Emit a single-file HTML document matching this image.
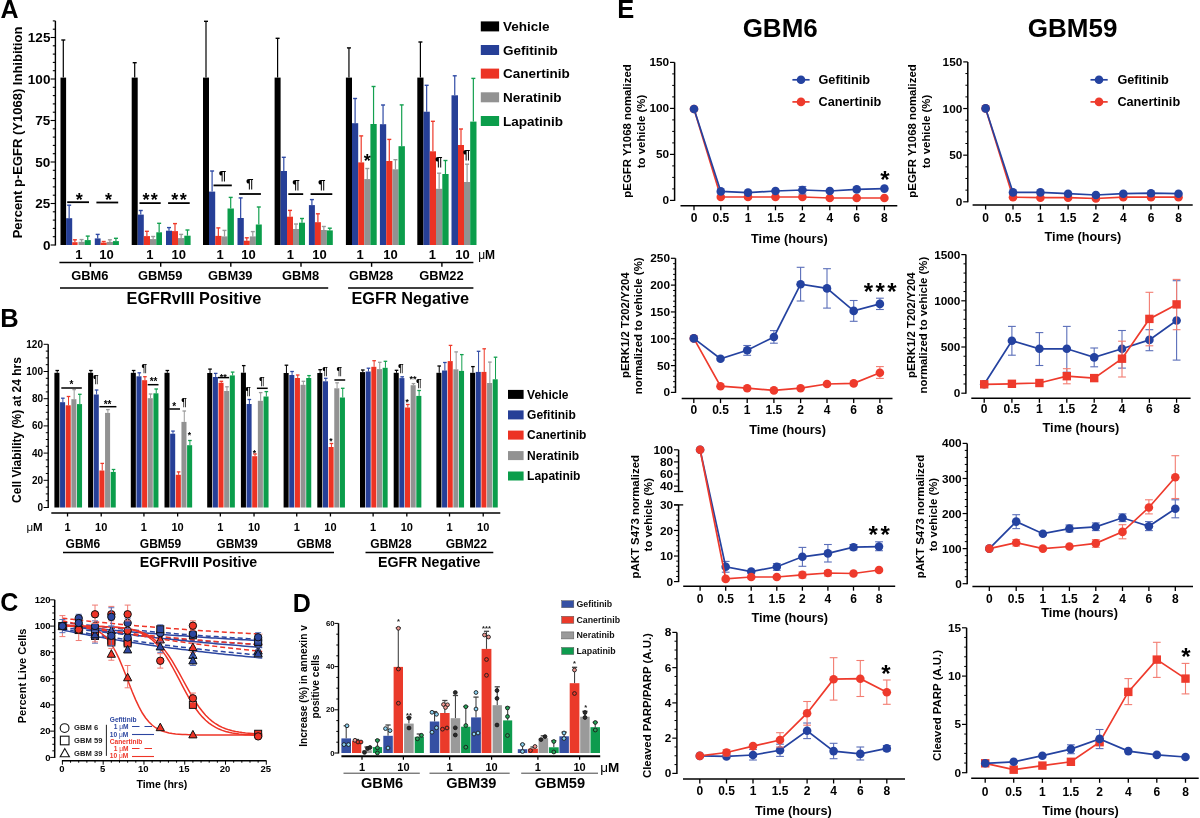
<!DOCTYPE html>
<html><head><meta charset="utf-8"><style>
html,body{margin:0;padding:0;background:#fff;width:1200px;height:818px;overflow:hidden}
svg{display:block;font-family:"Liberation Sans",sans-serif;will-change:transform}
</style></head><body>
<svg width="1200" height="818" viewBox="0 0 1200 818">
<rect width="1200" height="818" fill="#fff"/>
<text x="0.5" y="17.6" font-size="25" text-anchor="start" fill="#000" font-weight="bold">A</text>
<line x1="55.4" y1="20.9" x2="55.4" y2="245.5" stroke="#000" stroke-width="1.4"/>
<line x1="50.6" y1="245" x2="55.4" y2="245" stroke="#000" stroke-width="1.1"/>
<text x="50.4" y="249.64" font-size="13.5" text-anchor="end" fill="#000" font-weight="bold">0</text>
<line x1="52.8" y1="236.7" x2="55.4" y2="236.7" stroke="#000" stroke-width="1.1"/>
<line x1="52.8" y1="228.4" x2="55.4" y2="228.4" stroke="#000" stroke-width="1.1"/>
<line x1="52.8" y1="220.1" x2="55.4" y2="220.1" stroke="#000" stroke-width="1.1"/>
<line x1="52.8" y1="211.8" x2="55.4" y2="211.8" stroke="#000" stroke-width="1.1"/>
<line x1="50.6" y1="203.5" x2="55.4" y2="203.5" stroke="#000" stroke-width="1.1"/>
<text x="50.4" y="208.14" font-size="13.5" text-anchor="end" fill="#000" font-weight="bold">25</text>
<line x1="52.8" y1="195.2" x2="55.4" y2="195.2" stroke="#000" stroke-width="1.1"/>
<line x1="52.8" y1="186.9" x2="55.4" y2="186.9" stroke="#000" stroke-width="1.1"/>
<line x1="52.8" y1="178.6" x2="55.4" y2="178.6" stroke="#000" stroke-width="1.1"/>
<line x1="52.8" y1="170.3" x2="55.4" y2="170.3" stroke="#000" stroke-width="1.1"/>
<line x1="50.6" y1="162" x2="55.4" y2="162" stroke="#000" stroke-width="1.1"/>
<text x="50.4" y="166.64" font-size="13.5" text-anchor="end" fill="#000" font-weight="bold">50</text>
<line x1="52.8" y1="153.7" x2="55.4" y2="153.7" stroke="#000" stroke-width="1.1"/>
<line x1="52.8" y1="145.4" x2="55.4" y2="145.4" stroke="#000" stroke-width="1.1"/>
<line x1="52.8" y1="137.1" x2="55.4" y2="137.1" stroke="#000" stroke-width="1.1"/>
<line x1="52.8" y1="128.8" x2="55.4" y2="128.8" stroke="#000" stroke-width="1.1"/>
<line x1="50.6" y1="120.5" x2="55.4" y2="120.5" stroke="#000" stroke-width="1.1"/>
<text x="50.4" y="125.14" font-size="13.5" text-anchor="end" fill="#000" font-weight="bold">75</text>
<line x1="52.8" y1="112.2" x2="55.4" y2="112.2" stroke="#000" stroke-width="1.1"/>
<line x1="52.8" y1="103.9" x2="55.4" y2="103.9" stroke="#000" stroke-width="1.1"/>
<line x1="52.8" y1="95.6" x2="55.4" y2="95.6" stroke="#000" stroke-width="1.1"/>
<line x1="52.8" y1="87.3" x2="55.4" y2="87.3" stroke="#000" stroke-width="1.1"/>
<line x1="50.6" y1="79" x2="55.4" y2="79" stroke="#000" stroke-width="1.1"/>
<text x="50.4" y="83.64" font-size="13.5" text-anchor="end" fill="#000" font-weight="bold">100</text>
<line x1="52.8" y1="70.7" x2="55.4" y2="70.7" stroke="#000" stroke-width="1.1"/>
<line x1="52.8" y1="62.4" x2="55.4" y2="62.4" stroke="#000" stroke-width="1.1"/>
<line x1="52.8" y1="54.1" x2="55.4" y2="54.1" stroke="#000" stroke-width="1.1"/>
<line x1="52.8" y1="45.8" x2="55.4" y2="45.8" stroke="#000" stroke-width="1.1"/>
<line x1="50.6" y1="37.5" x2="55.4" y2="37.5" stroke="#000" stroke-width="1.1"/>
<text x="50.4" y="42.14" font-size="13.5" text-anchor="end" fill="#000" font-weight="bold">125</text>
<line x1="52.8" y1="29.2" x2="55.4" y2="29.2" stroke="#000" stroke-width="1.1"/>
<line x1="52.8" y1="20.9" x2="55.4" y2="20.9" stroke="#000" stroke-width="1.1"/>
<text x="0" y="0" transform="translate(21.97,132.5) rotate(-90)" font-size="13" text-anchor="middle" fill="#000" font-weight="bold">Percent p-EGFR (Y1068) Inhibition</text>
<line x1="63.3" y1="77.6" x2="63.3" y2="40" stroke="#000" stroke-width="1.2"/>
<line x1="61.3" y1="40" x2="65.3" y2="40" stroke="#000" stroke-width="1.4"/>
<line x1="69.15" y1="218.2" x2="69.15" y2="205.2" stroke="#2f4aa5" stroke-width="1.2"/>
<line x1="67.15" y1="205.2" x2="71.15" y2="205.2" stroke="#2f4aa5" stroke-width="1.4"/>
<line x1="74.9" y1="242.2" x2="74.9" y2="239.8" stroke="#ee3a2a" stroke-width="1.2"/>
<line x1="72.9" y1="239.8" x2="76.9" y2="239.8" stroke="#ee3a2a" stroke-width="1.4"/>
<line x1="81.6" y1="241.8" x2="81.6" y2="239.6" stroke="#9a9a9a" stroke-width="1.2"/>
<line x1="79.6" y1="239.6" x2="83.6" y2="239.6" stroke="#9a9a9a" stroke-width="1.4"/>
<line x1="87.75" y1="240.1" x2="87.75" y2="236.1" stroke="#13a04f" stroke-width="1.2"/>
<line x1="85.75" y1="236.1" x2="89.75" y2="236.1" stroke="#13a04f" stroke-width="1.4"/>
<line x1="97.7" y1="238.4" x2="97.7" y2="234.4" stroke="#2f4aa5" stroke-width="1.2"/>
<line x1="95.7" y1="234.4" x2="99.7" y2="234.4" stroke="#2f4aa5" stroke-width="1.4"/>
<line x1="103.7" y1="242.6" x2="103.7" y2="241.5" stroke="#ee3a2a" stroke-width="1.2"/>
<line x1="101.7" y1="241.5" x2="105.7" y2="241.5" stroke="#ee3a2a" stroke-width="1.4"/>
<line x1="109.9" y1="241.9" x2="109.9" y2="239.8" stroke="#9a9a9a" stroke-width="1.2"/>
<line x1="107.9" y1="239.8" x2="111.9" y2="239.8" stroke="#9a9a9a" stroke-width="1.4"/>
<line x1="115.95" y1="241.1" x2="115.95" y2="238.3" stroke="#13a04f" stroke-width="1.2"/>
<line x1="113.95" y1="238.3" x2="117.95" y2="238.3" stroke="#13a04f" stroke-width="1.4"/>
<rect x="60.5" y="77.6" width="5.6" height="167.4" fill="#000"/>
<rect x="66.1" y="218.2" width="6.1" height="26.8" fill="#263f97"/>
<rect x="72.2" y="242.2" width="5.4" height="2.8" fill="#ec3324"/>
<rect x="78.5" y="241.8" width="6.2" height="3.2" fill="#929292"/>
<rect x="84.7" y="240.1" width="6.1" height="4.9" fill="#0b9d4b"/>
<rect x="94.8" y="238.4" width="5.8" height="6.6" fill="#263f97"/>
<rect x="100.6" y="242.6" width="6.2" height="2.4" fill="#ec3324"/>
<rect x="106.8" y="241.9" width="6.2" height="3.1" fill="#929292"/>
<rect x="113" y="241.1" width="5.9" height="3.9" fill="#0b9d4b"/>
<line x1="134.7" y1="77.6" x2="134.7" y2="62.7" stroke="#000" stroke-width="1.2"/>
<line x1="132.7" y1="62.7" x2="136.7" y2="62.7" stroke="#000" stroke-width="1.4"/>
<line x1="140.75" y1="214.6" x2="140.75" y2="210.5" stroke="#2f4aa5" stroke-width="1.2"/>
<line x1="138.75" y1="210.5" x2="142.75" y2="210.5" stroke="#2f4aa5" stroke-width="1.4"/>
<line x1="146.9" y1="236.1" x2="146.9" y2="231.3" stroke="#ee3a2a" stroke-width="1.2"/>
<line x1="144.9" y1="231.3" x2="148.9" y2="231.3" stroke="#ee3a2a" stroke-width="1.4"/>
<line x1="153.15" y1="239.1" x2="153.15" y2="236.5" stroke="#9a9a9a" stroke-width="1.2"/>
<line x1="151.15" y1="236.5" x2="155.15" y2="236.5" stroke="#9a9a9a" stroke-width="1.4"/>
<line x1="159.15" y1="232.3" x2="159.15" y2="223.3" stroke="#13a04f" stroke-width="1.2"/>
<line x1="157.15" y1="223.3" x2="161.15" y2="223.3" stroke="#13a04f" stroke-width="1.4"/>
<line x1="169" y1="230.7" x2="169" y2="227.6" stroke="#2f4aa5" stroke-width="1.2"/>
<line x1="167" y1="227.6" x2="171" y2="227.6" stroke="#2f4aa5" stroke-width="1.4"/>
<line x1="175" y1="231.1" x2="175" y2="223.6" stroke="#ee3a2a" stroke-width="1.2"/>
<line x1="173" y1="223.6" x2="177" y2="223.6" stroke="#ee3a2a" stroke-width="1.4"/>
<line x1="181.15" y1="238.1" x2="181.15" y2="234.4" stroke="#9a9a9a" stroke-width="1.2"/>
<line x1="179.15" y1="234.4" x2="183.15" y2="234.4" stroke="#9a9a9a" stroke-width="1.4"/>
<line x1="187.45" y1="235.7" x2="187.45" y2="230" stroke="#13a04f" stroke-width="1.2"/>
<line x1="185.45" y1="230" x2="189.45" y2="230" stroke="#13a04f" stroke-width="1.4"/>
<rect x="131.7" y="77.6" width="6" height="167.4" fill="#000"/>
<rect x="137.7" y="214.6" width="6.1" height="30.4" fill="#263f97"/>
<rect x="143.8" y="236.1" width="6.2" height="8.9" fill="#ec3324"/>
<rect x="150" y="239.1" width="6.3" height="5.9" fill="#929292"/>
<rect x="156.3" y="232.3" width="5.7" height="12.7" fill="#0b9d4b"/>
<rect x="166" y="230.7" width="6" height="14.3" fill="#263f97"/>
<rect x="172" y="231.1" width="6" height="13.9" fill="#ec3324"/>
<rect x="178" y="238.1" width="6.3" height="6.9" fill="#929292"/>
<rect x="184.3" y="235.7" width="6.3" height="9.3" fill="#0b9d4b"/>
<line x1="206" y1="77.6" x2="206" y2="21.3" stroke="#000" stroke-width="1.2"/>
<line x1="204" y1="21.3" x2="208" y2="21.3" stroke="#000" stroke-width="1.4"/>
<line x1="212.1" y1="191.6" x2="212.1" y2="171" stroke="#2f4aa5" stroke-width="1.2"/>
<line x1="210.1" y1="171" x2="214.1" y2="171" stroke="#2f4aa5" stroke-width="1.4"/>
<line x1="218.35" y1="235.9" x2="218.35" y2="227.9" stroke="#ee3a2a" stroke-width="1.2"/>
<line x1="216.35" y1="227.9" x2="220.35" y2="227.9" stroke="#ee3a2a" stroke-width="1.4"/>
<line x1="224.5" y1="236.4" x2="224.5" y2="230.4" stroke="#9a9a9a" stroke-width="1.2"/>
<line x1="222.5" y1="230.4" x2="226.5" y2="230.4" stroke="#9a9a9a" stroke-width="1.4"/>
<line x1="230.7" y1="208.5" x2="230.7" y2="197.4" stroke="#13a04f" stroke-width="1.2"/>
<line x1="228.7" y1="197.4" x2="232.7" y2="197.4" stroke="#13a04f" stroke-width="1.4"/>
<line x1="240.65" y1="218" x2="240.65" y2="197.9" stroke="#2f4aa5" stroke-width="1.2"/>
<line x1="238.65" y1="197.9" x2="242.65" y2="197.9" stroke="#2f4aa5" stroke-width="1.4"/>
<line x1="246.8" y1="240.7" x2="246.8" y2="237.8" stroke="#ee3a2a" stroke-width="1.2"/>
<line x1="244.8" y1="237.8" x2="248.8" y2="237.8" stroke="#ee3a2a" stroke-width="1.4"/>
<line x1="252.8" y1="236.4" x2="252.8" y2="231.6" stroke="#9a9a9a" stroke-width="1.2"/>
<line x1="250.8" y1="231.6" x2="254.8" y2="231.6" stroke="#9a9a9a" stroke-width="1.4"/>
<line x1="258.8" y1="224.5" x2="258.8" y2="207" stroke="#13a04f" stroke-width="1.2"/>
<line x1="256.8" y1="207" x2="260.8" y2="207" stroke="#13a04f" stroke-width="1.4"/>
<rect x="203" y="77.6" width="6" height="167.4" fill="#000"/>
<rect x="209" y="191.6" width="6.2" height="53.4" fill="#263f97"/>
<rect x="215.2" y="235.9" width="6.3" height="9.1" fill="#ec3324"/>
<rect x="221.5" y="236.4" width="6" height="8.6" fill="#929292"/>
<rect x="227.5" y="208.5" width="6.4" height="36.5" fill="#0b9d4b"/>
<rect x="237.5" y="218" width="6.3" height="27" fill="#263f97"/>
<rect x="243.8" y="240.7" width="6" height="4.3" fill="#ec3324"/>
<rect x="249.8" y="236.4" width="6" height="8.6" fill="#929292"/>
<rect x="255.8" y="224.5" width="6" height="20.5" fill="#0b9d4b"/>
<line x1="277.6" y1="77.6" x2="277.6" y2="38.3" stroke="#000" stroke-width="1.2"/>
<line x1="275.6" y1="38.3" x2="279.6" y2="38.3" stroke="#000" stroke-width="1.4"/>
<line x1="283.8" y1="171" x2="283.8" y2="157.3" stroke="#2f4aa5" stroke-width="1.2"/>
<line x1="281.8" y1="157.3" x2="285.8" y2="157.3" stroke="#2f4aa5" stroke-width="1.4"/>
<line x1="290" y1="216.7" x2="290" y2="210.4" stroke="#ee3a2a" stroke-width="1.2"/>
<line x1="288" y1="210.4" x2="292" y2="210.4" stroke="#ee3a2a" stroke-width="1.4"/>
<line x1="296" y1="229" x2="296" y2="224" stroke="#9a9a9a" stroke-width="1.2"/>
<line x1="294" y1="224" x2="298" y2="224" stroke="#9a9a9a" stroke-width="1.4"/>
<line x1="302" y1="222.7" x2="302" y2="218.5" stroke="#13a04f" stroke-width="1.2"/>
<line x1="300" y1="218.5" x2="304" y2="218.5" stroke="#13a04f" stroke-width="1.4"/>
<line x1="311.9" y1="205.1" x2="311.9" y2="199.6" stroke="#2f4aa5" stroke-width="1.2"/>
<line x1="309.9" y1="199.6" x2="313.9" y2="199.6" stroke="#2f4aa5" stroke-width="1.4"/>
<line x1="317.9" y1="222.2" x2="317.9" y2="213.8" stroke="#ee3a2a" stroke-width="1.2"/>
<line x1="315.9" y1="213.8" x2="319.9" y2="213.8" stroke="#ee3a2a" stroke-width="1.4"/>
<line x1="323.85" y1="230" x2="323.85" y2="226.5" stroke="#9a9a9a" stroke-width="1.2"/>
<line x1="321.85" y1="226.5" x2="325.85" y2="226.5" stroke="#9a9a9a" stroke-width="1.4"/>
<line x1="329.8" y1="230.4" x2="329.8" y2="228.2" stroke="#13a04f" stroke-width="1.2"/>
<line x1="327.8" y1="228.2" x2="331.8" y2="228.2" stroke="#13a04f" stroke-width="1.4"/>
<rect x="274.6" y="77.6" width="6" height="167.4" fill="#000"/>
<rect x="280.6" y="171" width="6.4" height="74" fill="#263f97"/>
<rect x="287" y="216.7" width="6" height="28.3" fill="#ec3324"/>
<rect x="293" y="229" width="6" height="16" fill="#929292"/>
<rect x="299" y="222.7" width="6" height="22.3" fill="#0b9d4b"/>
<rect x="308.9" y="205.1" width="6" height="39.9" fill="#263f97"/>
<rect x="314.9" y="222.2" width="6" height="22.8" fill="#ec3324"/>
<rect x="320.9" y="230" width="5.9" height="15" fill="#929292"/>
<rect x="326.8" y="230.4" width="6" height="14.6" fill="#0b9d4b"/>
<line x1="348.95" y1="77.6" x2="348.95" y2="47.9" stroke="#000" stroke-width="1.2"/>
<line x1="346.95" y1="47.9" x2="350.95" y2="47.9" stroke="#000" stroke-width="1.4"/>
<line x1="355.1" y1="123.2" x2="355.1" y2="98.5" stroke="#2f4aa5" stroke-width="1.2"/>
<line x1="353.1" y1="98.5" x2="357.1" y2="98.5" stroke="#2f4aa5" stroke-width="1.4"/>
<line x1="361.2" y1="162.4" x2="361.2" y2="135.9" stroke="#ee3a2a" stroke-width="1.2"/>
<line x1="359.2" y1="135.9" x2="363.2" y2="135.9" stroke="#ee3a2a" stroke-width="1.4"/>
<line x1="367.3" y1="179.1" x2="367.3" y2="168.5" stroke="#9a9a9a" stroke-width="1.2"/>
<line x1="365.3" y1="168.5" x2="369.3" y2="168.5" stroke="#9a9a9a" stroke-width="1.4"/>
<line x1="373.55" y1="124" x2="373.55" y2="86.5" stroke="#13a04f" stroke-width="1.2"/>
<line x1="371.55" y1="86.5" x2="375.55" y2="86.5" stroke="#13a04f" stroke-width="1.4"/>
<line x1="383.05" y1="124.2" x2="383.05" y2="105" stroke="#2f4aa5" stroke-width="1.2"/>
<line x1="381.05" y1="105" x2="385.05" y2="105" stroke="#2f4aa5" stroke-width="1.4"/>
<line x1="389.3" y1="161" x2="389.3" y2="139.4" stroke="#ee3a2a" stroke-width="1.2"/>
<line x1="387.3" y1="139.4" x2="391.3" y2="139.4" stroke="#ee3a2a" stroke-width="1.4"/>
<line x1="395.45" y1="169.3" x2="395.45" y2="159.7" stroke="#9a9a9a" stroke-width="1.2"/>
<line x1="393.45" y1="159.7" x2="397.45" y2="159.7" stroke="#9a9a9a" stroke-width="1.4"/>
<line x1="401.7" y1="146.2" x2="401.7" y2="104.9" stroke="#13a04f" stroke-width="1.2"/>
<line x1="399.7" y1="104.9" x2="403.7" y2="104.9" stroke="#13a04f" stroke-width="1.4"/>
<rect x="345.9" y="77.6" width="6.1" height="167.4" fill="#000"/>
<rect x="352" y="123.2" width="6.2" height="121.8" fill="#263f97"/>
<rect x="358.2" y="162.4" width="6" height="82.6" fill="#ec3324"/>
<rect x="364.2" y="179.1" width="6.2" height="65.9" fill="#929292"/>
<rect x="370.4" y="124" width="6.3" height="121" fill="#0b9d4b"/>
<rect x="379.9" y="124.2" width="6.3" height="120.8" fill="#263f97"/>
<rect x="386.2" y="161" width="6.2" height="84" fill="#ec3324"/>
<rect x="392.4" y="169.3" width="6.1" height="75.7" fill="#929292"/>
<rect x="398.5" y="146.2" width="6.4" height="98.8" fill="#0b9d4b"/>
<line x1="420.4" y1="77.6" x2="420.4" y2="42" stroke="#000" stroke-width="1.2"/>
<line x1="418.4" y1="42" x2="422.4" y2="42" stroke="#000" stroke-width="1.4"/>
<line x1="426.65" y1="111.7" x2="426.65" y2="85.3" stroke="#2f4aa5" stroke-width="1.2"/>
<line x1="424.65" y1="85.3" x2="428.65" y2="85.3" stroke="#2f4aa5" stroke-width="1.4"/>
<line x1="432.9" y1="151.3" x2="432.9" y2="121.3" stroke="#ee3a2a" stroke-width="1.2"/>
<line x1="430.9" y1="121.3" x2="434.9" y2="121.3" stroke="#ee3a2a" stroke-width="1.4"/>
<line x1="439.15" y1="188.8" x2="439.15" y2="173.2" stroke="#9a9a9a" stroke-width="1.2"/>
<line x1="437.15" y1="173.2" x2="441.15" y2="173.2" stroke="#9a9a9a" stroke-width="1.4"/>
<line x1="445.45" y1="174" x2="445.45" y2="160.5" stroke="#13a04f" stroke-width="1.2"/>
<line x1="443.45" y1="160.5" x2="447.45" y2="160.5" stroke="#13a04f" stroke-width="1.4"/>
<line x1="454.75" y1="95.3" x2="454.75" y2="75.8" stroke="#2f4aa5" stroke-width="1.2"/>
<line x1="452.75" y1="75.8" x2="456.75" y2="75.8" stroke="#2f4aa5" stroke-width="1.4"/>
<line x1="461" y1="145" x2="461" y2="129" stroke="#ee3a2a" stroke-width="1.2"/>
<line x1="459" y1="129" x2="463" y2="129" stroke="#ee3a2a" stroke-width="1.4"/>
<line x1="467.1" y1="182" x2="467.1" y2="164.2" stroke="#9a9a9a" stroke-width="1.2"/>
<line x1="465.1" y1="164.2" x2="469.1" y2="164.2" stroke="#9a9a9a" stroke-width="1.4"/>
<line x1="473.35" y1="121.6" x2="473.35" y2="78.4" stroke="#13a04f" stroke-width="1.2"/>
<line x1="471.35" y1="78.4" x2="475.35" y2="78.4" stroke="#13a04f" stroke-width="1.4"/>
<rect x="417.3" y="77.6" width="6.2" height="167.4" fill="#000"/>
<rect x="423.5" y="111.7" width="6.3" height="133.3" fill="#263f97"/>
<rect x="429.8" y="151.3" width="6.2" height="93.7" fill="#ec3324"/>
<rect x="436" y="188.8" width="6.3" height="56.2" fill="#929292"/>
<rect x="442.3" y="174" width="6.3" height="71" fill="#0b9d4b"/>
<rect x="451.5" y="95.3" width="6.5" height="149.7" fill="#263f97"/>
<rect x="458" y="145" width="6" height="100" fill="#ec3324"/>
<rect x="464" y="182" width="6.2" height="63" fill="#929292"/>
<rect x="470.2" y="121.6" width="6.3" height="123.4" fill="#0b9d4b"/>
<line x1="67.2" y1="202.2" x2="89" y2="202.2" stroke="#000" stroke-width="1.8"/>
<text x="79.3" y="205.78" font-size="18" text-anchor="middle" fill="#000" font-weight="bold">*</text>
<line x1="96.4" y1="202.5" x2="118.2" y2="202.5" stroke="#000" stroke-width="1.8"/>
<text x="108.5" y="205.78" font-size="18" text-anchor="middle" fill="#000" font-weight="bold">*</text>
<line x1="139.5" y1="203.1" x2="160.7" y2="203.1" stroke="#000" stroke-width="1.8"/>
<text x="150.85" y="205.98" font-size="18" text-anchor="middle" fill="#000" font-weight="bold" letter-spacing="1.3">**</text>
<line x1="168.1" y1="203.1" x2="189.7" y2="203.1" stroke="#000" stroke-width="1.8"/>
<text x="179.65" y="205.98" font-size="18" text-anchor="middle" fill="#000" font-weight="bold" letter-spacing="1.3">**</text>
<line x1="213.5" y1="185.4" x2="231.8" y2="185.4" stroke="#000" stroke-width="1.8"/>
<text x="222.4" y="180.05" font-size="13.5" text-anchor="middle" fill="#000" font-weight="bold">¶</text>
<line x1="239.2" y1="194" x2="260.9" y2="194" stroke="#000" stroke-width="1.8"/>
<text x="249.8" y="187.65" font-size="13.5" text-anchor="middle" fill="#000" font-weight="bold">¶</text>
<line x1="288.3" y1="194.1" x2="303.2" y2="194.1" stroke="#000" stroke-width="1.8"/>
<text x="296" y="188.65" font-size="13.5" text-anchor="middle" fill="#000" font-weight="bold">¶</text>
<line x1="310.6" y1="194.1" x2="332.3" y2="194.1" stroke="#000" stroke-width="1.8"/>
<text x="321.7" y="188.65" font-size="13.5" text-anchor="middle" fill="#000" font-weight="bold">¶</text>
<text x="367.3" y="167.48" font-size="18" text-anchor="middle" fill="#000" font-weight="bold">*</text>
<text x="438.8" y="165.85" font-size="13.5" text-anchor="middle" fill="#000" font-weight="bold">¶</text>
<text x="466.6" y="159.15" font-size="13.5" text-anchor="middle" fill="#000" font-weight="bold">¶</text>
<text x="78.8" y="258.97" font-size="13" text-anchor="middle" fill="#000" font-weight="bold">1</text>
<text x="106.4" y="258.97" font-size="13" text-anchor="middle" fill="#000" font-weight="bold">10</text>
<text x="149.8" y="258.97" font-size="13" text-anchor="middle" fill="#000" font-weight="bold">1</text>
<text x="178.8" y="258.97" font-size="13" text-anchor="middle" fill="#000" font-weight="bold">10</text>
<text x="220.2" y="258.97" font-size="13" text-anchor="middle" fill="#000" font-weight="bold">1</text>
<text x="248.6" y="258.97" font-size="13" text-anchor="middle" fill="#000" font-weight="bold">10</text>
<text x="290.4" y="258.97" font-size="13" text-anchor="middle" fill="#000" font-weight="bold">1</text>
<text x="319.4" y="258.97" font-size="13" text-anchor="middle" fill="#000" font-weight="bold">10</text>
<text x="360.2" y="258.97" font-size="13" text-anchor="middle" fill="#000" font-weight="bold">1</text>
<text x="390.4" y="258.97" font-size="13" text-anchor="middle" fill="#000" font-weight="bold">10</text>
<text x="432.4" y="258.97" font-size="13" text-anchor="middle" fill="#000" font-weight="bold">1</text>
<text x="462.6" y="258.97" font-size="13" text-anchor="middle" fill="#000" font-weight="bold">10</text>
<text x="478.2" y="258.63" font-size="12" text-anchor="start" fill="#000" font-weight="bold"><tspan font-weight="normal">μ</tspan>M</text>
<line x1="59.4" y1="262.5" x2="473.4" y2="262.5" stroke="#000" stroke-width="1.5"/>
<line x1="90.4" y1="262.5" x2="90.4" y2="266.8" stroke="#000" stroke-width="1.4"/>
<text x="89.9" y="279.74" font-size="12.9" text-anchor="middle" fill="#000" font-weight="bold">GBM6</text>
<line x1="160.7" y1="262.5" x2="160.7" y2="266.8" stroke="#000" stroke-width="1.4"/>
<text x="160.2" y="279.74" font-size="12.9" text-anchor="middle" fill="#000" font-weight="bold">GBM59</text>
<line x1="230.8" y1="262.5" x2="230.8" y2="266.8" stroke="#000" stroke-width="1.4"/>
<text x="230.3" y="279.74" font-size="12.9" text-anchor="middle" fill="#000" font-weight="bold">GBM39</text>
<line x1="301" y1="262.5" x2="301" y2="266.8" stroke="#000" stroke-width="1.4"/>
<text x="300.5" y="279.74" font-size="12.9" text-anchor="middle" fill="#000" font-weight="bold">GBM8</text>
<line x1="371.6" y1="262.5" x2="371.6" y2="266.8" stroke="#000" stroke-width="1.4"/>
<text x="371.1" y="279.74" font-size="12.9" text-anchor="middle" fill="#000" font-weight="bold">GBM28</text>
<line x1="441.9" y1="262.5" x2="441.9" y2="266.8" stroke="#000" stroke-width="1.4"/>
<text x="441.4" y="279.74" font-size="12.9" text-anchor="middle" fill="#000" font-weight="bold">GBM22</text>
<line x1="60" y1="288" x2="328.2" y2="288" stroke="#000" stroke-width="1.4"/>
<line x1="348.1" y1="288" x2="473.4" y2="288" stroke="#000" stroke-width="1.4"/>
<text x="194" y="303.81" font-size="16.3" text-anchor="middle" fill="#000" font-weight="bold">EGFRvIII Positive</text>
<text x="410.3" y="303.81" font-size="16.3" text-anchor="middle" fill="#000" font-weight="bold">EGFR Negative</text>
<rect x="480.8" y="21.4" width="18.3" height="10" fill="#000"/>
<text x="503" y="31.04" font-size="13.5" text-anchor="start" fill="#000" font-weight="bold">Vehicle</text>
<rect x="480.8" y="45" width="18.3" height="10" fill="#263f97"/>
<text x="503" y="54.64" font-size="13.5" text-anchor="start" fill="#000" font-weight="bold">Gefitinib</text>
<rect x="480.8" y="68.6" width="18.3" height="10" fill="#ec3324"/>
<text x="503" y="78.24" font-size="13.5" text-anchor="start" fill="#000" font-weight="bold">Canertinib</text>
<rect x="480.8" y="92.3" width="18.3" height="10" fill="#929292"/>
<text x="503" y="101.94" font-size="13.5" text-anchor="start" fill="#000" font-weight="bold">Neratinib</text>
<rect x="480.8" y="116" width="18.3" height="10" fill="#0b9d4b"/>
<text x="503" y="125.64" font-size="13.5" text-anchor="start" fill="#000" font-weight="bold">Lapatinib</text>
<text x="0.2" y="326.77" font-size="25.5" text-anchor="start" fill="#000" font-weight="bold">B</text>
<line x1="48.2" y1="344.3" x2="48.2" y2="508" stroke="#000" stroke-width="1.4"/>
<line x1="43.6" y1="507.5" x2="48.2" y2="507.5" stroke="#000" stroke-width="1"/>
<text x="43" y="510.94" font-size="10" text-anchor="end" fill="#000" font-weight="bold">0</text>
<line x1="45.8" y1="500.7" x2="48.2" y2="500.7" stroke="#000" stroke-width="1"/>
<line x1="45.8" y1="493.9" x2="48.2" y2="493.9" stroke="#000" stroke-width="1"/>
<line x1="45.8" y1="487.1" x2="48.2" y2="487.1" stroke="#000" stroke-width="1"/>
<line x1="43.6" y1="480.3" x2="48.2" y2="480.3" stroke="#000" stroke-width="1"/>
<text x="43" y="483.74" font-size="10" text-anchor="end" fill="#000" font-weight="bold">20</text>
<line x1="45.8" y1="473.5" x2="48.2" y2="473.5" stroke="#000" stroke-width="1"/>
<line x1="45.8" y1="466.7" x2="48.2" y2="466.7" stroke="#000" stroke-width="1"/>
<line x1="45.8" y1="459.9" x2="48.2" y2="459.9" stroke="#000" stroke-width="1"/>
<line x1="43.6" y1="453.1" x2="48.2" y2="453.1" stroke="#000" stroke-width="1"/>
<text x="43" y="456.54" font-size="10" text-anchor="end" fill="#000" font-weight="bold">40</text>
<line x1="45.8" y1="446.3" x2="48.2" y2="446.3" stroke="#000" stroke-width="1"/>
<line x1="45.8" y1="439.5" x2="48.2" y2="439.5" stroke="#000" stroke-width="1"/>
<line x1="45.8" y1="432.7" x2="48.2" y2="432.7" stroke="#000" stroke-width="1"/>
<line x1="43.6" y1="425.9" x2="48.2" y2="425.9" stroke="#000" stroke-width="1"/>
<text x="43" y="429.34" font-size="10" text-anchor="end" fill="#000" font-weight="bold">60</text>
<line x1="45.8" y1="419.1" x2="48.2" y2="419.1" stroke="#000" stroke-width="1"/>
<line x1="45.8" y1="412.3" x2="48.2" y2="412.3" stroke="#000" stroke-width="1"/>
<line x1="45.8" y1="405.5" x2="48.2" y2="405.5" stroke="#000" stroke-width="1"/>
<line x1="43.6" y1="398.7" x2="48.2" y2="398.7" stroke="#000" stroke-width="1"/>
<text x="43" y="402.14" font-size="10" text-anchor="end" fill="#000" font-weight="bold">80</text>
<line x1="45.8" y1="391.9" x2="48.2" y2="391.9" stroke="#000" stroke-width="1"/>
<line x1="45.8" y1="385.1" x2="48.2" y2="385.1" stroke="#000" stroke-width="1"/>
<line x1="45.8" y1="378.3" x2="48.2" y2="378.3" stroke="#000" stroke-width="1"/>
<line x1="43.6" y1="371.5" x2="48.2" y2="371.5" stroke="#000" stroke-width="1"/>
<text x="43" y="374.94" font-size="10" text-anchor="end" fill="#000" font-weight="bold">100</text>
<line x1="45.8" y1="364.7" x2="48.2" y2="364.7" stroke="#000" stroke-width="1"/>
<line x1="45.8" y1="357.9" x2="48.2" y2="357.9" stroke="#000" stroke-width="1"/>
<line x1="45.8" y1="351.1" x2="48.2" y2="351.1" stroke="#000" stroke-width="1"/>
<line x1="43.6" y1="344.3" x2="48.2" y2="344.3" stroke="#000" stroke-width="1"/>
<text x="43" y="347.74" font-size="10" text-anchor="end" fill="#000" font-weight="bold">120</text>
<text x="0" y="0" transform="translate(20.93,430) rotate(-90)" font-size="12" text-anchor="middle" fill="#000" font-weight="bold">Cell Viability (%) at 24 hrs</text>
<line x1="57.23" y1="372.8" x2="57.23" y2="370.5" stroke="#000" stroke-width="1"/>
<line x1="55.43" y1="370.5" x2="59.02" y2="370.5" stroke="#000" stroke-width="1.3"/>
<line x1="62.88" y1="402.2" x2="62.88" y2="398.2" stroke="#2f4aa5" stroke-width="1"/>
<line x1="61.08" y1="398.2" x2="64.67" y2="398.2" stroke="#2f4aa5" stroke-width="1.3"/>
<line x1="68.53" y1="405.3" x2="68.53" y2="396.5" stroke="#ee3a2a" stroke-width="1"/>
<line x1="66.73" y1="396.5" x2="70.33" y2="396.5" stroke="#ee3a2a" stroke-width="1.3"/>
<line x1="74.17" y1="399.2" x2="74.17" y2="389.6" stroke="#9a9a9a" stroke-width="1"/>
<line x1="72.38" y1="389.6" x2="75.97" y2="389.6" stroke="#9a9a9a" stroke-width="1.3"/>
<line x1="79.83" y1="404.1" x2="79.83" y2="394.3" stroke="#13a04f" stroke-width="1"/>
<line x1="78.03" y1="394.3" x2="81.62" y2="394.3" stroke="#13a04f" stroke-width="1.3"/>
<rect x="54.4" y="372.8" width="5.05" height="134.7" fill="#000"/>
<rect x="60.05" y="402.2" width="5.05" height="105.3" fill="#263f97"/>
<rect x="65.7" y="405.3" width="5.05" height="102.2" fill="#ec3324"/>
<rect x="71.35" y="399.2" width="5.05" height="108.3" fill="#929292"/>
<rect x="77" y="404.1" width="5.05" height="103.4" fill="#0b9d4b"/>
<line x1="90.92" y1="372.8" x2="90.92" y2="370.5" stroke="#000" stroke-width="1"/>
<line x1="89.12" y1="370.5" x2="92.72" y2="370.5" stroke="#000" stroke-width="1.3"/>
<line x1="96.58" y1="394.5" x2="96.58" y2="390" stroke="#2f4aa5" stroke-width="1"/>
<line x1="94.78" y1="390" x2="98.38" y2="390" stroke="#2f4aa5" stroke-width="1.3"/>
<line x1="102.22" y1="470.5" x2="102.22" y2="463.4" stroke="#ee3a2a" stroke-width="1"/>
<line x1="100.42" y1="463.4" x2="104.02" y2="463.4" stroke="#ee3a2a" stroke-width="1.3"/>
<line x1="107.88" y1="412.9" x2="107.88" y2="409.6" stroke="#9a9a9a" stroke-width="1"/>
<line x1="106.08" y1="409.6" x2="109.67" y2="409.6" stroke="#9a9a9a" stroke-width="1.3"/>
<line x1="113.52" y1="471.9" x2="113.52" y2="469.5" stroke="#13a04f" stroke-width="1"/>
<line x1="111.72" y1="469.5" x2="115.32" y2="469.5" stroke="#13a04f" stroke-width="1.3"/>
<rect x="88.1" y="372.8" width="5.05" height="134.7" fill="#000"/>
<rect x="93.75" y="394.5" width="5.05" height="113" fill="#263f97"/>
<rect x="99.4" y="470.5" width="5.05" height="37" fill="#ec3324"/>
<rect x="105.05" y="412.9" width="5.05" height="94.6" fill="#929292"/>
<rect x="110.7" y="471.9" width="5.05" height="35.6" fill="#0b9d4b"/>
<line x1="133.62" y1="372.8" x2="133.62" y2="370.5" stroke="#000" stroke-width="1"/>
<line x1="131.82" y1="370.5" x2="135.43" y2="370.5" stroke="#000" stroke-width="1.3"/>
<line x1="139.28" y1="376.3" x2="139.28" y2="372.8" stroke="#2f4aa5" stroke-width="1"/>
<line x1="137.47" y1="372.8" x2="141.08" y2="372.8" stroke="#2f4aa5" stroke-width="1.3"/>
<line x1="144.93" y1="380.2" x2="144.93" y2="376.7" stroke="#ee3a2a" stroke-width="1"/>
<line x1="143.12" y1="376.7" x2="146.73" y2="376.7" stroke="#ee3a2a" stroke-width="1.3"/>
<line x1="150.57" y1="398.2" x2="150.57" y2="394" stroke="#9a9a9a" stroke-width="1"/>
<line x1="148.77" y1="394" x2="152.38" y2="394" stroke="#9a9a9a" stroke-width="1.3"/>
<line x1="156.22" y1="393.3" x2="156.22" y2="389" stroke="#13a04f" stroke-width="1"/>
<line x1="154.42" y1="389" x2="158.03" y2="389" stroke="#13a04f" stroke-width="1.3"/>
<rect x="130.8" y="372.8" width="5.05" height="134.7" fill="#000"/>
<rect x="136.45" y="376.3" width="5.05" height="131.2" fill="#263f97"/>
<rect x="142.1" y="380.2" width="5.05" height="127.3" fill="#ec3324"/>
<rect x="147.75" y="398.2" width="5.05" height="109.3" fill="#929292"/>
<rect x="153.4" y="393.3" width="5.05" height="114.2" fill="#0b9d4b"/>
<line x1="167.32" y1="372.8" x2="167.32" y2="370.5" stroke="#000" stroke-width="1"/>
<line x1="165.52" y1="370.5" x2="169.12" y2="370.5" stroke="#000" stroke-width="1.3"/>
<line x1="172.97" y1="433.7" x2="172.97" y2="431.1" stroke="#2f4aa5" stroke-width="1"/>
<line x1="171.17" y1="431.1" x2="174.78" y2="431.1" stroke="#2f4aa5" stroke-width="1.3"/>
<line x1="178.62" y1="474.8" x2="178.62" y2="471.9" stroke="#ee3a2a" stroke-width="1"/>
<line x1="176.82" y1="471.9" x2="180.43" y2="471.9" stroke="#ee3a2a" stroke-width="1.3"/>
<line x1="184.27" y1="421.9" x2="184.27" y2="411" stroke="#9a9a9a" stroke-width="1"/>
<line x1="182.47" y1="411" x2="186.07" y2="411" stroke="#9a9a9a" stroke-width="1.3"/>
<line x1="189.92" y1="445.2" x2="189.92" y2="440.5" stroke="#13a04f" stroke-width="1"/>
<line x1="188.12" y1="440.5" x2="191.72" y2="440.5" stroke="#13a04f" stroke-width="1.3"/>
<rect x="164.5" y="372.8" width="5.05" height="134.7" fill="#000"/>
<rect x="170.15" y="433.7" width="5.05" height="73.8" fill="#263f97"/>
<rect x="175.8" y="474.8" width="5.05" height="32.7" fill="#ec3324"/>
<rect x="181.45" y="421.9" width="5.05" height="85.6" fill="#929292"/>
<rect x="187.1" y="445.2" width="5.05" height="62.3" fill="#0b9d4b"/>
<line x1="210.03" y1="373" x2="210.03" y2="369.1" stroke="#000" stroke-width="1"/>
<line x1="208.22" y1="369.1" x2="211.83" y2="369.1" stroke="#000" stroke-width="1.3"/>
<line x1="215.68" y1="377" x2="215.68" y2="373.4" stroke="#2f4aa5" stroke-width="1"/>
<line x1="213.88" y1="373.4" x2="217.48" y2="373.4" stroke="#2f4aa5" stroke-width="1.3"/>
<line x1="221.33" y1="382.8" x2="221.33" y2="381.3" stroke="#ee3a2a" stroke-width="1"/>
<line x1="219.53" y1="381.3" x2="223.13" y2="381.3" stroke="#ee3a2a" stroke-width="1.3"/>
<line x1="226.98" y1="391" x2="226.98" y2="386.8" stroke="#9a9a9a" stroke-width="1"/>
<line x1="225.18" y1="386.8" x2="228.78" y2="386.8" stroke="#9a9a9a" stroke-width="1.3"/>
<line x1="232.62" y1="375.4" x2="232.62" y2="372.1" stroke="#13a04f" stroke-width="1"/>
<line x1="230.82" y1="372.1" x2="234.43" y2="372.1" stroke="#13a04f" stroke-width="1.3"/>
<rect x="207.2" y="373" width="5.05" height="134.5" fill="#000"/>
<rect x="212.85" y="377" width="5.05" height="130.5" fill="#263f97"/>
<rect x="218.5" y="382.8" width="5.05" height="124.7" fill="#ec3324"/>
<rect x="224.15" y="391" width="5.05" height="116.5" fill="#929292"/>
<rect x="229.8" y="375.4" width="5.05" height="132.1" fill="#0b9d4b"/>
<line x1="243.73" y1="372.7" x2="243.73" y2="365.6" stroke="#000" stroke-width="1"/>
<line x1="241.93" y1="365.6" x2="245.53" y2="365.6" stroke="#000" stroke-width="1.3"/>
<line x1="249.38" y1="404" x2="249.38" y2="399.5" stroke="#2f4aa5" stroke-width="1"/>
<line x1="247.58" y1="399.5" x2="251.18" y2="399.5" stroke="#2f4aa5" stroke-width="1.3"/>
<line x1="255.03" y1="456.2" x2="255.03" y2="454" stroke="#ee3a2a" stroke-width="1"/>
<line x1="253.23" y1="454" x2="256.83" y2="454" stroke="#ee3a2a" stroke-width="1.3"/>
<line x1="260.68" y1="400.8" x2="260.68" y2="392.6" stroke="#9a9a9a" stroke-width="1"/>
<line x1="258.88" y1="392.6" x2="262.48" y2="392.6" stroke="#9a9a9a" stroke-width="1.3"/>
<line x1="266.33" y1="396.5" x2="266.33" y2="391.6" stroke="#13a04f" stroke-width="1"/>
<line x1="264.53" y1="391.6" x2="268.13" y2="391.6" stroke="#13a04f" stroke-width="1.3"/>
<rect x="240.9" y="372.7" width="5.05" height="134.8" fill="#000"/>
<rect x="246.55" y="404" width="5.05" height="103.5" fill="#263f97"/>
<rect x="252.2" y="456.2" width="5.05" height="51.3" fill="#ec3324"/>
<rect x="257.85" y="400.8" width="5.05" height="106.7" fill="#929292"/>
<rect x="263.5" y="396.5" width="5.05" height="111" fill="#0b9d4b"/>
<line x1="286.43" y1="373" x2="286.43" y2="365.2" stroke="#000" stroke-width="1"/>
<line x1="284.62" y1="365.2" x2="288.23" y2="365.2" stroke="#000" stroke-width="1.3"/>
<line x1="292.07" y1="375" x2="292.07" y2="371.5" stroke="#2f4aa5" stroke-width="1"/>
<line x1="290.27" y1="371.5" x2="293.88" y2="371.5" stroke="#2f4aa5" stroke-width="1.3"/>
<line x1="297.73" y1="378" x2="297.73" y2="375" stroke="#ee3a2a" stroke-width="1"/>
<line x1="295.93" y1="375" x2="299.53" y2="375" stroke="#ee3a2a" stroke-width="1.3"/>
<line x1="303.38" y1="384.8" x2="303.38" y2="381.3" stroke="#9a9a9a" stroke-width="1"/>
<line x1="301.57" y1="381.3" x2="305.18" y2="381.3" stroke="#9a9a9a" stroke-width="1.3"/>
<line x1="309.03" y1="378" x2="309.03" y2="375.6" stroke="#13a04f" stroke-width="1"/>
<line x1="307.23" y1="375.6" x2="310.83" y2="375.6" stroke="#13a04f" stroke-width="1.3"/>
<rect x="283.6" y="373" width="5.05" height="134.5" fill="#000"/>
<rect x="289.25" y="375" width="5.05" height="132.5" fill="#263f97"/>
<rect x="294.9" y="378" width="5.05" height="129.5" fill="#ec3324"/>
<rect x="300.55" y="384.8" width="5.05" height="122.7" fill="#929292"/>
<rect x="306.2" y="378" width="5.05" height="129.5" fill="#0b9d4b"/>
<line x1="320.12" y1="373" x2="320.12" y2="369.7" stroke="#000" stroke-width="1"/>
<line x1="318.32" y1="369.7" x2="321.93" y2="369.7" stroke="#000" stroke-width="1.3"/>
<line x1="325.77" y1="381.3" x2="325.77" y2="378.3" stroke="#2f4aa5" stroke-width="1"/>
<line x1="323.97" y1="378.3" x2="327.57" y2="378.3" stroke="#2f4aa5" stroke-width="1.3"/>
<line x1="331.43" y1="447" x2="331.43" y2="443.5" stroke="#ee3a2a" stroke-width="1"/>
<line x1="329.62" y1="443.5" x2="333.23" y2="443.5" stroke="#ee3a2a" stroke-width="1.3"/>
<line x1="337.07" y1="388.3" x2="337.07" y2="382.8" stroke="#9a9a9a" stroke-width="1"/>
<line x1="335.27" y1="382.8" x2="338.88" y2="382.8" stroke="#9a9a9a" stroke-width="1.3"/>
<line x1="342.73" y1="397.5" x2="342.73" y2="388.3" stroke="#13a04f" stroke-width="1"/>
<line x1="340.93" y1="388.3" x2="344.53" y2="388.3" stroke="#13a04f" stroke-width="1.3"/>
<rect x="317.3" y="373" width="5.05" height="134.5" fill="#000"/>
<rect x="322.95" y="381.3" width="5.05" height="126.2" fill="#263f97"/>
<rect x="328.6" y="447" width="5.05" height="60.5" fill="#ec3324"/>
<rect x="334.25" y="388.3" width="5.05" height="119.2" fill="#929292"/>
<rect x="339.9" y="397.5" width="5.05" height="110" fill="#0b9d4b"/>
<line x1="362.82" y1="372.1" x2="362.82" y2="370" stroke="#000" stroke-width="1"/>
<line x1="361.02" y1="370" x2="364.62" y2="370" stroke="#000" stroke-width="1.3"/>
<line x1="368.47" y1="371.5" x2="368.47" y2="368.2" stroke="#2f4aa5" stroke-width="1"/>
<line x1="366.67" y1="368.2" x2="370.27" y2="368.2" stroke="#2f4aa5" stroke-width="1.3"/>
<line x1="374.12" y1="366.8" x2="374.12" y2="360.7" stroke="#ee3a2a" stroke-width="1"/>
<line x1="372.32" y1="360.7" x2="375.93" y2="360.7" stroke="#ee3a2a" stroke-width="1.3"/>
<line x1="379.77" y1="369.1" x2="379.77" y2="362.3" stroke="#9a9a9a" stroke-width="1"/>
<line x1="377.97" y1="362.3" x2="381.57" y2="362.3" stroke="#9a9a9a" stroke-width="1.3"/>
<line x1="385.43" y1="367.8" x2="385.43" y2="361.3" stroke="#13a04f" stroke-width="1"/>
<line x1="383.62" y1="361.3" x2="387.23" y2="361.3" stroke="#13a04f" stroke-width="1.3"/>
<rect x="360" y="372.1" width="5.05" height="135.4" fill="#000"/>
<rect x="365.65" y="371.5" width="5.05" height="136" fill="#263f97"/>
<rect x="371.3" y="366.8" width="5.05" height="140.7" fill="#ec3324"/>
<rect x="376.95" y="369.1" width="5.05" height="138.4" fill="#929292"/>
<rect x="382.6" y="367.8" width="5.05" height="139.7" fill="#0b9d4b"/>
<line x1="396.52" y1="372.8" x2="396.52" y2="370.3" stroke="#000" stroke-width="1"/>
<line x1="394.72" y1="370.3" x2="398.32" y2="370.3" stroke="#000" stroke-width="1.3"/>
<line x1="402.17" y1="378.1" x2="402.17" y2="376.8" stroke="#2f4aa5" stroke-width="1"/>
<line x1="400.37" y1="376.8" x2="403.97" y2="376.8" stroke="#2f4aa5" stroke-width="1.3"/>
<line x1="407.82" y1="407.5" x2="407.82" y2="404.5" stroke="#ee3a2a" stroke-width="1"/>
<line x1="406.02" y1="404.5" x2="409.62" y2="404.5" stroke="#ee3a2a" stroke-width="1.3"/>
<line x1="413.47" y1="385.2" x2="413.47" y2="383.6" stroke="#9a9a9a" stroke-width="1"/>
<line x1="411.67" y1="383.6" x2="415.27" y2="383.6" stroke="#9a9a9a" stroke-width="1.3"/>
<line x1="419.12" y1="395.9" x2="419.12" y2="390.5" stroke="#13a04f" stroke-width="1"/>
<line x1="417.32" y1="390.5" x2="420.93" y2="390.5" stroke="#13a04f" stroke-width="1.3"/>
<rect x="393.7" y="372.8" width="5.05" height="134.7" fill="#000"/>
<rect x="399.35" y="378.1" width="5.05" height="129.4" fill="#263f97"/>
<rect x="405" y="407.5" width="5.05" height="100" fill="#ec3324"/>
<rect x="410.65" y="385.2" width="5.05" height="122.3" fill="#929292"/>
<rect x="416.3" y="395.9" width="5.05" height="111.6" fill="#0b9d4b"/>
<line x1="439.22" y1="372.8" x2="439.22" y2="366" stroke="#000" stroke-width="1"/>
<line x1="437.42" y1="366" x2="441.02" y2="366" stroke="#000" stroke-width="1.3"/>
<line x1="444.87" y1="370.5" x2="444.87" y2="362.5" stroke="#2f4aa5" stroke-width="1"/>
<line x1="443.07" y1="362.5" x2="446.67" y2="362.5" stroke="#2f4aa5" stroke-width="1.3"/>
<line x1="450.52" y1="361.1" x2="450.52" y2="345.4" stroke="#ee3a2a" stroke-width="1"/>
<line x1="448.72" y1="345.4" x2="452.32" y2="345.4" stroke="#ee3a2a" stroke-width="1.3"/>
<line x1="456.17" y1="369.3" x2="456.17" y2="351.9" stroke="#9a9a9a" stroke-width="1"/>
<line x1="454.37" y1="351.9" x2="457.97" y2="351.9" stroke="#9a9a9a" stroke-width="1.3"/>
<line x1="461.82" y1="370.9" x2="461.82" y2="354.6" stroke="#13a04f" stroke-width="1"/>
<line x1="460.02" y1="354.6" x2="463.62" y2="354.6" stroke="#13a04f" stroke-width="1.3"/>
<rect x="436.4" y="372.8" width="5.05" height="134.7" fill="#000"/>
<rect x="442.05" y="370.5" width="5.05" height="137" fill="#263f97"/>
<rect x="447.7" y="361.1" width="5.05" height="146.4" fill="#ec3324"/>
<rect x="453.35" y="369.3" width="5.05" height="138.2" fill="#929292"/>
<rect x="459" y="370.9" width="5.05" height="136.6" fill="#0b9d4b"/>
<line x1="472.92" y1="372.8" x2="472.92" y2="366.6" stroke="#000" stroke-width="1"/>
<line x1="471.12" y1="366.6" x2="474.72" y2="366.6" stroke="#000" stroke-width="1.3"/>
<line x1="478.57" y1="371.9" x2="478.57" y2="351.3" stroke="#2f4aa5" stroke-width="1"/>
<line x1="476.77" y1="351.3" x2="480.37" y2="351.3" stroke="#2f4aa5" stroke-width="1.3"/>
<line x1="484.22" y1="371.9" x2="484.22" y2="348.8" stroke="#ee3a2a" stroke-width="1"/>
<line x1="482.42" y1="348.8" x2="486.02" y2="348.8" stroke="#ee3a2a" stroke-width="1.3"/>
<line x1="489.87" y1="383" x2="489.87" y2="362.1" stroke="#9a9a9a" stroke-width="1"/>
<line x1="488.07" y1="362.1" x2="491.67" y2="362.1" stroke="#9a9a9a" stroke-width="1.3"/>
<line x1="495.52" y1="379.3" x2="495.52" y2="357.2" stroke="#13a04f" stroke-width="1"/>
<line x1="493.72" y1="357.2" x2="497.32" y2="357.2" stroke="#13a04f" stroke-width="1.3"/>
<rect x="470.1" y="372.8" width="5.05" height="134.7" fill="#000"/>
<rect x="475.75" y="371.9" width="5.05" height="135.6" fill="#263f97"/>
<rect x="481.4" y="371.9" width="5.05" height="135.6" fill="#ec3324"/>
<rect x="487.05" y="383" width="5.05" height="124.5" fill="#929292"/>
<rect x="492.7" y="379.3" width="5.05" height="128.2" fill="#0b9d4b"/>
<line x1="61.3" y1="388" x2="81.8" y2="388" stroke="#000" stroke-width="1.5"/>
<line x1="99.4" y1="406.7" x2="116.4" y2="406.7" stroke="#000" stroke-width="1.5"/>
<line x1="147.7" y1="384.7" x2="158.5" y2="384.7" stroke="#000" stroke-width="1.5"/>
<line x1="169.3" y1="409" x2="180" y2="409" stroke="#000" stroke-width="1.5"/>
<line x1="218" y1="377.6" x2="229.1" y2="377.6" stroke="#000" stroke-width="1.5"/>
<line x1="256.9" y1="388.3" x2="267.7" y2="388.3" stroke="#000" stroke-width="1.5"/>
<line x1="334.4" y1="380" x2="345.2" y2="380" stroke="#000" stroke-width="1.5"/>
<text x="71.4" y="388.3" font-size="10" text-anchor="middle" fill="#000" font-weight="bold">*</text>
<text x="107.6" y="407.8" font-size="10" text-anchor="middle" fill="#000" font-weight="bold">**</text>
<text x="95.9" y="383.45" font-size="10" text-anchor="middle" fill="#000" font-weight="bold">¶</text>
<text x="144.4" y="372.35" font-size="10" text-anchor="middle" fill="#000" font-weight="bold">¶</text>
<text x="153.6" y="385.1" font-size="10" text-anchor="middle" fill="#000" font-weight="bold">**</text>
<text x="174.2" y="410.1" font-size="10" text-anchor="middle" fill="#000" font-weight="bold">*</text>
<text x="184" y="405.55" font-size="10" text-anchor="middle" fill="#000" font-weight="bold">¶</text>
<text x="189.4" y="438.03" font-size="8.5" text-anchor="middle" fill="#000" font-weight="bold">*</text>
<text x="223.3" y="379.99" font-size="9" text-anchor="middle" fill="#000" font-weight="bold">**</text>
<text x="248.1" y="395.45" font-size="10" text-anchor="middle" fill="#000" font-weight="bold">¶</text>
<text x="254.5" y="456.03" font-size="8.5" text-anchor="middle" fill="#000" font-weight="bold">*</text>
<text x="261.8" y="384.75" font-size="10" text-anchor="middle" fill="#000" font-weight="bold">¶</text>
<text x="325" y="374.55" font-size="10" text-anchor="middle" fill="#000" font-weight="bold">¶</text>
<text x="331" y="443.53" font-size="8.5" text-anchor="middle" fill="#000" font-weight="bold">*</text>
<text x="339.3" y="374.85" font-size="10" text-anchor="middle" fill="#000" font-weight="bold">¶</text>
<text x="400.7" y="371.75" font-size="10" text-anchor="middle" fill="#000" font-weight="bold">¶</text>
<text x="407.2" y="404.53" font-size="8.5" text-anchor="middle" fill="#000" font-weight="bold">*</text>
<text x="413" y="382.29" font-size="9" text-anchor="middle" fill="#000" font-weight="bold">**</text>
<text x="418.9" y="387.45" font-size="10" text-anchor="middle" fill="#000" font-weight="bold">¶</text>
<line x1="51.3" y1="513" x2="500.3" y2="513" stroke="#000" stroke-width="1.6"/>
<line x1="67.53" y1="513" x2="67.53" y2="516.5" stroke="#000" stroke-width="1.3"/>
<text x="67.53" y="530.98" font-size="11" text-anchor="middle" fill="#000" font-weight="bold">1</text>
<line x1="101.22" y1="513" x2="101.22" y2="516.5" stroke="#000" stroke-width="1.3"/>
<text x="101.22" y="530.98" font-size="11" text-anchor="middle" fill="#000" font-weight="bold">10</text>
<line x1="143.93" y1="513" x2="143.93" y2="516.5" stroke="#000" stroke-width="1.3"/>
<text x="143.93" y="530.98" font-size="11" text-anchor="middle" fill="#000" font-weight="bold">1</text>
<line x1="177.62" y1="513" x2="177.62" y2="516.5" stroke="#000" stroke-width="1.3"/>
<text x="177.62" y="530.98" font-size="11" text-anchor="middle" fill="#000" font-weight="bold">10</text>
<line x1="220.33" y1="513" x2="220.33" y2="516.5" stroke="#000" stroke-width="1.3"/>
<text x="220.33" y="530.98" font-size="11" text-anchor="middle" fill="#000" font-weight="bold">1</text>
<line x1="254.03" y1="513" x2="254.03" y2="516.5" stroke="#000" stroke-width="1.3"/>
<text x="254.03" y="530.98" font-size="11" text-anchor="middle" fill="#000" font-weight="bold">10</text>
<line x1="296.73" y1="513" x2="296.73" y2="516.5" stroke="#000" stroke-width="1.3"/>
<text x="296.73" y="530.98" font-size="11" text-anchor="middle" fill="#000" font-weight="bold">1</text>
<line x1="330.43" y1="513" x2="330.43" y2="516.5" stroke="#000" stroke-width="1.3"/>
<text x="330.43" y="530.98" font-size="11" text-anchor="middle" fill="#000" font-weight="bold">10</text>
<line x1="373.12" y1="513" x2="373.12" y2="516.5" stroke="#000" stroke-width="1.3"/>
<text x="373.12" y="530.98" font-size="11" text-anchor="middle" fill="#000" font-weight="bold">1</text>
<line x1="406.82" y1="513" x2="406.82" y2="516.5" stroke="#000" stroke-width="1.3"/>
<text x="406.82" y="530.98" font-size="11" text-anchor="middle" fill="#000" font-weight="bold">10</text>
<line x1="449.52" y1="513" x2="449.52" y2="516.5" stroke="#000" stroke-width="1.3"/>
<text x="449.52" y="530.98" font-size="11" text-anchor="middle" fill="#000" font-weight="bold">1</text>
<line x1="483.22" y1="513" x2="483.22" y2="516.5" stroke="#000" stroke-width="1.3"/>
<text x="483.22" y="530.98" font-size="11" text-anchor="middle" fill="#000" font-weight="bold">10</text>
<text x="34.5" y="531.16" font-size="11.5" text-anchor="middle" fill="#000" font-weight="bold"><tspan font-weight="normal">μ</tspan>M</text>
<text x="82.9" y="548.43" font-size="12" text-anchor="middle" fill="#000" font-weight="bold">GBM6</text>
<text x="160.5" y="548.43" font-size="12" text-anchor="middle" fill="#000" font-weight="bold">GBM59</text>
<text x="237" y="548.43" font-size="12" text-anchor="middle" fill="#000" font-weight="bold">GBM39</text>
<text x="314" y="548.43" font-size="12" text-anchor="middle" fill="#000" font-weight="bold">GBM8</text>
<text x="391" y="548.43" font-size="12" text-anchor="middle" fill="#000" font-weight="bold">GBM28</text>
<text x="466.3" y="548.43" font-size="12" text-anchor="middle" fill="#000" font-weight="bold">GBM22</text>
<line x1="63" y1="552.5" x2="334" y2="552.5" stroke="#000" stroke-width="1.3"/>
<line x1="365.5" y1="552.5" x2="493.3" y2="552.5" stroke="#000" stroke-width="1.3"/>
<text x="198.5" y="566.78" font-size="14.2" text-anchor="middle" fill="#000" font-weight="bold">EGFRvIII Positive</text>
<text x="429.2" y="566.78" font-size="14.2" text-anchor="middle" fill="#000" font-weight="bold">EGFR Negative</text>
<rect x="508" y="389.9" width="15.6" height="9" fill="#000"/>
<text x="527.1" y="398.53" font-size="12" text-anchor="start" fill="#000" font-weight="bold">Vehicle</text>
<rect x="508" y="410.4" width="15.6" height="9" fill="#263f97"/>
<text x="527.1" y="419.03" font-size="12" text-anchor="start" fill="#000" font-weight="bold">Gefitinib</text>
<rect x="508" y="430.6" width="15.6" height="9" fill="#ec3324"/>
<text x="527.1" y="439.23" font-size="12" text-anchor="start" fill="#000" font-weight="bold">Canertinib</text>
<rect x="508" y="451.1" width="15.6" height="9" fill="#929292"/>
<text x="527.1" y="459.73" font-size="12" text-anchor="start" fill="#000" font-weight="bold">Neratinib</text>
<rect x="508" y="471.5" width="15.6" height="9" fill="#0b9d4b"/>
<text x="527.1" y="480.13" font-size="12" text-anchor="start" fill="#000" font-weight="bold">Lapatinib</text>
<text x="0.3" y="611" font-size="25" text-anchor="start" fill="#000" font-weight="bold">C</text>
<line x1="54.7" y1="599.8" x2="54.7" y2="757.9" stroke="#000" stroke-width="1.5"/>
<line x1="50.2" y1="757.4" x2="54.7" y2="757.4" stroke="#000" stroke-width="1"/>
<text x="50.6" y="760.67" font-size="9.5" text-anchor="end" fill="#000" font-weight="bold">0</text>
<line x1="52.3" y1="750.83" x2="54.7" y2="750.83" stroke="#000" stroke-width="1"/>
<line x1="52.3" y1="744.27" x2="54.7" y2="744.27" stroke="#000" stroke-width="1"/>
<line x1="52.3" y1="737.7" x2="54.7" y2="737.7" stroke="#000" stroke-width="1"/>
<line x1="50.2" y1="731.14" x2="54.7" y2="731.14" stroke="#000" stroke-width="1"/>
<text x="50.6" y="734.41" font-size="9.5" text-anchor="end" fill="#000" font-weight="bold">20</text>
<line x1="52.3" y1="724.57" x2="54.7" y2="724.57" stroke="#000" stroke-width="1"/>
<line x1="52.3" y1="718.01" x2="54.7" y2="718.01" stroke="#000" stroke-width="1"/>
<line x1="52.3" y1="711.44" x2="54.7" y2="711.44" stroke="#000" stroke-width="1"/>
<line x1="50.2" y1="704.88" x2="54.7" y2="704.88" stroke="#000" stroke-width="1"/>
<text x="50.6" y="708.15" font-size="9.5" text-anchor="end" fill="#000" font-weight="bold">40</text>
<line x1="52.3" y1="698.31" x2="54.7" y2="698.31" stroke="#000" stroke-width="1"/>
<line x1="52.3" y1="691.75" x2="54.7" y2="691.75" stroke="#000" stroke-width="1"/>
<line x1="52.3" y1="685.18" x2="54.7" y2="685.18" stroke="#000" stroke-width="1"/>
<line x1="50.2" y1="678.62" x2="54.7" y2="678.62" stroke="#000" stroke-width="1"/>
<text x="50.6" y="681.89" font-size="9.5" text-anchor="end" fill="#000" font-weight="bold">60</text>
<line x1="52.3" y1="672.05" x2="54.7" y2="672.05" stroke="#000" stroke-width="1"/>
<line x1="52.3" y1="665.49" x2="54.7" y2="665.49" stroke="#000" stroke-width="1"/>
<line x1="52.3" y1="658.92" x2="54.7" y2="658.92" stroke="#000" stroke-width="1"/>
<line x1="50.2" y1="652.36" x2="54.7" y2="652.36" stroke="#000" stroke-width="1"/>
<text x="50.6" y="655.63" font-size="9.5" text-anchor="end" fill="#000" font-weight="bold">80</text>
<line x1="52.3" y1="645.79" x2="54.7" y2="645.79" stroke="#000" stroke-width="1"/>
<line x1="52.3" y1="639.23" x2="54.7" y2="639.23" stroke="#000" stroke-width="1"/>
<line x1="52.3" y1="632.66" x2="54.7" y2="632.66" stroke="#000" stroke-width="1"/>
<line x1="50.2" y1="626.1" x2="54.7" y2="626.1" stroke="#000" stroke-width="1"/>
<text x="50.6" y="629.37" font-size="9.5" text-anchor="end" fill="#000" font-weight="bold">100</text>
<line x1="52.3" y1="619.53" x2="54.7" y2="619.53" stroke="#000" stroke-width="1"/>
<line x1="52.3" y1="612.97" x2="54.7" y2="612.97" stroke="#000" stroke-width="1"/>
<line x1="52.3" y1="606.4" x2="54.7" y2="606.4" stroke="#000" stroke-width="1"/>
<line x1="50.2" y1="599.84" x2="54.7" y2="599.84" stroke="#000" stroke-width="1"/>
<text x="50.6" y="603.11" font-size="9.5" text-anchor="end" fill="#000" font-weight="bold">120</text>
<line x1="61.9" y1="760.7" x2="266.5" y2="760.7" stroke="#000" stroke-width="1.5"/>
<line x1="62.4" y1="760.7" x2="62.4" y2="764.7" stroke="#000" stroke-width="1"/>
<text x="61.8" y="772.17" font-size="9.5" text-anchor="middle" fill="#000" font-weight="bold">0</text>
<line x1="70.56" y1="760.7" x2="70.56" y2="762.7" stroke="#000" stroke-width="1"/>
<line x1="78.71" y1="760.7" x2="78.71" y2="762.7" stroke="#000" stroke-width="1"/>
<line x1="86.87" y1="760.7" x2="86.87" y2="762.7" stroke="#000" stroke-width="1"/>
<line x1="95.02" y1="760.7" x2="95.02" y2="762.7" stroke="#000" stroke-width="1"/>
<line x1="103.18" y1="760.7" x2="103.18" y2="764.7" stroke="#000" stroke-width="1"/>
<text x="102.58" y="772.17" font-size="9.5" text-anchor="middle" fill="#000" font-weight="bold">5</text>
<line x1="111.34" y1="760.7" x2="111.34" y2="762.7" stroke="#000" stroke-width="1"/>
<line x1="119.49" y1="760.7" x2="119.49" y2="762.7" stroke="#000" stroke-width="1"/>
<line x1="127.65" y1="760.7" x2="127.65" y2="762.7" stroke="#000" stroke-width="1"/>
<line x1="135.8" y1="760.7" x2="135.8" y2="762.7" stroke="#000" stroke-width="1"/>
<line x1="143.96" y1="760.7" x2="143.96" y2="764.7" stroke="#000" stroke-width="1"/>
<text x="143.36" y="772.17" font-size="9.5" text-anchor="middle" fill="#000" font-weight="bold">10</text>
<line x1="152.12" y1="760.7" x2="152.12" y2="762.7" stroke="#000" stroke-width="1"/>
<line x1="160.27" y1="760.7" x2="160.27" y2="762.7" stroke="#000" stroke-width="1"/>
<line x1="168.43" y1="760.7" x2="168.43" y2="762.7" stroke="#000" stroke-width="1"/>
<line x1="176.58" y1="760.7" x2="176.58" y2="762.7" stroke="#000" stroke-width="1"/>
<line x1="184.74" y1="760.7" x2="184.74" y2="764.7" stroke="#000" stroke-width="1"/>
<text x="184.14" y="772.17" font-size="9.5" text-anchor="middle" fill="#000" font-weight="bold">15</text>
<line x1="192.9" y1="760.7" x2="192.9" y2="762.7" stroke="#000" stroke-width="1"/>
<line x1="201.05" y1="760.7" x2="201.05" y2="762.7" stroke="#000" stroke-width="1"/>
<line x1="209.21" y1="760.7" x2="209.21" y2="762.7" stroke="#000" stroke-width="1"/>
<line x1="217.36" y1="760.7" x2="217.36" y2="762.7" stroke="#000" stroke-width="1"/>
<line x1="225.52" y1="760.7" x2="225.52" y2="764.7" stroke="#000" stroke-width="1"/>
<text x="224.92" y="772.17" font-size="9.5" text-anchor="middle" fill="#000" font-weight="bold">20</text>
<line x1="233.68" y1="760.7" x2="233.68" y2="762.7" stroke="#000" stroke-width="1"/>
<line x1="241.83" y1="760.7" x2="241.83" y2="762.7" stroke="#000" stroke-width="1"/>
<line x1="249.99" y1="760.7" x2="249.99" y2="762.7" stroke="#000" stroke-width="1"/>
<line x1="258.14" y1="760.7" x2="258.14" y2="762.7" stroke="#000" stroke-width="1"/>
<line x1="266.3" y1="760.7" x2="266.3" y2="764.7" stroke="#000" stroke-width="1"/>
<text x="265.7" y="772.17" font-size="9.5" text-anchor="middle" fill="#000" font-weight="bold">25</text>
<text x="161.9" y="788.15" font-size="10.6" text-anchor="middle" fill="#000" font-weight="bold">Time (hrs)</text>
<text x="0" y="0" transform="translate(25.78,675.9) rotate(-90)" font-size="11" text-anchor="middle" fill="#000" font-weight="bold">Percent Live Cells</text>
<polyline points="62.4,622.16 65.73,622.58 69.06,622.99 72.39,623.4 75.72,623.8 79.05,624.2 82.38,624.59 85.71,624.98 89.04,625.36 92.37,625.73 95.7,626.11 99.03,626.47 102.36,626.83 105.69,627.19 109.03,627.54 112.36,627.89 115.69,628.23 119.02,628.56 122.35,628.9 125.68,629.22 129.01,629.55 132.34,629.87 135.67,630.18 139,630.49 142.33,630.8 145.66,631.1 148.99,631.4 152.32,631.69 155.65,631.98 158.98,632.27 162.31,632.55 165.64,632.83 168.97,633.11 172.3,633.38 175.63,633.64 178.96,633.91 182.29,634.17 185.62,634.43 188.95,634.68 192.28,634.93 195.61,635.17 198.95,635.42 202.28,635.66 205.61,635.89 208.94,636.13 212.27,636.36 215.6,636.58 218.93,636.81 222.26,637.03 225.59,637.25 228.92,637.46 232.25,637.68 235.58,637.88 238.91,638.09 242.24,638.29 245.57,638.5 248.9,638.69 252.23,638.89 255.56,639.08 258.89,639.27 262.22,639.46" fill="none" stroke="#2c46a0" stroke-width="1.5" stroke-dasharray="5,3"/>
<polyline points="62.4,627.41 65.73,627.83 69.06,628.25 72.39,628.65 75.72,629.06 79.05,629.45 82.38,629.84 85.71,630.23 89.04,630.61 92.37,630.99 95.7,631.36 99.03,631.72 102.36,632.08 105.69,632.44 109.03,632.79 112.36,633.14 115.69,633.48 119.02,633.82 122.35,634.15 125.68,634.48 129.01,634.8 132.34,635.12 135.67,635.43 139,635.74 142.33,636.05 145.66,636.35 148.99,636.65 152.32,636.95 155.65,637.24 158.98,637.52 162.31,637.8 165.64,638.08 168.97,638.36 172.3,638.63 175.63,638.9 178.96,639.16 182.29,639.42 185.62,639.68 188.95,639.93 192.28,640.18 195.61,640.43 198.95,640.67 202.28,640.91 205.61,641.15 208.94,641.38 212.27,641.61 215.6,641.84 218.93,642.06 222.26,642.28 225.59,642.5 228.92,642.71 232.25,642.93 235.58,643.14 238.91,643.34 242.24,643.55 245.57,643.75 248.9,643.95 252.23,644.14 255.56,644.33 258.89,644.52 262.22,644.71" fill="none" stroke="#2c46a0" stroke-width="1.5" stroke-dasharray="5,3"/>
<polyline points="62.4,628.73 65.73,629.37 69.06,630.01 72.39,630.63 75.72,631.25 79.05,631.86 82.38,632.47 85.71,633.06 89.04,633.65 92.37,634.22 95.7,634.79 99.03,635.36 102.36,635.91 105.69,636.46 109.03,637 112.36,637.53 115.69,638.06 119.02,638.58 122.35,639.09 125.68,639.59 129.01,640.09 132.34,640.58 135.67,641.07 139,641.54 142.33,642.02 145.66,642.48 148.99,642.94 152.32,643.39 155.65,643.84 158.98,644.28 162.31,644.71 165.64,645.14 168.97,645.56 172.3,645.98 175.63,646.39 178.96,646.8 182.29,647.2 185.62,647.59 188.95,647.98 192.28,648.37 195.61,648.75 198.95,649.12 202.28,649.49 205.61,649.85 208.94,650.21 212.27,650.57 215.6,650.92 218.93,651.26 222.26,651.6 225.59,651.94 228.92,652.27 232.25,652.59 235.58,652.92 238.91,653.23 242.24,653.55 245.57,653.86 248.9,654.16 252.23,654.46 255.56,654.76 258.89,655.05 262.22,655.34" fill="none" stroke="#2c46a0" stroke-width="1.5" stroke-dasharray="5,3"/>
<polyline points="62.4,624.79 65.73,625.17 69.06,625.56 72.39,625.93 75.72,626.3 79.05,626.67 82.38,627.03 85.71,627.39 89.04,627.74 92.37,628.09 95.7,628.43 99.03,628.77 102.36,629.1 105.69,629.43 109.03,629.75 112.36,630.07 115.69,630.39 119.02,630.7 122.35,631 125.68,631.31 129.01,631.61 132.34,631.9 135.67,632.19 139,632.48 142.33,632.76 145.66,633.04 148.99,633.31 152.32,633.59 155.65,633.85 158.98,634.12 162.31,634.38 165.64,634.64 168.97,634.89 172.3,635.14 175.63,635.39 178.96,635.63 182.29,635.87 185.62,636.11 188.95,636.34 192.28,636.57 195.61,636.8 198.95,637.02 202.28,637.25 205.61,637.46 208.94,637.68 212.27,637.89 215.6,638.1 218.93,638.31 222.26,638.51 225.59,638.71 228.92,638.91 232.25,639.11 235.58,639.3 238.91,639.49 242.24,639.68 245.57,639.87 248.9,640.05 252.23,640.23 255.56,640.41 258.89,640.58 262.22,640.76" fill="none" stroke="#2c46a0" stroke-width="1.5"/>
<polyline points="62.4,624.79 65.73,625.33 69.06,625.88 72.39,626.41 75.72,626.93 79.05,627.45 82.38,627.97 85.71,628.47 89.04,628.97 92.37,629.46 95.7,629.95 99.03,630.42 102.36,630.9 105.69,631.36 109.03,631.82 112.36,632.27 115.69,632.72 119.02,633.16 122.35,633.59 125.68,634.02 129.01,634.45 132.34,634.86 135.67,635.28 139,635.68 142.33,636.08 145.66,636.48 148.99,636.87 152.32,637.25 155.65,637.63 158.98,638.01 162.31,638.38 165.64,638.74 168.97,639.1 172.3,639.45 175.63,639.8 178.96,640.15 182.29,640.49 185.62,640.82 188.95,641.16 192.28,641.48 195.61,641.8 198.95,642.12 202.28,642.44 205.61,642.75 208.94,643.05 212.27,643.35 215.6,643.65 218.93,643.94 222.26,644.23 225.59,644.52 228.92,644.8 232.25,645.07 235.58,645.35 238.91,645.62 242.24,645.88 245.57,646.15 248.9,646.41 252.23,646.66 255.56,646.91 258.89,647.16 262.22,647.41" fill="none" stroke="#2c46a0" stroke-width="1.5"/>
<polyline points="62.4,630.04 65.73,630.72 69.06,631.38 72.39,632.04 75.72,632.69 79.05,633.33 82.38,633.97 85.71,634.59 89.04,635.2 92.37,635.81 95.7,636.41 99.03,637 102.36,637.58 105.69,638.16 109.03,638.73 112.36,639.29 115.69,639.84 119.02,640.38 122.35,640.92 125.68,641.45 129.01,641.97 132.34,642.49 135.67,643 139,643.5 142.33,643.99 145.66,644.48 148.99,644.96 152.32,645.44 155.65,645.91 158.98,646.37 162.31,646.83 165.64,647.28 168.97,647.72 172.3,648.16 175.63,648.59 178.96,649.02 182.29,649.44 185.62,649.85 188.95,650.26 192.28,650.66 195.61,651.06 198.95,651.45 202.28,651.84 205.61,652.22 208.94,652.6 212.27,652.97 215.6,653.34 218.93,653.7 222.26,654.06 225.59,654.41 228.92,654.76 232.25,655.1 235.58,655.44 238.91,655.77 242.24,656.1 245.57,656.43 248.9,656.75 252.23,657.06 255.56,657.37 258.89,657.68 262.22,657.98" fill="none" stroke="#2c46a0" stroke-width="1.5"/>
<polyline points="62.4,618.22 65.73,618.61 69.06,618.99 72.39,619.37 75.72,619.74 79.05,620.1 82.38,620.47 85.71,620.82 89.04,621.17 92.37,621.52 95.7,621.86 99.03,622.2 102.36,622.53 105.69,622.86 109.03,623.19 112.36,623.51 115.69,623.82 119.02,624.13 122.35,624.44 125.68,624.74 129.01,625.04 132.34,625.34 135.67,625.63 139,625.91 142.33,626.2 145.66,626.47 148.99,626.75 152.32,627.02 155.65,627.29 158.98,627.55 162.31,627.81 165.64,628.07 168.97,628.32 172.3,628.58 175.63,628.82 178.96,629.07 182.29,629.31 185.62,629.54 188.95,629.78 192.28,630.01 195.61,630.23 198.95,630.46 202.28,630.68 205.61,630.9 208.94,631.11 212.27,631.33 215.6,631.54 218.93,631.74 222.26,631.95 225.59,632.15 228.92,632.35 232.25,632.54 235.58,632.74 238.91,632.93 242.24,633.11 245.57,633.3 248.9,633.48 252.23,633.66 255.56,633.84 258.89,634.02 262.22,634.19" fill="none" stroke="#ee3427" stroke-width="1.5" stroke-dasharray="5,3"/>
<polyline points="62.4,620.85 65.73,621.59 69.06,622.32 72.39,623.04 75.72,623.75 79.05,624.46 82.38,625.15 85.71,625.83 89.04,626.51 92.37,627.17 95.7,627.83 99.03,628.47 102.36,629.11 105.69,629.74 109.03,630.36 112.36,630.98 115.69,631.58 119.02,632.18 122.35,632.76 125.68,633.34 129.01,633.92 132.34,634.48 135.67,635.04 139,635.59 142.33,636.13 145.66,636.67 148.99,637.19 152.32,637.71 155.65,638.23 158.98,638.73 162.31,639.23 165.64,639.73 168.97,640.21 172.3,640.69 175.63,641.16 178.96,641.63 182.29,642.09 185.62,642.55 188.95,642.99 192.28,643.44 195.61,643.87 198.95,644.3 202.28,644.73 205.61,645.14 208.94,645.56 212.27,645.97 215.6,646.37 218.93,646.76 222.26,647.15 225.59,647.54 228.92,647.92 232.25,648.3 235.58,648.67 238.91,649.03 242.24,649.39 245.57,649.75 248.9,650.1 252.23,650.44 255.56,650.79 258.89,651.12 262.22,651.45" fill="none" stroke="#ee3427" stroke-width="1.5" stroke-dasharray="5,3"/>
<polyline points="62.4,624.79 65.73,625.27 69.06,625.75 72.39,626.22 75.72,626.68 79.05,627.14 82.38,627.59 85.71,628.04 89.04,628.48 92.37,628.91 95.7,629.34 99.03,629.76 102.36,630.18 105.69,630.59 109.03,630.99 112.36,631.39 115.69,631.79 119.02,632.18 122.35,632.56 125.68,632.94 129.01,633.31 132.34,633.68 135.67,634.04 139,634.4 142.33,634.75 145.66,635.1 148.99,635.45 152.32,635.79 155.65,636.12 158.98,636.45 162.31,636.78 165.64,637.1 168.97,637.42 172.3,637.73 175.63,638.04 178.96,638.34 182.29,638.64 185.62,638.94 188.95,639.23 192.28,639.52 195.61,639.8 198.95,640.08 202.28,640.36 205.61,640.63 208.94,640.9 212.27,641.17 215.6,641.43 218.93,641.69 222.26,641.94 225.59,642.19 228.92,642.44 232.25,642.69 235.58,642.93 238.91,643.17 242.24,643.4 245.57,643.63 248.9,643.86 252.23,644.09 255.56,644.31 258.89,644.53 262.22,644.75" fill="none" stroke="#ee3427" stroke-width="1.5" stroke-dasharray="5,3"/>
<polyline points="62.4,625.02 65.73,625.11 69.06,625.22 72.39,625.39 75.72,625.6 79.05,625.9 82.38,626.31 85.71,626.86 89.04,627.61 92.37,628.61 95.7,629.95 99.03,631.74 102.36,634.09 105.69,637.14 109.03,641.03 112.36,645.87 115.69,651.75 119.02,658.65 122.35,666.43 125.68,674.82 129.01,683.46 132.34,691.93 135.67,699.85 139,706.92 142.33,712.99 145.66,718.02 148.99,722.08 152.32,725.27 155.65,727.74 158.98,729.62 162.31,731.04 165.64,732.1 168.97,732.89 172.3,733.47 175.63,733.9 178.96,734.21 182.29,734.45 185.62,734.62 188.95,734.74 192.28,734.83 195.61,734.9 198.95,734.95 202.28,734.98 205.61,735.01 208.94,735.03 212.27,735.04 215.6,735.05 218.93,735.06 222.26,735.06 225.59,735.07 228.92,735.07 232.25,735.07 235.58,735.07 238.91,735.08 242.24,735.08 245.57,735.08 248.9,735.08 252.23,735.08 255.56,735.08 258.89,735.08 262.22,735.08" fill="none" stroke="#ee3427" stroke-width="1.5"/>
<polyline points="62.4,626.13 65.73,626.14 69.06,626.15 72.39,626.16 75.72,626.17 79.05,626.19 82.38,626.22 85.71,626.25 89.04,626.29 92.37,626.34 95.7,626.4 99.03,626.48 102.36,626.58 105.69,626.7 109.03,626.86 112.36,627.06 115.69,627.31 119.02,627.62 122.35,628.02 125.68,628.51 129.01,629.13 132.34,629.89 135.67,630.85 139,632.03 142.33,633.48 145.66,635.26 148.99,637.42 152.32,640.01 155.65,643.1 158.98,646.73 162.31,650.92 165.64,655.69 168.97,660.99 172.3,666.76 175.63,672.88 178.96,679.22 182.29,685.6 185.62,691.86 188.95,697.84 192.28,703.4 195.61,708.45 198.95,712.95 202.28,716.88 205.61,720.25 208.94,723.1 212.27,725.48 215.6,727.46 218.93,729.07 222.26,730.39 225.59,731.46 228.92,732.32 232.25,733.02 235.58,733.57 238.91,734.01 242.24,734.37 245.57,734.65 248.9,734.87 252.23,735.05 255.56,735.19 258.89,735.31 262.22,735.4" fill="none" stroke="#ee3427" stroke-width="1.5"/>
<polyline points="62.4,626.13 65.73,626.14 69.06,626.15 72.39,626.16 75.72,626.17 79.05,626.19 82.38,626.21 85.71,626.24 89.04,626.28 92.37,626.32 95.7,626.38 99.03,626.45 102.36,626.54 105.69,626.65 109.03,626.79 112.36,626.97 115.69,627.19 119.02,627.46 122.35,627.8 125.68,628.22 129.01,628.75 132.34,629.41 135.67,630.22 139,631.21 142.33,632.44 145.66,633.94 148.99,635.76 152.32,637.95 155.65,640.56 158.98,643.65 162.31,647.24 165.64,651.37 168.97,656.03 172.3,661.18 175.63,666.76 178.96,672.66 182.29,678.76 185.62,684.89 188.95,690.9 192.28,696.66 195.61,702.03 198.95,706.94 202.28,711.32 205.61,715.18 208.94,718.51 212.27,721.35 215.6,723.74 218.93,725.74 222.26,727.38 225.59,728.74 228.92,729.84 232.25,730.74 235.58,731.47 238.91,732.05 242.24,732.53 245.57,732.91 248.9,733.21 252.23,733.45 255.56,733.65 258.89,733.81 262.22,733.93" fill="none" stroke="#ee3427" stroke-width="1.5"/>
<line x1="62.4" y1="636.6" x2="62.4" y2="615.6" stroke="#f07a72" stroke-width="1"/>
<line x1="59.4" y1="636.6" x2="65.4" y2="636.6" stroke="#f07a72" stroke-width="1"/>
<line x1="59.4" y1="615.6" x2="65.4" y2="615.6" stroke="#f07a72" stroke-width="1"/>
<polygon points="62.4,621.8 58.3,629.3 66.5,629.3" fill="#ee3427" stroke="#111" stroke-width="1"/>
<rect x="58.9" y="622.6" width="7" height="7" fill="#ee3427" stroke="#111" stroke-width="1"/>
<circle cx="62.4" cy="626.1" r="3.7" fill="#ee3427" stroke="#111" stroke-width="1"/>
<polygon points="62.4,621.8 58.3,629.3 66.5,629.3" fill="#2c46a0" stroke="#111" stroke-width="1"/>
<line x1="62.4" y1="632.66" x2="62.4" y2="619.53" stroke="#5a70b8" stroke-width="1"/>
<line x1="59.4" y1="632.66" x2="65.4" y2="632.66" stroke="#5a70b8" stroke-width="1"/>
<line x1="59.4" y1="619.53" x2="65.4" y2="619.53" stroke="#5a70b8" stroke-width="1"/>
<rect x="58.9" y="622.6" width="7" height="7" fill="#2c46a0" stroke="#111" stroke-width="1"/>
<circle cx="62.4" cy="626.1" r="3.7" fill="#2c46a0" stroke="#111" stroke-width="1"/>
<rect x="75.21" y="626.54" width="7" height="7" fill="#2c46a0" stroke="#111" stroke-width="1"/>
<line x1="78.71" y1="640.54" x2="78.71" y2="620.85" stroke="#f07a72" stroke-width="1"/>
<line x1="75.71" y1="640.54" x2="81.71" y2="640.54" stroke="#f07a72" stroke-width="1"/>
<line x1="75.71" y1="620.85" x2="81.71" y2="620.85" stroke="#f07a72" stroke-width="1"/>
<circle cx="78.71" cy="629.65" r="3.7" fill="#ee3427" stroke="#111" stroke-width="1"/>
<line x1="78.71" y1="624.79" x2="78.71" y2="614.28" stroke="#5a70b8" stroke-width="1"/>
<line x1="75.71" y1="624.79" x2="81.71" y2="624.79" stroke="#5a70b8" stroke-width="1"/>
<line x1="75.71" y1="614.28" x2="81.71" y2="614.28" stroke="#5a70b8" stroke-width="1"/>
<circle cx="78.71" cy="618.22" r="3.7" fill="#2c46a0" stroke="#111" stroke-width="1"/>
<circle cx="78.71" cy="622.95" r="3.7" fill="#2c46a0" stroke="#111" stroke-width="1"/>
<line x1="95.02" y1="643.17" x2="95.02" y2="630.04" stroke="#5a70b8" stroke-width="1"/>
<line x1="92.02" y1="643.17" x2="98.02" y2="643.17" stroke="#5a70b8" stroke-width="1"/>
<line x1="92.02" y1="630.04" x2="98.02" y2="630.04" stroke="#5a70b8" stroke-width="1"/>
<rect x="91.52" y="632.45" width="7" height="7" fill="#2c46a0" stroke="#111" stroke-width="1"/>
<line x1="95.02" y1="641.86" x2="95.02" y2="626.1" stroke="#f07a72" stroke-width="1"/>
<line x1="92.02" y1="641.86" x2="98.02" y2="641.86" stroke="#f07a72" stroke-width="1"/>
<line x1="92.02" y1="626.1" x2="98.02" y2="626.1" stroke="#f07a72" stroke-width="1"/>
<rect x="91.52" y="630.48" width="7" height="7" fill="#ee3427" stroke="#111" stroke-width="1"/>
<polygon points="95.02,630.33 90.92,637.83 99.12,637.83" fill="#2c46a0" stroke="#111" stroke-width="1"/>
<circle cx="95.02" cy="629.38" r="3.7" fill="#2c46a0" stroke="#111" stroke-width="1"/>
<line x1="95.02" y1="631.35" x2="95.02" y2="620.85" stroke="#5a70b8" stroke-width="1"/>
<line x1="92.02" y1="631.35" x2="98.02" y2="631.35" stroke="#5a70b8" stroke-width="1"/>
<line x1="92.02" y1="620.85" x2="98.02" y2="620.85" stroke="#5a70b8" stroke-width="1"/>
<circle cx="95.02" cy="626.1" r="3.7" fill="#2c46a0" stroke="#111" stroke-width="1"/>
<line x1="95.02" y1="623.47" x2="95.02" y2="605.09" stroke="#f07a72" stroke-width="1"/>
<line x1="92.02" y1="623.47" x2="98.02" y2="623.47" stroke="#f07a72" stroke-width="1"/>
<line x1="92.02" y1="605.09" x2="98.02" y2="605.09" stroke="#f07a72" stroke-width="1"/>
<circle cx="95.02" cy="614.28" r="3.7" fill="#ee3427" stroke="#111" stroke-width="1"/>
<rect x="107.84" y="637.04" width="7" height="7" fill="#2c46a0" stroke="#111" stroke-width="1"/>
<rect x="107.84" y="638.88" width="7" height="7" fill="#ee3427" stroke="#111" stroke-width="1"/>
<polygon points="111.34,626.4 107.24,633.9 115.44,633.9" fill="#2c46a0" stroke="#111" stroke-width="1"/>
<line x1="111.34" y1="645.79" x2="111.34" y2="626.1" stroke="#5a70b8" stroke-width="1"/>
<line x1="108.34" y1="645.79" x2="114.34" y2="645.79" stroke="#5a70b8" stroke-width="1"/>
<line x1="108.34" y1="626.1" x2="114.34" y2="626.1" stroke="#5a70b8" stroke-width="1"/>
<circle cx="111.34" cy="635.82" r="3.7" fill="#2c46a0" stroke="#111" stroke-width="1"/>
<line x1="111.34" y1="620.85" x2="111.34" y2="606.4" stroke="#f07a72" stroke-width="1"/>
<line x1="108.34" y1="620.85" x2="114.34" y2="620.85" stroke="#f07a72" stroke-width="1"/>
<line x1="108.34" y1="606.4" x2="114.34" y2="606.4" stroke="#f07a72" stroke-width="1"/>
<circle cx="111.34" cy="614.28" r="3.7" fill="#ee3427" stroke="#111" stroke-width="1"/>
<line x1="111.34" y1="626.1" x2="111.34" y2="607.72" stroke="#5a70b8" stroke-width="1"/>
<line x1="108.34" y1="626.1" x2="114.34" y2="626.1" stroke="#5a70b8" stroke-width="1"/>
<line x1="108.34" y1="607.72" x2="114.34" y2="607.72" stroke="#5a70b8" stroke-width="1"/>
<circle cx="111.34" cy="616.91" r="3.7" fill="#2c46a0" stroke="#111" stroke-width="1"/>
<line x1="111.34" y1="660.24" x2="111.34" y2="648.42" stroke="#f07a72" stroke-width="1"/>
<line x1="108.34" y1="660.24" x2="114.34" y2="660.24" stroke="#f07a72" stroke-width="1"/>
<line x1="108.34" y1="648.42" x2="114.34" y2="648.42" stroke="#f07a72" stroke-width="1"/>
<polygon points="111.34,649.77 107.24,657.27 115.44,657.27" fill="#ee3427" stroke="#111" stroke-width="1"/>
<rect x="124.15" y="638.36" width="7" height="7" fill="#2c46a0" stroke="#111" stroke-width="1"/>
<rect x="124.15" y="639.93" width="7" height="7" fill="#ee3427" stroke="#111" stroke-width="1"/>
<polygon points="127.65,645.43 123.55,652.93 131.75,652.93" fill="#2c46a0" stroke="#111" stroke-width="1"/>
<circle cx="127.65" cy="637.52" r="3.7" fill="#2c46a0" stroke="#111" stroke-width="1"/>
<circle cx="127.65" cy="630.7" r="3.7" fill="#ee3427" stroke="#111" stroke-width="1"/>
<line x1="127.65" y1="628.73" x2="127.65" y2="618.22" stroke="#5a70b8" stroke-width="1"/>
<line x1="124.65" y1="628.73" x2="130.65" y2="628.73" stroke="#5a70b8" stroke-width="1"/>
<line x1="124.65" y1="618.22" x2="130.65" y2="618.22" stroke="#5a70b8" stroke-width="1"/>
<circle cx="127.65" cy="622.95" r="3.7" fill="#2c46a0" stroke="#111" stroke-width="1"/>
<line x1="127.65" y1="620.85" x2="127.65" y2="605.09" stroke="#f07a72" stroke-width="1"/>
<line x1="124.65" y1="620.85" x2="130.65" y2="620.85" stroke="#f07a72" stroke-width="1"/>
<line x1="124.65" y1="605.09" x2="130.65" y2="605.09" stroke="#f07a72" stroke-width="1"/>
<circle cx="127.65" cy="614.28" r="3.7" fill="#ee3427" stroke="#111" stroke-width="1"/>
<line x1="127.65" y1="687.81" x2="127.65" y2="665.49" stroke="#f07a72" stroke-width="1"/>
<line x1="124.65" y1="687.81" x2="130.65" y2="687.81" stroke="#f07a72" stroke-width="1"/>
<line x1="124.65" y1="665.49" x2="130.65" y2="665.49" stroke="#f07a72" stroke-width="1"/>
<polygon points="127.65,673.27 123.55,680.77 131.75,680.77" fill="#ee3427" stroke="#111" stroke-width="1"/>
<polygon points="160.27,635.46 156.17,642.96 164.37,642.96" fill="#ee3427" stroke="#111" stroke-width="1"/>
<line x1="160.27" y1="652.36" x2="160.27" y2="641.86" stroke="#5a70b8" stroke-width="1"/>
<line x1="157.27" y1="652.36" x2="163.27" y2="652.36" stroke="#5a70b8" stroke-width="1"/>
<line x1="157.27" y1="641.86" x2="163.27" y2="641.86" stroke="#5a70b8" stroke-width="1"/>
<polygon points="160.27,642.41 156.17,649.91 164.37,649.91" fill="#2c46a0" stroke="#111" stroke-width="1"/>
<circle cx="160.27" cy="633.19" r="3.7" fill="#2c46a0" stroke="#111" stroke-width="1"/>
<line x1="160.27" y1="633.98" x2="160.27" y2="624.79" stroke="#5a70b8" stroke-width="1"/>
<line x1="157.27" y1="633.98" x2="163.27" y2="633.98" stroke="#5a70b8" stroke-width="1"/>
<line x1="157.27" y1="624.79" x2="163.27" y2="624.79" stroke="#5a70b8" stroke-width="1"/>
<rect x="156.77" y="625.75" width="7" height="7" fill="#2c46a0" stroke="#111" stroke-width="1"/>
<line x1="160.27" y1="668.12" x2="160.27" y2="653.67" stroke="#f07a72" stroke-width="1"/>
<line x1="157.27" y1="668.12" x2="163.27" y2="668.12" stroke="#f07a72" stroke-width="1"/>
<line x1="157.27" y1="653.67" x2="163.27" y2="653.67" stroke="#f07a72" stroke-width="1"/>
<circle cx="160.27" cy="660.76" r="3.7" fill="#ee3427" stroke="#111" stroke-width="1"/>
<polygon points="160.27,723.16 156.17,730.66 164.37,730.66" fill="#ee3427" stroke="#111" stroke-width="1"/>
<line x1="192.9" y1="652.36" x2="192.9" y2="643.17" stroke="#f07a72" stroke-width="1"/>
<line x1="189.9" y1="652.36" x2="195.9" y2="652.36" stroke="#f07a72" stroke-width="1"/>
<line x1="189.9" y1="643.17" x2="195.9" y2="643.17" stroke="#f07a72" stroke-width="1"/>
<polygon points="192.9,643.07 188.8,650.57 197,650.57" fill="#ee3427" stroke="#111" stroke-width="1"/>
<polygon points="192.9,650.95 188.8,658.45 197,658.45" fill="#2c46a0" stroke="#111" stroke-width="1"/>
<line x1="192.9" y1="665.49" x2="192.9" y2="656.3" stroke="#5a70b8" stroke-width="1"/>
<line x1="189.9" y1="665.49" x2="195.9" y2="665.49" stroke="#5a70b8" stroke-width="1"/>
<line x1="189.9" y1="656.3" x2="195.9" y2="656.3" stroke="#5a70b8" stroke-width="1"/>
<polygon points="192.9,656.46 188.8,663.96 197,663.96" fill="#2c46a0" stroke="#111" stroke-width="1"/>
<rect x="189.4" y="631.79" width="7" height="7" fill="#2c46a0" stroke="#111" stroke-width="1"/>
<circle cx="192.9" cy="633.98" r="3.7" fill="#2c46a0" stroke="#111" stroke-width="1"/>
<line x1="192.9" y1="630.04" x2="192.9" y2="620.85" stroke="#f07a72" stroke-width="1"/>
<line x1="189.9" y1="630.04" x2="195.9" y2="630.04" stroke="#f07a72" stroke-width="1"/>
<line x1="189.9" y1="620.85" x2="195.9" y2="620.85" stroke="#f07a72" stroke-width="1"/>
<circle cx="192.9" cy="625.71" r="3.7" fill="#ee3427" stroke="#111" stroke-width="1"/>
<rect x="189.4" y="701.38" width="7" height="7" fill="#ee3427" stroke="#111" stroke-width="1"/>
<line x1="192.9" y1="702.25" x2="192.9" y2="693.06" stroke="#f07a72" stroke-width="1"/>
<line x1="189.9" y1="702.25" x2="195.9" y2="702.25" stroke="#f07a72" stroke-width="1"/>
<line x1="189.9" y1="693.06" x2="195.9" y2="693.06" stroke="#f07a72" stroke-width="1"/>
<circle cx="192.9" cy="698.31" r="3.7" fill="#ee3427" stroke="#111" stroke-width="1"/>
<polygon points="192.9,730.39 188.8,737.89 197,737.89" fill="#ee3427" stroke="#111" stroke-width="1"/>
<polygon points="258.14,646.48 254.04,653.98 262.24,653.98" fill="#2c46a0" stroke="#111" stroke-width="1"/>
<line x1="258.14" y1="657.61" x2="258.14" y2="649.73" stroke="#5a70b8" stroke-width="1"/>
<line x1="255.14" y1="657.61" x2="261.14" y2="657.61" stroke="#5a70b8" stroke-width="1"/>
<line x1="255.14" y1="649.73" x2="261.14" y2="649.73" stroke="#5a70b8" stroke-width="1"/>
<polygon points="258.14,649.37 254.04,656.87 262.24,656.87" fill="#2c46a0" stroke="#111" stroke-width="1"/>
<circle cx="258.14" cy="644.09" r="3.7" fill="#2c46a0" stroke="#111" stroke-width="1"/>
<line x1="258.14" y1="647.11" x2="258.14" y2="636.6" stroke="#5a70b8" stroke-width="1"/>
<line x1="255.14" y1="647.11" x2="261.14" y2="647.11" stroke="#5a70b8" stroke-width="1"/>
<line x1="255.14" y1="636.6" x2="261.14" y2="636.6" stroke="#5a70b8" stroke-width="1"/>
<rect x="254.64" y="638.36" width="7" height="7" fill="#2c46a0" stroke="#111" stroke-width="1"/>
<line x1="258.14" y1="641.86" x2="258.14" y2="632.66" stroke="#5a70b8" stroke-width="1"/>
<line x1="255.14" y1="641.86" x2="261.14" y2="641.86" stroke="#5a70b8" stroke-width="1"/>
<line x1="255.14" y1="632.66" x2="261.14" y2="632.66" stroke="#5a70b8" stroke-width="1"/>
<circle cx="258.14" cy="637.26" r="3.7" fill="#2c46a0" stroke="#111" stroke-width="1"/>
<rect x="254.64" y="730.27" width="7" height="7" fill="#ee3427" stroke="#111" stroke-width="1"/>
<circle cx="258.14" cy="736.39" r="3.7" fill="#ee3427" stroke="#111" stroke-width="1"/>
<circle cx="64.6" cy="728.1" r="4.4" fill="#fff" stroke="#111" stroke-width="1.1"/>
<rect x="60.4" y="736.2" width="8.6" height="8.6" fill="#fff" stroke="#111" stroke-width="1.1"/>
<polygon points="64.8,748.6 60.2,756.8 69.4,756.8" fill="#fff" stroke="#111" stroke-width="1.1"/>
<text x="74.1" y="730.31" font-size="7.6" text-anchor="start" fill="#222" font-weight="bold">GBM 6</text>
<text x="74.1" y="742.81" font-size="7.6" text-anchor="start" fill="#222" font-weight="bold">GBM 59</text>
<text x="74.1" y="755.61" font-size="7.6" text-anchor="start" fill="#222" font-weight="bold">GBM 39</text>
<line x1="106.4" y1="724.8" x2="106.4" y2="755.9" stroke="#222" stroke-width="1"/>
<text x="109.8" y="721.57" font-size="6.6" text-anchor="start" fill="#2c46a0" font-weight="bold">Gefitinib</text>
<text x="113.8" y="728.97" font-size="6.6" text-anchor="start" fill="#2c46a0" font-weight="bold">1 <tspan font-weight="normal">μ</tspan>M</text>
<text x="109.8" y="736.87" font-size="6.6" text-anchor="start" fill="#2c46a0" font-weight="bold">10 <tspan font-weight="normal">μ</tspan>M</text>
<text x="109.8" y="744.27" font-size="6.6" text-anchor="start" fill="#ee3427" font-weight="bold">Canertinib</text>
<text x="113.8" y="750.77" font-size="6.6" text-anchor="start" fill="#ee3427" font-weight="bold">1 <tspan font-weight="normal">μ</tspan>M</text>
<text x="109.8" y="758.27" font-size="6.6" text-anchor="start" fill="#ee3427" font-weight="bold">10 <tspan font-weight="normal">μ</tspan>M</text>
<line x1="132" y1="726.5" x2="153.5" y2="726.5" stroke="#2c46a0" stroke-width="1.1" stroke-dasharray="7.5,5"/>
<line x1="132" y1="734.5" x2="154" y2="734.5" stroke="#2c46a0" stroke-width="1.1"/>
<line x1="132" y1="748.5" x2="153.5" y2="748.5" stroke="#ee3427" stroke-width="1.1" stroke-dasharray="7.5,5"/>
<line x1="132" y1="756.5" x2="154" y2="756.5" stroke="#ee3427" stroke-width="1.1"/>
<text x="292.8" y="611.5" font-size="25" text-anchor="start" fill="#000" font-weight="bold">D</text>
<line x1="338.5" y1="623.3" x2="338.5" y2="753.5" stroke="#000" stroke-width="1.5"/>
<line x1="334.5" y1="753" x2="338.5" y2="753" stroke="#000" stroke-width="1"/>
<text x="334.6" y="755.68" font-size="7.8" text-anchor="end" fill="#000" font-weight="bold">0</text>
<line x1="336.3" y1="742.2" x2="338.5" y2="742.2" stroke="#000" stroke-width="1"/>
<line x1="336.3" y1="731.4" x2="338.5" y2="731.4" stroke="#000" stroke-width="1"/>
<line x1="336.3" y1="720.6" x2="338.5" y2="720.6" stroke="#000" stroke-width="1"/>
<line x1="334.5" y1="709.8" x2="338.5" y2="709.8" stroke="#000" stroke-width="1"/>
<text x="334.6" y="712.48" font-size="7.8" text-anchor="end" fill="#000" font-weight="bold">20</text>
<line x1="336.3" y1="699" x2="338.5" y2="699" stroke="#000" stroke-width="1"/>
<line x1="336.3" y1="688.2" x2="338.5" y2="688.2" stroke="#000" stroke-width="1"/>
<line x1="336.3" y1="677.4" x2="338.5" y2="677.4" stroke="#000" stroke-width="1"/>
<line x1="334.5" y1="666.6" x2="338.5" y2="666.6" stroke="#000" stroke-width="1"/>
<text x="334.6" y="669.28" font-size="7.8" text-anchor="end" fill="#000" font-weight="bold">40</text>
<line x1="336.3" y1="655.8" x2="338.5" y2="655.8" stroke="#000" stroke-width="1"/>
<line x1="336.3" y1="645" x2="338.5" y2="645" stroke="#000" stroke-width="1"/>
<line x1="336.3" y1="634.2" x2="338.5" y2="634.2" stroke="#000" stroke-width="1"/>
<line x1="334.5" y1="623.4" x2="338.5" y2="623.4" stroke="#000" stroke-width="1"/>
<text x="334.6" y="626.08" font-size="7.8" text-anchor="end" fill="#000" font-weight="bold">60</text>
<text x="0" y="0" transform="translate(306.61,686) rotate(-90)" font-size="10.2" text-anchor="middle" fill="#000" font-weight="bold">Increase (%) in annexin v</text>
<text x="0" y="0" transform="translate(318.61,686.5) rotate(-90)" font-size="10.2" text-anchor="middle" fill="#000" font-weight="bold">positive cells</text>
<line x1="346.2" y1="738.4" x2="346.2" y2="725.8" stroke="#444" stroke-width="1.1"/>
<line x1="343.6" y1="725.8" x2="348.8" y2="725.8" stroke="#444" stroke-width="1.3"/>
<rect x="341.4" y="738.4" width="9.6" height="14.6" fill="#3550a3"/>
<line x1="356.65" y1="740.9" x2="356.65" y2="739.5" stroke="#444" stroke-width="1.1"/>
<line x1="354.05" y1="739.5" x2="359.25" y2="739.5" stroke="#444" stroke-width="1.3"/>
<rect x="352" y="740.9" width="9.3" height="12.1" fill="#ea3a2a"/>
<line x1="367.05" y1="750.2" x2="367.05" y2="747" stroke="#444" stroke-width="1.1"/>
<line x1="364.45" y1="747" x2="369.65" y2="747" stroke="#444" stroke-width="1.3"/>
<rect x="362.3" y="750.2" width="9.5" height="2.8" fill="#9a9a9a"/>
<line x1="377.5" y1="747.1" x2="377.5" y2="740" stroke="#444" stroke-width="1.1"/>
<line x1="374.9" y1="740" x2="380.1" y2="740" stroke="#444" stroke-width="1.3"/>
<rect x="372.9" y="747.1" width="9.2" height="5.9" fill="#0e9b4e"/>
<line x1="388.05" y1="735.8" x2="388.05" y2="725" stroke="#444" stroke-width="1.1"/>
<line x1="385.45" y1="725" x2="390.65" y2="725" stroke="#444" stroke-width="1.3"/>
<rect x="383.3" y="735.8" width="9.5" height="17.2" fill="#3550a3"/>
<line x1="398.3" y1="666.9" x2="398.3" y2="627.9" stroke="#444" stroke-width="1.1"/>
<line x1="395.7" y1="627.9" x2="400.9" y2="627.9" stroke="#444" stroke-width="1.3"/>
<rect x="393.6" y="666.9" width="9.4" height="86.1" fill="#ea3a2a"/>
<line x1="408.9" y1="723.6" x2="408.9" y2="717.4" stroke="#444" stroke-width="1.1"/>
<line x1="406.3" y1="717.4" x2="411.5" y2="717.4" stroke="#444" stroke-width="1.3"/>
<rect x="404.1" y="723.6" width="9.6" height="29.4" fill="#9a9a9a"/>
<line x1="419.3" y1="736.8" x2="419.3" y2="734" stroke="#444" stroke-width="1.1"/>
<line x1="416.7" y1="734" x2="421.9" y2="734" stroke="#444" stroke-width="1.3"/>
<rect x="414.7" y="736.8" width="9.2" height="16.2" fill="#0e9b4e"/>
<line x1="434.55" y1="721.5" x2="434.55" y2="711.6" stroke="#444" stroke-width="1.1"/>
<line x1="431.95" y1="711.6" x2="437.15" y2="711.6" stroke="#444" stroke-width="1.3"/>
<rect x="429.8" y="721.5" width="9.5" height="31.5" fill="#3550a3"/>
<line x1="444.85" y1="713" x2="444.85" y2="700.5" stroke="#444" stroke-width="1.1"/>
<line x1="442.25" y1="700.5" x2="447.45" y2="700.5" stroke="#444" stroke-width="1.3"/>
<rect x="440.1" y="713" width="9.5" height="40" fill="#ea3a2a"/>
<line x1="455.45" y1="718.2" x2="455.45" y2="695.5" stroke="#444" stroke-width="1.1"/>
<line x1="452.85" y1="695.5" x2="458.05" y2="695.5" stroke="#444" stroke-width="1.3"/>
<rect x="450.7" y="718.2" width="9.5" height="34.8" fill="#9a9a9a"/>
<line x1="465.8" y1="726.7" x2="465.8" y2="706.5" stroke="#444" stroke-width="1.1"/>
<line x1="463.2" y1="706.5" x2="468.4" y2="706.5" stroke="#444" stroke-width="1.3"/>
<rect x="461.1" y="726.7" width="9.4" height="26.3" fill="#0e9b4e"/>
<line x1="476" y1="717.4" x2="476" y2="697.1" stroke="#444" stroke-width="1.1"/>
<line x1="473.4" y1="697.1" x2="478.6" y2="697.1" stroke="#444" stroke-width="1.3"/>
<rect x="471.1" y="717.4" width="9.8" height="35.6" fill="#3550a3"/>
<line x1="486.5" y1="648.9" x2="486.5" y2="631.3" stroke="#444" stroke-width="1.1"/>
<line x1="483.9" y1="631.3" x2="489.1" y2="631.3" stroke="#444" stroke-width="1.3"/>
<rect x="481.6" y="648.9" width="9.8" height="104.1" fill="#ea3a2a"/>
<line x1="497.25" y1="705.2" x2="497.25" y2="686.8" stroke="#444" stroke-width="1.1"/>
<line x1="494.65" y1="686.8" x2="499.85" y2="686.8" stroke="#444" stroke-width="1.3"/>
<rect x="492.6" y="705.2" width="9.3" height="47.8" fill="#9a9a9a"/>
<line x1="507.65" y1="720.4" x2="507.65" y2="707.2" stroke="#444" stroke-width="1.1"/>
<line x1="505.05" y1="707.2" x2="510.25" y2="707.2" stroke="#444" stroke-width="1.3"/>
<rect x="503.1" y="720.4" width="9.1" height="32.6" fill="#0e9b4e"/>
<line x1="522.55" y1="749.2" x2="522.55" y2="744.3" stroke="#444" stroke-width="1.1"/>
<line x1="519.95" y1="744.3" x2="525.15" y2="744.3" stroke="#444" stroke-width="1.3"/>
<rect x="517.8" y="749.2" width="9.5" height="3.8" fill="#3550a3"/>
<line x1="533" y1="748.7" x2="533" y2="747" stroke="#444" stroke-width="1.1"/>
<line x1="530.4" y1="747" x2="535.6" y2="747" stroke="#444" stroke-width="1.3"/>
<rect x="528.1" y="748.7" width="9.8" height="4.3" fill="#ea3a2a"/>
<line x1="543.35" y1="738.2" x2="543.35" y2="735.8" stroke="#444" stroke-width="1.1"/>
<line x1="540.75" y1="735.8" x2="545.95" y2="735.8" stroke="#444" stroke-width="1.3"/>
<rect x="538.6" y="738.2" width="9.5" height="14.8" fill="#9a9a9a"/>
<line x1="553.8" y1="747.3" x2="553.8" y2="740.7" stroke="#444" stroke-width="1.1"/>
<line x1="551.2" y1="740.7" x2="556.4" y2="740.7" stroke="#444" stroke-width="1.3"/>
<rect x="548.9" y="747.3" width="9.8" height="5.7" fill="#0e9b4e"/>
<line x1="564.15" y1="736.3" x2="564.15" y2="732.1" stroke="#444" stroke-width="1.1"/>
<line x1="561.55" y1="732.1" x2="566.75" y2="732.1" stroke="#444" stroke-width="1.3"/>
<rect x="559.4" y="736.3" width="9.5" height="16.7" fill="#3550a3"/>
<line x1="574.55" y1="683.2" x2="574.55" y2="667.3" stroke="#444" stroke-width="1.1"/>
<line x1="571.95" y1="667.3" x2="577.15" y2="667.3" stroke="#444" stroke-width="1.3"/>
<rect x="569.7" y="683.2" width="9.7" height="69.8" fill="#ea3a2a"/>
<line x1="584.95" y1="716.7" x2="584.95" y2="711.3" stroke="#444" stroke-width="1.1"/>
<line x1="582.35" y1="711.3" x2="587.55" y2="711.3" stroke="#444" stroke-width="1.3"/>
<rect x="580.2" y="716.7" width="9.5" height="36.3" fill="#9a9a9a"/>
<line x1="595.25" y1="727.2" x2="595.25" y2="722.3" stroke="#444" stroke-width="1.1"/>
<line x1="592.65" y1="722.3" x2="597.85" y2="722.3" stroke="#444" stroke-width="1.3"/>
<rect x="590.5" y="727.2" width="9.5" height="25.8" fill="#0e9b4e"/>
<circle cx="347" cy="725.8" r="1.9" fill="#8ad0f0" stroke="#1a1a1a" stroke-width="0.9"/>
<circle cx="344" cy="744.6" r="1.9" fill="#8ad0f0" stroke="#1a1a1a" stroke-width="0.9"/>
<circle cx="348.5" cy="744.6" r="1.9" fill="#8ad0f0" stroke="#1a1a1a" stroke-width="0.9"/>
<circle cx="355" cy="740.3" r="1.9" fill="#f29a93" stroke="#1a1a1a" stroke-width="0.9"/>
<circle cx="358" cy="742" r="1.9" fill="#ea3a2a" stroke="#1a1a1a" stroke-width="0.9"/>
<circle cx="361" cy="742" r="1.9" fill="#ea3a2a" stroke="#1a1a1a" stroke-width="0.9"/>
<circle cx="364.5" cy="752.4" r="1.9" fill="#2a2a2a" stroke="#1a1a1a" stroke-width="0.9"/>
<circle cx="367.5" cy="748.5" r="1.9" fill="#2a2a2a" stroke="#1a1a1a" stroke-width="0.9"/>
<circle cx="370" cy="747.5" r="1.9" fill="#2a2a2a" stroke="#1a1a1a" stroke-width="0.9"/>
<circle cx="377.4" cy="740.5" r="1.9" fill="#26a55a" stroke="#1a1a1a" stroke-width="0.9"/>
<circle cx="377.4" cy="747.8" r="1.9" fill="#26a55a" stroke="#1a1a1a" stroke-width="0.9"/>
<circle cx="377.4" cy="753" r="1.9" fill="#26a55a" stroke="#1a1a1a" stroke-width="0.9"/>
<circle cx="385.5" cy="728.6" r="1.9" fill="#8ad0f0" stroke="#1a1a1a" stroke-width="0.9"/>
<circle cx="390" cy="730.6" r="1.9" fill="#8ad0f0" stroke="#1a1a1a" stroke-width="0.9"/>
<circle cx="388" cy="748" r="1.9" fill="#8ad0f0" stroke="#1a1a1a" stroke-width="0.9"/>
<circle cx="398.4" cy="628.3" r="1.9" fill="#f29a93" stroke="#1a1a1a" stroke-width="0.9"/>
<circle cx="398.4" cy="669" r="1.9" fill="#ea3a2a" stroke="#1a1a1a" stroke-width="0.9"/>
<circle cx="398.4" cy="703.2" r="1.9" fill="#ea3a2a" stroke="#1a1a1a" stroke-width="0.9"/>
<circle cx="409" cy="718" r="1.9" fill="#2a2a2a" stroke="#1a1a1a" stroke-width="0.9"/>
<circle cx="409" cy="728" r="1.9" fill="#2a2a2a" stroke="#1a1a1a" stroke-width="0.9"/>
<circle cx="417.4" cy="738.8" r="1.9" fill="#26a55a" stroke="#1a1a1a" stroke-width="0.9"/>
<circle cx="421.5" cy="735.3" r="1.9" fill="#26a55a" stroke="#1a1a1a" stroke-width="0.9"/>
<circle cx="432" cy="712.3" r="1.9" fill="#8ad0f0" stroke="#1a1a1a" stroke-width="0.9"/>
<circle cx="436.5" cy="714.3" r="1.9" fill="#8ad0f0" stroke="#1a1a1a" stroke-width="0.9"/>
<circle cx="432" cy="732.2" r="1.9" fill="#8ad0f0" stroke="#1a1a1a" stroke-width="0.9"/>
<circle cx="436.5" cy="727.8" r="1.9" fill="#8ad0f0" stroke="#1a1a1a" stroke-width="0.9"/>
<circle cx="443.5" cy="704.5" r="1.9" fill="#f29a93" stroke="#1a1a1a" stroke-width="0.9"/>
<circle cx="447.5" cy="704.8" r="1.9" fill="#f29a93" stroke="#1a1a1a" stroke-width="0.9"/>
<circle cx="445.5" cy="707.5" r="1.9" fill="#f29a93" stroke="#1a1a1a" stroke-width="0.9"/>
<circle cx="442.5" cy="729.2" r="1.9" fill="#ea3a2a" stroke="#1a1a1a" stroke-width="0.9"/>
<circle cx="447" cy="728" r="1.9" fill="#ea3a2a" stroke="#1a1a1a" stroke-width="0.9"/>
<circle cx="455.3" cy="692.5" r="1.9" fill="#2a2a2a" stroke="#1a1a1a" stroke-width="0.9"/>
<circle cx="455.3" cy="727.8" r="1.9" fill="#2a2a2a" stroke="#1a1a1a" stroke-width="0.9"/>
<circle cx="455.3" cy="735" r="1.9" fill="#2a2a2a" stroke="#1a1a1a" stroke-width="0.9"/>
<circle cx="465.8" cy="706.7" r="1.9" fill="#26a55a" stroke="#1a1a1a" stroke-width="0.9"/>
<circle cx="465.8" cy="725.5" r="1.9" fill="#26a55a" stroke="#1a1a1a" stroke-width="0.9"/>
<circle cx="465.8" cy="747.2" r="1.9" fill="#26a55a" stroke="#1a1a1a" stroke-width="0.9"/>
<circle cx="476" cy="692.5" r="1.9" fill="#8ad0f0" stroke="#1a1a1a" stroke-width="0.9"/>
<circle cx="476" cy="709" r="1.9" fill="#8ad0f0" stroke="#1a1a1a" stroke-width="0.9"/>
<circle cx="474" cy="734" r="1.9" fill="#8ad0f0" stroke="#1a1a1a" stroke-width="0.9"/>
<circle cx="478" cy="733" r="1.9" fill="#8ad0f0" stroke="#1a1a1a" stroke-width="0.9"/>
<circle cx="484.5" cy="635" r="1.9" fill="#f29a93" stroke="#1a1a1a" stroke-width="0.9"/>
<circle cx="488.5" cy="637" r="1.9" fill="#f29a93" stroke="#1a1a1a" stroke-width="0.9"/>
<circle cx="486.5" cy="659.5" r="1.9" fill="#ea3a2a" stroke="#1a1a1a" stroke-width="0.9"/>
<circle cx="486.5" cy="675.3" r="1.9" fill="#ea3a2a" stroke="#1a1a1a" stroke-width="0.9"/>
<circle cx="497" cy="690.5" r="1.9" fill="#2a2a2a" stroke="#1a1a1a" stroke-width="0.9"/>
<circle cx="497" cy="698.4" r="1.9" fill="#2a2a2a" stroke="#1a1a1a" stroke-width="0.9"/>
<circle cx="497" cy="725" r="1.9" fill="#2a2a2a" stroke="#1a1a1a" stroke-width="0.9"/>
<circle cx="507.5" cy="708" r="1.9" fill="#26a55a" stroke="#1a1a1a" stroke-width="0.9"/>
<circle cx="507.5" cy="716.5" r="1.9" fill="#26a55a" stroke="#1a1a1a" stroke-width="0.9"/>
<circle cx="507.5" cy="735.5" r="1.9" fill="#26a55a" stroke="#1a1a1a" stroke-width="0.9"/>
<circle cx="522.5" cy="751.5" r="1.9" fill="#8ad0f0" stroke="#1a1a1a" stroke-width="0.9"/>
<circle cx="522.5" cy="744.5" r="1.9" fill="#8ad0f0" stroke="#1a1a1a" stroke-width="0.9"/>
<circle cx="530.5" cy="750.5" r="1.9" fill="#ea3a2a" stroke="#1a1a1a" stroke-width="0.9"/>
<circle cx="535" cy="746.5" r="1.9" fill="#f29a93" stroke="#1a1a1a" stroke-width="0.9"/>
<circle cx="541" cy="739.6" r="1.9" fill="#2a2a2a" stroke="#1a1a1a" stroke-width="0.9"/>
<circle cx="545" cy="736.6" r="1.9" fill="#2a2a2a" stroke="#1a1a1a" stroke-width="0.9"/>
<circle cx="553.8" cy="741.5" r="1.9" fill="#26a55a" stroke="#1a1a1a" stroke-width="0.9"/>
<circle cx="553.8" cy="752" r="1.9" fill="#26a55a" stroke="#1a1a1a" stroke-width="0.9"/>
<circle cx="564" cy="733" r="1.9" fill="#8ad0f0" stroke="#1a1a1a" stroke-width="0.9"/>
<circle cx="564" cy="738.5" r="1.9" fill="#8ad0f0" stroke="#1a1a1a" stroke-width="0.9"/>
<circle cx="574.5" cy="670" r="1.9" fill="#f29a93" stroke="#1a1a1a" stroke-width="0.9"/>
<circle cx="574.5" cy="693.5" r="1.9" fill="#ea3a2a" stroke="#1a1a1a" stroke-width="0.9"/>
<circle cx="585" cy="712.5" r="1.9" fill="#2a2a2a" stroke="#1a1a1a" stroke-width="0.9"/>
<circle cx="585" cy="717.5" r="1.9" fill="#2a2a2a" stroke="#1a1a1a" stroke-width="0.9"/>
<circle cx="595.3" cy="722.5" r="1.9" fill="#26a55a" stroke="#1a1a1a" stroke-width="0.9"/>
<circle cx="595.3" cy="730" r="1.9" fill="#26a55a" stroke="#1a1a1a" stroke-width="0.9"/>
<text x="398.4" y="624.08" font-size="7.5" text-anchor="middle" fill="#222" font-weight="bold">*</text>
<text x="409" y="718.08" font-size="7.5" text-anchor="middle" fill="#222" font-weight="bold">**</text>
<text x="486.5" y="631.18" font-size="7.5" text-anchor="middle" fill="#222" font-weight="bold">***</text>
<text x="574.5" y="666.18" font-size="7.5" text-anchor="middle" fill="#222" font-weight="bold">*</text>
<text x="585.6" y="710.18" font-size="7.5" text-anchor="middle" fill="#222" font-weight="bold">*</text>
<line x1="341.4" y1="756.3" x2="600.2" y2="756.3" stroke="#000" stroke-width="2"/>
<line x1="362" y1="756.3" x2="362" y2="759.8" stroke="#000" stroke-width="1.2"/>
<text x="362" y="770.58" font-size="11" text-anchor="middle" fill="#000" font-weight="bold">1</text>
<line x1="403.4" y1="756.3" x2="403.4" y2="759.8" stroke="#000" stroke-width="1.2"/>
<text x="403.4" y="770.58" font-size="11" text-anchor="middle" fill="#000" font-weight="bold">10</text>
<line x1="449.6" y1="756.3" x2="449.6" y2="759.8" stroke="#000" stroke-width="1.2"/>
<text x="449.6" y="770.58" font-size="11" text-anchor="middle" fill="#000" font-weight="bold">1</text>
<line x1="491.6" y1="756.3" x2="491.6" y2="759.8" stroke="#000" stroke-width="1.2"/>
<text x="491.6" y="770.58" font-size="11" text-anchor="middle" fill="#000" font-weight="bold">10</text>
<line x1="537.9" y1="756.3" x2="537.9" y2="759.8" stroke="#000" stroke-width="1.2"/>
<text x="537.9" y="770.58" font-size="11" text-anchor="middle" fill="#000" font-weight="bold">1</text>
<line x1="579.6" y1="756.3" x2="579.6" y2="759.8" stroke="#000" stroke-width="1.2"/>
<text x="579.6" y="770.58" font-size="11" text-anchor="middle" fill="#000" font-weight="bold">10</text>
<text x="609.8" y="771.64" font-size="13.5" text-anchor="middle" fill="#000" font-weight="bold"><tspan font-weight="normal">μ</tspan>M</text>
<line x1="343.5" y1="773.2" x2="419.8" y2="773.2" stroke="#444" stroke-width="1"/>
<line x1="429.5" y1="773.2" x2="509.7" y2="773.2" stroke="#444" stroke-width="1"/>
<line x1="521.2" y1="773.2" x2="598" y2="773.2" stroke="#444" stroke-width="1"/>
<text x="382.1" y="788.42" font-size="14.6" text-anchor="middle" fill="#000" font-weight="bold">GBM6</text>
<text x="471.3" y="788.42" font-size="14.6" text-anchor="middle" fill="#000" font-weight="bold">GBM39</text>
<text x="559.9" y="788.42" font-size="14.6" text-anchor="middle" fill="#000" font-weight="bold">GBM59</text>
<rect x="561.7" y="600.7" width="12.1" height="7" fill="#3550a3" stroke="#555" stroke-width="0.5"/>
<text x="576.5" y="607.23" font-size="8.8" text-anchor="start" fill="#111" font-weight="bold">Gefitinib</text>
<rect x="561.7" y="616.3" width="12.1" height="7" fill="#ea3a2a" stroke="#555" stroke-width="0.5"/>
<text x="576.5" y="622.83" font-size="8.8" text-anchor="start" fill="#111" font-weight="bold">Canertinib</text>
<rect x="561.7" y="631.9" width="12.1" height="7" fill="#9a9a9a" stroke="#555" stroke-width="0.5"/>
<text x="576.5" y="638.43" font-size="8.8" text-anchor="start" fill="#111" font-weight="bold">Neratinib</text>
<rect x="561.7" y="647.5" width="12.1" height="7" fill="#0e9b4e" stroke="#555" stroke-width="0.5"/>
<text x="576.5" y="654.03" font-size="8.8" text-anchor="start" fill="#111" font-weight="bold">Lapatinib</text>
<text x="617.2" y="17.77" font-size="25.5" text-anchor="start" fill="#000" font-weight="bold">E</text>
<text x="780.2" y="37.14" font-size="26" text-anchor="middle" fill="#000" font-weight="bold">GBM6</text>
<text x="1072.6" y="37.14" font-size="26" text-anchor="middle" fill="#000" font-weight="bold">GBM59</text>
<line x1="674.6" y1="62.4" x2="674.6" y2="200.9" stroke="#000" stroke-width="1.5"/>
<line x1="672.2" y1="188.9" x2="674.6" y2="188.9" stroke="#000" stroke-width="1"/>
<line x1="672.2" y1="177.4" x2="674.6" y2="177.4" stroke="#000" stroke-width="1"/>
<line x1="672.2" y1="165.9" x2="674.6" y2="165.9" stroke="#000" stroke-width="1"/>
<line x1="672.2" y1="142.9" x2="674.6" y2="142.9" stroke="#000" stroke-width="1"/>
<line x1="672.2" y1="131.4" x2="674.6" y2="131.4" stroke="#000" stroke-width="1"/>
<line x1="672.2" y1="119.9" x2="674.6" y2="119.9" stroke="#000" stroke-width="1"/>
<line x1="672.2" y1="96.9" x2="674.6" y2="96.9" stroke="#000" stroke-width="1"/>
<line x1="672.2" y1="85.4" x2="674.6" y2="85.4" stroke="#000" stroke-width="1"/>
<line x1="672.2" y1="73.9" x2="674.6" y2="73.9" stroke="#000" stroke-width="1"/>
<line x1="670" y1="200.4" x2="674.6" y2="200.4" stroke="#000" stroke-width="1.2"/>
<text x="669.1" y="204.46" font-size="11.8" text-anchor="end" fill="#000" font-weight="bold">0</text>
<line x1="670" y1="154.4" x2="674.6" y2="154.4" stroke="#000" stroke-width="1.2"/>
<text x="669.1" y="158.46" font-size="11.8" text-anchor="end" fill="#000" font-weight="bold">50</text>
<line x1="670" y1="108.4" x2="674.6" y2="108.4" stroke="#000" stroke-width="1.2"/>
<text x="669.1" y="112.46" font-size="11.8" text-anchor="end" fill="#000" font-weight="bold">100</text>
<line x1="670" y1="62.4" x2="674.6" y2="62.4" stroke="#000" stroke-width="1.2"/>
<text x="669.1" y="66.46" font-size="11.8" text-anchor="end" fill="#000" font-weight="bold">150</text>
<line x1="680.5" y1="205.8" x2="897.3" y2="205.8" stroke="#000" stroke-width="1.5"/>
<line x1="694" y1="205.8" x2="694" y2="210.3" stroke="#000" stroke-width="1.3"/>
<text x="694" y="222.23" font-size="12" text-anchor="middle" fill="#000" font-weight="bold">0</text>
<line x1="720.8" y1="205.8" x2="720.8" y2="210.3" stroke="#000" stroke-width="1.3"/>
<text x="720.8" y="222.23" font-size="12" text-anchor="middle" fill="#000" font-weight="bold">0.5</text>
<line x1="748" y1="205.8" x2="748" y2="210.3" stroke="#000" stroke-width="1.3"/>
<text x="748" y="222.23" font-size="12" text-anchor="middle" fill="#000" font-weight="bold">1</text>
<line x1="775.5" y1="205.8" x2="775.5" y2="210.3" stroke="#000" stroke-width="1.3"/>
<text x="775.5" y="222.23" font-size="12" text-anchor="middle" fill="#000" font-weight="bold">1.5</text>
<line x1="802.4" y1="205.8" x2="802.4" y2="210.3" stroke="#000" stroke-width="1.3"/>
<text x="802.4" y="222.23" font-size="12" text-anchor="middle" fill="#000" font-weight="bold">2</text>
<line x1="829.8" y1="205.8" x2="829.8" y2="210.3" stroke="#000" stroke-width="1.3"/>
<text x="829.8" y="222.23" font-size="12" text-anchor="middle" fill="#000" font-weight="bold">4</text>
<line x1="856.7" y1="205.8" x2="856.7" y2="210.3" stroke="#000" stroke-width="1.3"/>
<text x="856.7" y="222.23" font-size="12" text-anchor="middle" fill="#000" font-weight="bold">6</text>
<line x1="884.4" y1="205.8" x2="884.4" y2="210.3" stroke="#000" stroke-width="1.3"/>
<text x="884.4" y="222.23" font-size="12" text-anchor="middle" fill="#000" font-weight="bold">8</text>
<text x="789.4" y="242.77" font-size="12.7" text-anchor="middle" fill="#000" font-weight="bold">Time (hours)</text>
<text x="0" y="0" transform="translate(630.92,131) rotate(-90)" font-size="11.4" text-anchor="middle" fill="#000" font-weight="bold">pEGFR Y1068 nomalized</text>
<text x="0" y="0" transform="translate(644.72,131.5) rotate(-90)" font-size="11.4" text-anchor="middle" fill="#000" font-weight="bold">to vehicle (%)</text>
<polyline points="694,109 720.8,197 748,197 775.5,197 802.4,197 829.8,198 856.7,198 884.4,198" fill="none" stroke="#ee3a2c" stroke-width="1.7"/>
<circle cx="694" cy="109" r="4.3" fill="#ee3a2c"/>
<circle cx="720.8" cy="197" r="4.3" fill="#ee3a2c"/>
<circle cx="748" cy="197" r="4.3" fill="#ee3a2c"/>
<circle cx="775.5" cy="197" r="4.3" fill="#ee3a2c"/>
<circle cx="802.4" cy="197" r="4.3" fill="#ee3a2c"/>
<circle cx="829.8" cy="198" r="4.3" fill="#ee3a2c"/>
<circle cx="856.7" cy="198" r="4.3" fill="#ee3a2c"/>
<circle cx="884.4" cy="198" r="4.3" fill="#ee3a2c"/>
<line x1="802.4" y1="186.5" x2="802.4" y2="194" stroke="#5a6eb9" stroke-width="1.1"/>
<line x1="798.5" y1="186.5" x2="806.3" y2="186.5" stroke="#5a6eb9" stroke-width="1.1"/>
<line x1="798.5" y1="194" x2="806.3" y2="194" stroke="#5a6eb9" stroke-width="1.1"/>
<polyline points="694,109 720.8,191.4 748,192.6 775.5,191 802.4,190 829.8,191 856.7,189.4 884.4,188.6" fill="none" stroke="#2442a0" stroke-width="1.7"/>
<circle cx="694" cy="109" r="4.3" fill="#2442a0"/>
<circle cx="720.8" cy="191.4" r="4.3" fill="#2442a0"/>
<circle cx="748" cy="192.6" r="4.3" fill="#2442a0"/>
<circle cx="775.5" cy="191" r="4.3" fill="#2442a0"/>
<circle cx="802.4" cy="190" r="4.3" fill="#2442a0"/>
<circle cx="829.8" cy="191" r="4.3" fill="#2442a0"/>
<circle cx="856.7" cy="189.4" r="4.3" fill="#2442a0"/>
<circle cx="884.4" cy="188.6" r="4.3" fill="#2442a0"/>
<line x1="792.4" y1="79.8" x2="809.6" y2="79.8" stroke="#2442a0" stroke-width="1.7"/>
<circle cx="801" cy="79.8" r="4.3" fill="#2442a0"/>
<text x="818.5" y="84.17" font-size="12.7" text-anchor="start" fill="#000" font-weight="bold">Gefitinib</text>
<line x1="792.4" y1="101.9" x2="809.6" y2="101.9" stroke="#ee3a2c" stroke-width="1.7"/>
<circle cx="801" cy="101.9" r="4.3" fill="#ee3a2c"/>
<text x="818.5" y="106.27" font-size="12.7" text-anchor="start" fill="#000" font-weight="bold">Canertinib</text>
<text x="885" y="187.74" font-size="24" text-anchor="middle" fill="#000" font-weight="bold">*</text>
<line x1="675.5" y1="258.3" x2="675.5" y2="392.9" stroke="#000" stroke-width="1.5"/>
<line x1="673.1" y1="387.04" x2="675.5" y2="387.04" stroke="#000" stroke-width="1"/>
<line x1="673.1" y1="381.67" x2="675.5" y2="381.67" stroke="#000" stroke-width="1"/>
<line x1="673.1" y1="376.31" x2="675.5" y2="376.31" stroke="#000" stroke-width="1"/>
<line x1="673.1" y1="370.94" x2="675.5" y2="370.94" stroke="#000" stroke-width="1"/>
<line x1="673.1" y1="360.22" x2="675.5" y2="360.22" stroke="#000" stroke-width="1"/>
<line x1="673.1" y1="354.85" x2="675.5" y2="354.85" stroke="#000" stroke-width="1"/>
<line x1="673.1" y1="349.49" x2="675.5" y2="349.49" stroke="#000" stroke-width="1"/>
<line x1="673.1" y1="344.12" x2="675.5" y2="344.12" stroke="#000" stroke-width="1"/>
<line x1="673.1" y1="333.4" x2="675.5" y2="333.4" stroke="#000" stroke-width="1"/>
<line x1="673.1" y1="328.03" x2="675.5" y2="328.03" stroke="#000" stroke-width="1"/>
<line x1="673.1" y1="322.67" x2="675.5" y2="322.67" stroke="#000" stroke-width="1"/>
<line x1="673.1" y1="317.3" x2="675.5" y2="317.3" stroke="#000" stroke-width="1"/>
<line x1="673.1" y1="306.58" x2="675.5" y2="306.58" stroke="#000" stroke-width="1"/>
<line x1="673.1" y1="301.21" x2="675.5" y2="301.21" stroke="#000" stroke-width="1"/>
<line x1="673.1" y1="295.85" x2="675.5" y2="295.85" stroke="#000" stroke-width="1"/>
<line x1="673.1" y1="290.48" x2="675.5" y2="290.48" stroke="#000" stroke-width="1"/>
<line x1="673.1" y1="279.76" x2="675.5" y2="279.76" stroke="#000" stroke-width="1"/>
<line x1="673.1" y1="274.39" x2="675.5" y2="274.39" stroke="#000" stroke-width="1"/>
<line x1="673.1" y1="269.03" x2="675.5" y2="269.03" stroke="#000" stroke-width="1"/>
<line x1="673.1" y1="263.66" x2="675.5" y2="263.66" stroke="#000" stroke-width="1"/>
<line x1="670.9" y1="392.4" x2="675.5" y2="392.4" stroke="#000" stroke-width="1.2"/>
<text x="670" y="396.46" font-size="11.8" text-anchor="end" fill="#000" font-weight="bold">0</text>
<line x1="670.9" y1="365.58" x2="675.5" y2="365.58" stroke="#000" stroke-width="1.2"/>
<text x="670" y="369.64" font-size="11.8" text-anchor="end" fill="#000" font-weight="bold">50</text>
<line x1="670.9" y1="338.76" x2="675.5" y2="338.76" stroke="#000" stroke-width="1.2"/>
<text x="670" y="342.82" font-size="11.8" text-anchor="end" fill="#000" font-weight="bold">100</text>
<line x1="670.9" y1="311.94" x2="675.5" y2="311.94" stroke="#000" stroke-width="1.2"/>
<text x="670" y="316" font-size="11.8" text-anchor="end" fill="#000" font-weight="bold">150</text>
<line x1="670.9" y1="285.12" x2="675.5" y2="285.12" stroke="#000" stroke-width="1.2"/>
<text x="670" y="289.18" font-size="11.8" text-anchor="end" fill="#000" font-weight="bold">200</text>
<line x1="670.9" y1="258.3" x2="675.5" y2="258.3" stroke="#000" stroke-width="1.2"/>
<text x="670" y="262.36" font-size="11.8" text-anchor="end" fill="#000" font-weight="bold">250</text>
<line x1="681.7" y1="398.6" x2="892.5" y2="398.6" stroke="#000" stroke-width="1.5"/>
<line x1="693.8" y1="398.6" x2="693.8" y2="403.1" stroke="#000" stroke-width="1.3"/>
<text x="693.8" y="414.33" font-size="12" text-anchor="middle" fill="#000" font-weight="bold">0</text>
<line x1="720.5" y1="398.6" x2="720.5" y2="403.1" stroke="#000" stroke-width="1.3"/>
<text x="720.5" y="414.33" font-size="12" text-anchor="middle" fill="#000" font-weight="bold">0.5</text>
<line x1="747.2" y1="398.6" x2="747.2" y2="403.1" stroke="#000" stroke-width="1.3"/>
<text x="747.2" y="414.33" font-size="12" text-anchor="middle" fill="#000" font-weight="bold">1</text>
<line x1="773.9" y1="398.6" x2="773.9" y2="403.1" stroke="#000" stroke-width="1.3"/>
<text x="773.9" y="414.33" font-size="12" text-anchor="middle" fill="#000" font-weight="bold">1.5</text>
<line x1="800.6" y1="398.6" x2="800.6" y2="403.1" stroke="#000" stroke-width="1.3"/>
<text x="800.6" y="414.33" font-size="12" text-anchor="middle" fill="#000" font-weight="bold">2</text>
<line x1="827" y1="398.6" x2="827" y2="403.1" stroke="#000" stroke-width="1.3"/>
<text x="827" y="414.33" font-size="12" text-anchor="middle" fill="#000" font-weight="bold">4</text>
<line x1="853.7" y1="398.6" x2="853.7" y2="403.1" stroke="#000" stroke-width="1.3"/>
<text x="853.7" y="414.33" font-size="12" text-anchor="middle" fill="#000" font-weight="bold">6</text>
<line x1="879.9" y1="398.6" x2="879.9" y2="403.1" stroke="#000" stroke-width="1.3"/>
<text x="879.9" y="414.33" font-size="12" text-anchor="middle" fill="#000" font-weight="bold">8</text>
<text x="787.6" y="433.97" font-size="12.7" text-anchor="middle" fill="#000" font-weight="bold">Time (hours)</text>
<text x="0" y="0" transform="translate(629.32,325.2) rotate(-90)" font-size="11.4" text-anchor="middle" fill="#000" font-weight="bold">pERK1/2 T202/Y204</text>
<text x="0" y="0" transform="translate(642.42,325.8) rotate(-90)" font-size="11.4" text-anchor="middle" fill="#000" font-weight="bold">normalized to vehicle (%)</text>
<line x1="879.9" y1="366.6" x2="879.9" y2="378.4" stroke="#f37c71" stroke-width="1.1"/>
<line x1="876" y1="366.6" x2="883.8" y2="366.6" stroke="#f37c71" stroke-width="1.1"/>
<line x1="876" y1="378.4" x2="883.8" y2="378.4" stroke="#f37c71" stroke-width="1.1"/>
<polyline points="693.8,338.4 720.5,386.2 747.2,388.2 773.9,390.4 800.6,388.2 827,384 853.7,383.4 879.9,372.7" fill="none" stroke="#ee3a2c" stroke-width="1.7"/>
<circle cx="693.8" cy="338.4" r="4.3" fill="#ee3a2c"/>
<circle cx="720.5" cy="386.2" r="4.3" fill="#ee3a2c"/>
<circle cx="747.2" cy="388.2" r="4.3" fill="#ee3a2c"/>
<circle cx="773.9" cy="390.4" r="4.3" fill="#ee3a2c"/>
<circle cx="800.6" cy="388.2" r="4.3" fill="#ee3a2c"/>
<circle cx="827" cy="384" r="4.3" fill="#ee3a2c"/>
<circle cx="853.7" cy="383.4" r="4.3" fill="#ee3a2c"/>
<circle cx="879.9" cy="372.7" r="4.3" fill="#ee3a2c"/>
<line x1="747.2" y1="345.5" x2="747.2" y2="355.3" stroke="#5a6eb9" stroke-width="1.1"/>
<line x1="743.3" y1="345.5" x2="751.1" y2="345.5" stroke="#5a6eb9" stroke-width="1.1"/>
<line x1="743.3" y1="355.3" x2="751.1" y2="355.3" stroke="#5a6eb9" stroke-width="1.1"/>
<line x1="773.9" y1="330.6" x2="773.9" y2="343.2" stroke="#5a6eb9" stroke-width="1.1"/>
<line x1="770" y1="330.6" x2="777.8" y2="330.6" stroke="#5a6eb9" stroke-width="1.1"/>
<line x1="770" y1="343.2" x2="777.8" y2="343.2" stroke="#5a6eb9" stroke-width="1.1"/>
<line x1="800.6" y1="267.3" x2="800.6" y2="301" stroke="#5a6eb9" stroke-width="1.1"/>
<line x1="796.7" y1="267.3" x2="804.5" y2="267.3" stroke="#5a6eb9" stroke-width="1.1"/>
<line x1="796.7" y1="301" x2="804.5" y2="301" stroke="#5a6eb9" stroke-width="1.1"/>
<line x1="827" y1="268.7" x2="827" y2="308.1" stroke="#5a6eb9" stroke-width="1.1"/>
<line x1="823.1" y1="268.7" x2="830.9" y2="268.7" stroke="#5a6eb9" stroke-width="1.1"/>
<line x1="823.1" y1="308.1" x2="830.9" y2="308.1" stroke="#5a6eb9" stroke-width="1.1"/>
<line x1="853.7" y1="300.5" x2="853.7" y2="321.3" stroke="#5a6eb9" stroke-width="1.1"/>
<line x1="849.8" y1="300.5" x2="857.6" y2="300.5" stroke="#5a6eb9" stroke-width="1.1"/>
<line x1="849.8" y1="321.3" x2="857.6" y2="321.3" stroke="#5a6eb9" stroke-width="1.1"/>
<line x1="879.9" y1="298.2" x2="879.9" y2="309.5" stroke="#5a6eb9" stroke-width="1.1"/>
<line x1="876" y1="298.2" x2="883.8" y2="298.2" stroke="#5a6eb9" stroke-width="1.1"/>
<line x1="876" y1="309.5" x2="883.8" y2="309.5" stroke="#5a6eb9" stroke-width="1.1"/>
<polyline points="693.8,338.4 720.5,358.7 747.2,350.2 773.9,337 800.6,284.2 827,288.4 853.7,310.9 879.9,303.9" fill="none" stroke="#2442a0" stroke-width="1.7"/>
<circle cx="693.8" cy="338.4" r="4.3" fill="#2442a0"/>
<circle cx="720.5" cy="358.7" r="4.3" fill="#2442a0"/>
<circle cx="747.2" cy="350.2" r="4.3" fill="#2442a0"/>
<circle cx="773.9" cy="337" r="4.3" fill="#2442a0"/>
<circle cx="800.6" cy="284.2" r="4.3" fill="#2442a0"/>
<circle cx="827" cy="288.4" r="4.3" fill="#2442a0"/>
<circle cx="853.7" cy="310.9" r="4.3" fill="#2442a0"/>
<circle cx="879.9" cy="303.9" r="4.3" fill="#2442a0"/>
<text x="881.45" y="299.84" font-size="24" text-anchor="middle" fill="#000" font-weight="bold" letter-spacing="2.5">***</text>
<line x1="678.6" y1="449.8" x2="678.6" y2="491.5" stroke="#000" stroke-width="1.5"/>
<line x1="678.6" y1="504.9" x2="678.6" y2="582.1" stroke="#000" stroke-width="1.5"/>
<line x1="674" y1="491.5" x2="683.2" y2="491.5" stroke="#000" stroke-width="1.3"/>
<line x1="674" y1="504.9" x2="683.2" y2="504.9" stroke="#000" stroke-width="1.3"/>
<line x1="674" y1="486.1" x2="678.6" y2="486.1" stroke="#000" stroke-width="1.2"/>
<text x="673.1" y="490.16" font-size="11.8" text-anchor="end" fill="#000" font-weight="bold">40</text>
<line x1="674" y1="474" x2="678.6" y2="474" stroke="#000" stroke-width="1.2"/>
<text x="673.1" y="478.06" font-size="11.8" text-anchor="end" fill="#000" font-weight="bold">60</text>
<line x1="674" y1="461.9" x2="678.6" y2="461.9" stroke="#000" stroke-width="1.2"/>
<text x="673.1" y="465.96" font-size="11.8" text-anchor="end" fill="#000" font-weight="bold">80</text>
<line x1="674" y1="449.8" x2="678.6" y2="449.8" stroke="#000" stroke-width="1.2"/>
<text x="673.1" y="453.86" font-size="11.8" text-anchor="end" fill="#000" font-weight="bold">100</text>
<line x1="676.2" y1="480.05" x2="678.6" y2="480.05" stroke="#000" stroke-width="1"/>
<line x1="676.2" y1="467.95" x2="678.6" y2="467.95" stroke="#000" stroke-width="1"/>
<line x1="676.2" y1="455.85" x2="678.6" y2="455.85" stroke="#000" stroke-width="1"/>
<line x1="674" y1="581.6" x2="678.6" y2="581.6" stroke="#000" stroke-width="1.2"/>
<text x="673.1" y="585.66" font-size="11.8" text-anchor="end" fill="#000" font-weight="bold">0</text>
<line x1="674" y1="556.03" x2="678.6" y2="556.03" stroke="#000" stroke-width="1.2"/>
<text x="673.1" y="560.09" font-size="11.8" text-anchor="end" fill="#000" font-weight="bold">10</text>
<line x1="674" y1="530.46" x2="678.6" y2="530.46" stroke="#000" stroke-width="1.2"/>
<text x="673.1" y="534.52" font-size="11.8" text-anchor="end" fill="#000" font-weight="bold">20</text>
<line x1="674" y1="504.89" x2="678.6" y2="504.89" stroke="#000" stroke-width="1.2"/>
<text x="673.1" y="508.95" font-size="11.8" text-anchor="end" fill="#000" font-weight="bold">30</text>
<line x1="676.2" y1="576.49" x2="678.6" y2="576.49" stroke="#000" stroke-width="1"/>
<line x1="676.2" y1="571.37" x2="678.6" y2="571.37" stroke="#000" stroke-width="1"/>
<line x1="676.2" y1="566.26" x2="678.6" y2="566.26" stroke="#000" stroke-width="1"/>
<line x1="676.2" y1="561.14" x2="678.6" y2="561.14" stroke="#000" stroke-width="1"/>
<line x1="676.2" y1="550.92" x2="678.6" y2="550.92" stroke="#000" stroke-width="1"/>
<line x1="676.2" y1="545.8" x2="678.6" y2="545.8" stroke="#000" stroke-width="1"/>
<line x1="676.2" y1="540.69" x2="678.6" y2="540.69" stroke="#000" stroke-width="1"/>
<line x1="676.2" y1="535.57" x2="678.6" y2="535.57" stroke="#000" stroke-width="1"/>
<line x1="676.2" y1="525.35" x2="678.6" y2="525.35" stroke="#000" stroke-width="1"/>
<line x1="676.2" y1="520.23" x2="678.6" y2="520.23" stroke="#000" stroke-width="1"/>
<line x1="676.2" y1="515.12" x2="678.6" y2="515.12" stroke="#000" stroke-width="1"/>
<line x1="676.2" y1="510" x2="678.6" y2="510" stroke="#000" stroke-width="1"/>
<line x1="683.2" y1="586.2" x2="895.2" y2="586.2" stroke="#000" stroke-width="1.5"/>
<line x1="700.1" y1="586.2" x2="700.1" y2="590.7" stroke="#000" stroke-width="1.3"/>
<text x="700.1" y="602.63" font-size="12" text-anchor="middle" fill="#000" font-weight="bold">0</text>
<line x1="725.7" y1="586.2" x2="725.7" y2="590.7" stroke="#000" stroke-width="1.3"/>
<text x="725.7" y="602.63" font-size="12" text-anchor="middle" fill="#000" font-weight="bold">0.5</text>
<line x1="751.2" y1="586.2" x2="751.2" y2="590.7" stroke="#000" stroke-width="1.3"/>
<text x="751.2" y="602.63" font-size="12" text-anchor="middle" fill="#000" font-weight="bold">1</text>
<line x1="776.8" y1="586.2" x2="776.8" y2="590.7" stroke="#000" stroke-width="1.3"/>
<text x="776.8" y="602.63" font-size="12" text-anchor="middle" fill="#000" font-weight="bold">1.5</text>
<line x1="802.4" y1="586.2" x2="802.4" y2="590.7" stroke="#000" stroke-width="1.3"/>
<text x="802.4" y="602.63" font-size="12" text-anchor="middle" fill="#000" font-weight="bold">2</text>
<line x1="827.9" y1="586.2" x2="827.9" y2="590.7" stroke="#000" stroke-width="1.3"/>
<text x="827.9" y="602.63" font-size="12" text-anchor="middle" fill="#000" font-weight="bold">4</text>
<line x1="853.5" y1="586.2" x2="853.5" y2="590.7" stroke="#000" stroke-width="1.3"/>
<text x="853.5" y="602.63" font-size="12" text-anchor="middle" fill="#000" font-weight="bold">6</text>
<line x1="879" y1="586.2" x2="879" y2="590.7" stroke="#000" stroke-width="1.3"/>
<text x="879" y="602.63" font-size="12" text-anchor="middle" fill="#000" font-weight="bold">8</text>
<text x="789.8" y="621.67" font-size="12.7" text-anchor="middle" fill="#000" font-weight="bold">Time (hours)</text>
<text x="0" y="0" transform="translate(639.42,516.7) rotate(-90)" font-size="11.4" text-anchor="middle" fill="#000" font-weight="bold">pAKT S473 normalized</text>
<text x="0" y="0" transform="translate(652.12,514.7) rotate(-90)" font-size="11.4" text-anchor="middle" fill="#000" font-weight="bold">to vehicle (%)</text>
<line x1="725.7" y1="561.4" x2="725.7" y2="572.2" stroke="#5a6eb9" stroke-width="1.1"/>
<line x1="721.8" y1="561.4" x2="729.6" y2="561.4" stroke="#5a6eb9" stroke-width="1.1"/>
<line x1="721.8" y1="572.2" x2="729.6" y2="572.2" stroke="#5a6eb9" stroke-width="1.1"/>
<line x1="776.8" y1="563.6" x2="776.8" y2="570.3" stroke="#5a6eb9" stroke-width="1.1"/>
<line x1="772.9" y1="563.6" x2="780.7" y2="563.6" stroke="#5a6eb9" stroke-width="1.1"/>
<line x1="772.9" y1="570.3" x2="780.7" y2="570.3" stroke="#5a6eb9" stroke-width="1.1"/>
<line x1="802.4" y1="547.4" x2="802.4" y2="566.3" stroke="#5a6eb9" stroke-width="1.1"/>
<line x1="798.5" y1="547.4" x2="806.3" y2="547.4" stroke="#5a6eb9" stroke-width="1.1"/>
<line x1="798.5" y1="566.3" x2="806.3" y2="566.3" stroke="#5a6eb9" stroke-width="1.1"/>
<line x1="827.9" y1="544.5" x2="827.9" y2="562" stroke="#5a6eb9" stroke-width="1.1"/>
<line x1="824" y1="544.5" x2="831.8" y2="544.5" stroke="#5a6eb9" stroke-width="1.1"/>
<line x1="824" y1="562" x2="831.8" y2="562" stroke="#5a6eb9" stroke-width="1.1"/>
<line x1="853.5" y1="544.5" x2="853.5" y2="549.9" stroke="#5a6eb9" stroke-width="1.1"/>
<line x1="849.6" y1="544.5" x2="857.4" y2="544.5" stroke="#5a6eb9" stroke-width="1.1"/>
<line x1="849.6" y1="549.9" x2="857.4" y2="549.9" stroke="#5a6eb9" stroke-width="1.1"/>
<line x1="879" y1="541.8" x2="879" y2="550.7" stroke="#5a6eb9" stroke-width="1.1"/>
<line x1="875.1" y1="541.8" x2="882.9" y2="541.8" stroke="#5a6eb9" stroke-width="1.1"/>
<line x1="875.1" y1="550.7" x2="882.9" y2="550.7" stroke="#5a6eb9" stroke-width="1.1"/>
<polyline points="700.1,449.8 725.7,566.8 751.2,571.6 776.8,566.8 802.4,556.8 827.9,553.4 853.5,547.2 879,546.6" fill="none" stroke="#2442a0" stroke-width="1.7"/>
<circle cx="700.1" cy="449.8" r="4.3" fill="#2442a0"/>
<circle cx="725.7" cy="566.8" r="4.3" fill="#2442a0"/>
<circle cx="751.2" cy="571.6" r="4.3" fill="#2442a0"/>
<circle cx="776.8" cy="566.8" r="4.3" fill="#2442a0"/>
<circle cx="802.4" cy="556.8" r="4.3" fill="#2442a0"/>
<circle cx="827.9" cy="553.4" r="4.3" fill="#2442a0"/>
<circle cx="853.5" cy="547.2" r="4.3" fill="#2442a0"/>
<circle cx="879" cy="546.6" r="4.3" fill="#2442a0"/>
<line x1="802.4" y1="572" x2="802.4" y2="578" stroke="#f37c71" stroke-width="1.1"/>
<line x1="798.5" y1="572" x2="806.3" y2="572" stroke="#f37c71" stroke-width="1.1"/>
<line x1="798.5" y1="578" x2="806.3" y2="578" stroke="#f37c71" stroke-width="1.1"/>
<line x1="827.9" y1="570.5" x2="827.9" y2="576" stroke="#f37c71" stroke-width="1.1"/>
<line x1="824" y1="570.5" x2="831.8" y2="570.5" stroke="#f37c71" stroke-width="1.1"/>
<line x1="824" y1="576" x2="831.8" y2="576" stroke="#f37c71" stroke-width="1.1"/>
<polyline points="700.1,449.8 725.7,578.9 751.2,577 776.8,577 802.4,574.9 827.9,573 853.5,573.5 879,570" fill="none" stroke="#ee3a2c" stroke-width="1.7"/>
<circle cx="700.1" cy="449.8" r="4.3" fill="#ee3a2c"/>
<circle cx="725.7" cy="578.9" r="4.3" fill="#ee3a2c"/>
<circle cx="751.2" cy="577" r="4.3" fill="#ee3a2c"/>
<circle cx="776.8" cy="577" r="4.3" fill="#ee3a2c"/>
<circle cx="802.4" cy="574.9" r="4.3" fill="#ee3a2c"/>
<circle cx="827.9" cy="573" r="4.3" fill="#ee3a2c"/>
<circle cx="853.5" cy="573.5" r="4.3" fill="#ee3a2c"/>
<circle cx="879" cy="570" r="4.3" fill="#ee3a2c"/>
<text x="880.45" y="542.94" font-size="24" text-anchor="middle" fill="#000" font-weight="bold" letter-spacing="2.5">**</text>
<line x1="676.9" y1="632.4" x2="676.9" y2="773.9" stroke="#000" stroke-width="1.5"/>
<line x1="674.5" y1="764.59" x2="676.9" y2="764.59" stroke="#000" stroke-width="1"/>
<line x1="674.5" y1="755.77" x2="676.9" y2="755.77" stroke="#000" stroke-width="1"/>
<line x1="674.5" y1="746.96" x2="676.9" y2="746.96" stroke="#000" stroke-width="1"/>
<line x1="674.5" y1="729.34" x2="676.9" y2="729.34" stroke="#000" stroke-width="1"/>
<line x1="674.5" y1="720.52" x2="676.9" y2="720.52" stroke="#000" stroke-width="1"/>
<line x1="674.5" y1="711.71" x2="676.9" y2="711.71" stroke="#000" stroke-width="1"/>
<line x1="674.5" y1="694.09" x2="676.9" y2="694.09" stroke="#000" stroke-width="1"/>
<line x1="674.5" y1="685.27" x2="676.9" y2="685.27" stroke="#000" stroke-width="1"/>
<line x1="674.5" y1="676.46" x2="676.9" y2="676.46" stroke="#000" stroke-width="1"/>
<line x1="674.5" y1="658.84" x2="676.9" y2="658.84" stroke="#000" stroke-width="1"/>
<line x1="674.5" y1="650.02" x2="676.9" y2="650.02" stroke="#000" stroke-width="1"/>
<line x1="674.5" y1="641.21" x2="676.9" y2="641.21" stroke="#000" stroke-width="1"/>
<line x1="672.3" y1="773.4" x2="676.9" y2="773.4" stroke="#000" stroke-width="1.2"/>
<text x="671.4" y="777.46" font-size="11.8" text-anchor="end" fill="#000" font-weight="bold">0</text>
<line x1="672.3" y1="738.15" x2="676.9" y2="738.15" stroke="#000" stroke-width="1.2"/>
<text x="671.4" y="742.21" font-size="11.8" text-anchor="end" fill="#000" font-weight="bold">2</text>
<line x1="672.3" y1="702.9" x2="676.9" y2="702.9" stroke="#000" stroke-width="1.2"/>
<text x="671.4" y="706.96" font-size="11.8" text-anchor="end" fill="#000" font-weight="bold">4</text>
<line x1="672.3" y1="667.65" x2="676.9" y2="667.65" stroke="#000" stroke-width="1.2"/>
<text x="671.4" y="671.71" font-size="11.8" text-anchor="end" fill="#000" font-weight="bold">6</text>
<line x1="672.3" y1="632.4" x2="676.9" y2="632.4" stroke="#000" stroke-width="1.2"/>
<text x="671.4" y="636.46" font-size="11.8" text-anchor="end" fill="#000" font-weight="bold">8</text>
<line x1="683" y1="779" x2="905" y2="779" stroke="#000" stroke-width="1.5"/>
<line x1="699.8" y1="779" x2="699.8" y2="783.5" stroke="#000" stroke-width="1.3"/>
<text x="699.8" y="795.43" font-size="12" text-anchor="middle" fill="#000" font-weight="bold">0</text>
<line x1="726.5" y1="779" x2="726.5" y2="783.5" stroke="#000" stroke-width="1.3"/>
<text x="726.5" y="795.43" font-size="12" text-anchor="middle" fill="#000" font-weight="bold">0.5</text>
<line x1="753" y1="779" x2="753" y2="783.5" stroke="#000" stroke-width="1.3"/>
<text x="753" y="795.43" font-size="12" text-anchor="middle" fill="#000" font-weight="bold">1</text>
<line x1="780" y1="779" x2="780" y2="783.5" stroke="#000" stroke-width="1.3"/>
<text x="780" y="795.43" font-size="12" text-anchor="middle" fill="#000" font-weight="bold">1.5</text>
<line x1="807.1" y1="779" x2="807.1" y2="783.5" stroke="#000" stroke-width="1.3"/>
<text x="807.1" y="795.43" font-size="12" text-anchor="middle" fill="#000" font-weight="bold">2</text>
<line x1="833.6" y1="779" x2="833.6" y2="783.5" stroke="#000" stroke-width="1.3"/>
<text x="833.6" y="795.43" font-size="12" text-anchor="middle" fill="#000" font-weight="bold">4</text>
<line x1="860.3" y1="779" x2="860.3" y2="783.5" stroke="#000" stroke-width="1.3"/>
<text x="860.3" y="795.43" font-size="12" text-anchor="middle" fill="#000" font-weight="bold">6</text>
<line x1="886.8" y1="779" x2="886.8" y2="783.5" stroke="#000" stroke-width="1.3"/>
<text x="886.8" y="795.43" font-size="12" text-anchor="middle" fill="#000" font-weight="bold">8</text>
<text x="793.4" y="814.57" font-size="12.7" text-anchor="middle" fill="#000" font-weight="bold">Time (hours)</text>
<text x="0" y="0" transform="translate(650.62,705.6) rotate(-90)" font-size="11.4" text-anchor="middle" fill="#000" font-weight="bold">Cleaved PARP/PARP (A.U.)</text>
<line x1="753" y1="749.5" x2="753" y2="760" stroke="#5a6eb9" stroke-width="1.1"/>
<line x1="749.1" y1="749.5" x2="756.9" y2="749.5" stroke="#5a6eb9" stroke-width="1.1"/>
<line x1="749.1" y1="760" x2="756.9" y2="760" stroke="#5a6eb9" stroke-width="1.1"/>
<line x1="780" y1="744.2" x2="780" y2="756.4" stroke="#5a6eb9" stroke-width="1.1"/>
<line x1="776.1" y1="744.2" x2="783.9" y2="744.2" stroke="#5a6eb9" stroke-width="1.1"/>
<line x1="776.1" y1="756.4" x2="783.9" y2="756.4" stroke="#5a6eb9" stroke-width="1.1"/>
<line x1="807.1" y1="723" x2="807.1" y2="738.6" stroke="#5a6eb9" stroke-width="1.1"/>
<line x1="803.2" y1="723" x2="811" y2="723" stroke="#5a6eb9" stroke-width="1.1"/>
<line x1="803.2" y1="738.6" x2="811" y2="738.6" stroke="#5a6eb9" stroke-width="1.1"/>
<line x1="833.6" y1="743.3" x2="833.6" y2="758.7" stroke="#5a6eb9" stroke-width="1.1"/>
<line x1="829.7" y1="743.3" x2="837.5" y2="743.3" stroke="#5a6eb9" stroke-width="1.1"/>
<line x1="829.7" y1="758.7" x2="837.5" y2="758.7" stroke="#5a6eb9" stroke-width="1.1"/>
<line x1="860.3" y1="747" x2="860.3" y2="760" stroke="#5a6eb9" stroke-width="1.1"/>
<line x1="856.4" y1="747" x2="864.2" y2="747" stroke="#5a6eb9" stroke-width="1.1"/>
<line x1="856.4" y1="760" x2="864.2" y2="760" stroke="#5a6eb9" stroke-width="1.1"/>
<line x1="886.8" y1="745.6" x2="886.8" y2="750.9" stroke="#5a6eb9" stroke-width="1.1"/>
<line x1="882.9" y1="745.6" x2="890.7" y2="745.6" stroke="#5a6eb9" stroke-width="1.1"/>
<line x1="882.9" y1="750.9" x2="890.7" y2="750.9" stroke="#5a6eb9" stroke-width="1.1"/>
<polyline points="699.8,755.9 726.5,756.4 753,755 780,750.3 807.1,730.8 833.6,751.1 860.3,753.9 886.8,748.4" fill="none" stroke="#2442a0" stroke-width="1.7"/>
<circle cx="699.8" cy="755.9" r="4.3" fill="#2442a0"/>
<circle cx="726.5" cy="756.4" r="4.3" fill="#2442a0"/>
<circle cx="753" cy="755" r="4.3" fill="#2442a0"/>
<circle cx="780" cy="750.3" r="4.3" fill="#2442a0"/>
<circle cx="807.1" cy="730.8" r="4.3" fill="#2442a0"/>
<circle cx="833.6" cy="751.1" r="4.3" fill="#2442a0"/>
<circle cx="860.3" cy="753.9" r="4.3" fill="#2442a0"/>
<circle cx="886.8" cy="748.4" r="4.3" fill="#2442a0"/>
<line x1="726.5" y1="749.7" x2="726.5" y2="755.9" stroke="#f37c71" stroke-width="1.1"/>
<line x1="722.6" y1="749.7" x2="730.4" y2="749.7" stroke="#f37c71" stroke-width="1.1"/>
<line x1="722.6" y1="755.9" x2="730.4" y2="755.9" stroke="#f37c71" stroke-width="1.1"/>
<line x1="780" y1="732.7" x2="780" y2="747" stroke="#f37c71" stroke-width="1.1"/>
<line x1="776.1" y1="732.7" x2="783.9" y2="732.7" stroke="#f37c71" stroke-width="1.1"/>
<line x1="776.1" y1="747" x2="783.9" y2="747" stroke="#f37c71" stroke-width="1.1"/>
<line x1="807.1" y1="701.5" x2="807.1" y2="725.2" stroke="#f37c71" stroke-width="1.1"/>
<line x1="803.2" y1="701.5" x2="811" y2="701.5" stroke="#f37c71" stroke-width="1.1"/>
<line x1="803.2" y1="725.2" x2="811" y2="725.2" stroke="#f37c71" stroke-width="1.1"/>
<line x1="833.6" y1="657.7" x2="833.6" y2="700.1" stroke="#f37c71" stroke-width="1.1"/>
<line x1="829.7" y1="657.7" x2="837.5" y2="657.7" stroke="#f37c71" stroke-width="1.1"/>
<line x1="829.7" y1="700.1" x2="837.5" y2="700.1" stroke="#f37c71" stroke-width="1.1"/>
<line x1="860.3" y1="660.5" x2="860.3" y2="696.5" stroke="#f37c71" stroke-width="1.1"/>
<line x1="856.4" y1="660.5" x2="864.2" y2="660.5" stroke="#f37c71" stroke-width="1.1"/>
<line x1="856.4" y1="696.5" x2="864.2" y2="696.5" stroke="#f37c71" stroke-width="1.1"/>
<line x1="886.8" y1="680" x2="886.8" y2="704.3" stroke="#f37c71" stroke-width="1.1"/>
<line x1="882.9" y1="680" x2="890.7" y2="680" stroke="#f37c71" stroke-width="1.1"/>
<line x1="882.9" y1="704.3" x2="890.7" y2="704.3" stroke="#f37c71" stroke-width="1.1"/>
<polyline points="699.8,755.9 726.5,752.5 753,746.1 780,740 807.1,713.2 833.6,679.2 860.3,678.7 886.8,692.3" fill="none" stroke="#ee3a2c" stroke-width="1.7"/>
<circle cx="699.8" cy="755.9" r="4.3" fill="#ee3a2c"/>
<circle cx="726.5" cy="752.5" r="4.3" fill="#ee3a2c"/>
<circle cx="753" cy="746.1" r="4.3" fill="#ee3a2c"/>
<circle cx="780" cy="740" r="4.3" fill="#ee3a2c"/>
<circle cx="807.1" cy="713.2" r="4.3" fill="#ee3a2c"/>
<circle cx="833.6" cy="679.2" r="4.3" fill="#ee3a2c"/>
<circle cx="860.3" cy="678.7" r="4.3" fill="#ee3a2c"/>
<circle cx="886.8" cy="692.3" r="4.3" fill="#ee3a2c"/>
<text x="886" y="682.24" font-size="24" text-anchor="middle" fill="#000" font-weight="bold">*</text>
<line x1="967.8" y1="61.9" x2="967.8" y2="202.3" stroke="#000" stroke-width="1.5"/>
<line x1="965.4" y1="190.14" x2="967.8" y2="190.14" stroke="#000" stroke-width="1"/>
<line x1="965.4" y1="178.48" x2="967.8" y2="178.48" stroke="#000" stroke-width="1"/>
<line x1="965.4" y1="166.83" x2="967.8" y2="166.83" stroke="#000" stroke-width="1"/>
<line x1="965.4" y1="143.51" x2="967.8" y2="143.51" stroke="#000" stroke-width="1"/>
<line x1="965.4" y1="131.85" x2="967.8" y2="131.85" stroke="#000" stroke-width="1"/>
<line x1="965.4" y1="120.19" x2="967.8" y2="120.19" stroke="#000" stroke-width="1"/>
<line x1="965.4" y1="96.88" x2="967.8" y2="96.88" stroke="#000" stroke-width="1"/>
<line x1="965.4" y1="85.22" x2="967.8" y2="85.22" stroke="#000" stroke-width="1"/>
<line x1="965.4" y1="73.56" x2="967.8" y2="73.56" stroke="#000" stroke-width="1"/>
<line x1="963.2" y1="201.8" x2="967.8" y2="201.8" stroke="#000" stroke-width="1.2"/>
<text x="962.3" y="205.86" font-size="11.8" text-anchor="end" fill="#000" font-weight="bold">0</text>
<line x1="963.2" y1="155.17" x2="967.8" y2="155.17" stroke="#000" stroke-width="1.2"/>
<text x="962.3" y="159.23" font-size="11.8" text-anchor="end" fill="#000" font-weight="bold">50</text>
<line x1="963.2" y1="108.53" x2="967.8" y2="108.53" stroke="#000" stroke-width="1.2"/>
<text x="962.3" y="112.59" font-size="11.8" text-anchor="end" fill="#000" font-weight="bold">100</text>
<line x1="963.2" y1="61.9" x2="967.8" y2="61.9" stroke="#000" stroke-width="1.2"/>
<text x="962.3" y="65.96" font-size="11.8" text-anchor="end" fill="#000" font-weight="bold">150</text>
<line x1="972.6" y1="205" x2="1192.7" y2="205" stroke="#000" stroke-width="1.5"/>
<line x1="985.6" y1="205" x2="985.6" y2="209.5" stroke="#000" stroke-width="1.3"/>
<text x="985.6" y="221.63" font-size="12" text-anchor="middle" fill="#000" font-weight="bold">0</text>
<line x1="1013" y1="205" x2="1013" y2="209.5" stroke="#000" stroke-width="1.3"/>
<text x="1013" y="221.63" font-size="12" text-anchor="middle" fill="#000" font-weight="bold">0.5</text>
<line x1="1040.4" y1="205" x2="1040.4" y2="209.5" stroke="#000" stroke-width="1.3"/>
<text x="1040.4" y="221.63" font-size="12" text-anchor="middle" fill="#000" font-weight="bold">1</text>
<line x1="1068.1" y1="205" x2="1068.1" y2="209.5" stroke="#000" stroke-width="1.3"/>
<text x="1068.1" y="221.63" font-size="12" text-anchor="middle" fill="#000" font-weight="bold">1.5</text>
<line x1="1095.9" y1="205" x2="1095.9" y2="209.5" stroke="#000" stroke-width="1.3"/>
<text x="1095.9" y="221.63" font-size="12" text-anchor="middle" fill="#000" font-weight="bold">2</text>
<line x1="1123.3" y1="205" x2="1123.3" y2="209.5" stroke="#000" stroke-width="1.3"/>
<text x="1123.3" y="221.63" font-size="12" text-anchor="middle" fill="#000" font-weight="bold">4</text>
<line x1="1151" y1="205" x2="1151" y2="209.5" stroke="#000" stroke-width="1.3"/>
<text x="1151" y="221.63" font-size="12" text-anchor="middle" fill="#000" font-weight="bold">6</text>
<line x1="1178.5" y1="205" x2="1178.5" y2="209.5" stroke="#000" stroke-width="1.3"/>
<text x="1178.5" y="221.63" font-size="12" text-anchor="middle" fill="#000" font-weight="bold">8</text>
<text x="1082.9" y="241.27" font-size="12.7" text-anchor="middle" fill="#000" font-weight="bold">Time (hours)</text>
<text x="0" y="0" transform="translate(916.02,131) rotate(-90)" font-size="11.4" text-anchor="middle" fill="#000" font-weight="bold">pEGFR Y1068 nomalized</text>
<text x="0" y="0" transform="translate(929.72,131.5) rotate(-90)" font-size="11.4" text-anchor="middle" fill="#000" font-weight="bold">to vehicle (%)</text>
<polyline points="985.6,108.4 1013,197.2 1040.4,197.7 1068.1,197.7 1095.9,198.5 1123.3,197.2 1151,197.2 1178.5,197.2" fill="none" stroke="#ee3a2c" stroke-width="1.7"/>
<circle cx="985.6" cy="108.4" r="4.3" fill="#ee3a2c"/>
<circle cx="1013" cy="197.2" r="4.3" fill="#ee3a2c"/>
<circle cx="1040.4" cy="197.7" r="4.3" fill="#ee3a2c"/>
<circle cx="1068.1" cy="197.7" r="4.3" fill="#ee3a2c"/>
<circle cx="1095.9" cy="198.5" r="4.3" fill="#ee3a2c"/>
<circle cx="1123.3" cy="197.2" r="4.3" fill="#ee3a2c"/>
<circle cx="1151" cy="197.2" r="4.3" fill="#ee3a2c"/>
<circle cx="1178.5" cy="197.2" r="4.3" fill="#ee3a2c"/>
<polyline points="985.6,108.4 1013,192.4 1040.4,192.4 1068.1,193.7 1095.9,195 1123.3,193.7 1151,193.2 1178.5,193.7" fill="none" stroke="#2442a0" stroke-width="1.7"/>
<circle cx="985.6" cy="108.4" r="4.3" fill="#2442a0"/>
<circle cx="1013" cy="192.4" r="4.3" fill="#2442a0"/>
<circle cx="1040.4" cy="192.4" r="4.3" fill="#2442a0"/>
<circle cx="1068.1" cy="193.7" r="4.3" fill="#2442a0"/>
<circle cx="1095.9" cy="195" r="4.3" fill="#2442a0"/>
<circle cx="1123.3" cy="193.7" r="4.3" fill="#2442a0"/>
<circle cx="1151" cy="193.2" r="4.3" fill="#2442a0"/>
<circle cx="1178.5" cy="193.7" r="4.3" fill="#2442a0"/>
<line x1="1090.5" y1="79.8" x2="1107.7" y2="79.8" stroke="#2442a0" stroke-width="1.7"/>
<circle cx="1099" cy="79.8" r="4.3" fill="#2442a0"/>
<text x="1117.4" y="84.17" font-size="12.7" text-anchor="start" fill="#000" font-weight="bold">Gefitinib</text>
<line x1="1090.5" y1="101.9" x2="1107.7" y2="101.9" stroke="#ee3a2c" stroke-width="1.7"/>
<circle cx="1099" cy="101.9" r="4.3" fill="#ee3a2c"/>
<text x="1117.4" y="106.27" font-size="12.7" text-anchor="start" fill="#000" font-weight="bold">Canertinib</text>
<line x1="965.9" y1="254.6" x2="965.9" y2="393.7" stroke="#000" stroke-width="1.5"/>
<line x1="963.5" y1="383.96" x2="965.9" y2="383.96" stroke="#000" stroke-width="1"/>
<line x1="963.5" y1="374.72" x2="965.9" y2="374.72" stroke="#000" stroke-width="1"/>
<line x1="963.5" y1="365.48" x2="965.9" y2="365.48" stroke="#000" stroke-width="1"/>
<line x1="963.5" y1="356.24" x2="965.9" y2="356.24" stroke="#000" stroke-width="1"/>
<line x1="963.5" y1="337.76" x2="965.9" y2="337.76" stroke="#000" stroke-width="1"/>
<line x1="963.5" y1="328.52" x2="965.9" y2="328.52" stroke="#000" stroke-width="1"/>
<line x1="963.5" y1="319.28" x2="965.9" y2="319.28" stroke="#000" stroke-width="1"/>
<line x1="963.5" y1="310.04" x2="965.9" y2="310.04" stroke="#000" stroke-width="1"/>
<line x1="963.5" y1="291.56" x2="965.9" y2="291.56" stroke="#000" stroke-width="1"/>
<line x1="963.5" y1="282.32" x2="965.9" y2="282.32" stroke="#000" stroke-width="1"/>
<line x1="963.5" y1="273.08" x2="965.9" y2="273.08" stroke="#000" stroke-width="1"/>
<line x1="963.5" y1="263.84" x2="965.9" y2="263.84" stroke="#000" stroke-width="1"/>
<line x1="961.3" y1="393.2" x2="965.9" y2="393.2" stroke="#000" stroke-width="1.2"/>
<text x="960.4" y="397.26" font-size="11.8" text-anchor="end" fill="#000" font-weight="bold">0</text>
<line x1="961.3" y1="347" x2="965.9" y2="347" stroke="#000" stroke-width="1.2"/>
<text x="960.4" y="351.06" font-size="11.8" text-anchor="end" fill="#000" font-weight="bold">500</text>
<line x1="961.3" y1="300.8" x2="965.9" y2="300.8" stroke="#000" stroke-width="1.2"/>
<text x="960.4" y="304.86" font-size="11.8" text-anchor="end" fill="#000" font-weight="bold">1000</text>
<line x1="961.3" y1="254.6" x2="965.9" y2="254.6" stroke="#000" stroke-width="1.2"/>
<text x="960.4" y="258.66" font-size="11.8" text-anchor="end" fill="#000" font-weight="bold">1500</text>
<line x1="971.3" y1="398.3" x2="1190.6" y2="398.3" stroke="#000" stroke-width="1.5"/>
<line x1="984.2" y1="398.3" x2="984.2" y2="402.8" stroke="#000" stroke-width="1.3"/>
<text x="984.2" y="413.43" font-size="12" text-anchor="middle" fill="#000" font-weight="bold">0</text>
<line x1="1011.9" y1="398.3" x2="1011.9" y2="402.8" stroke="#000" stroke-width="1.3"/>
<text x="1011.9" y="413.43" font-size="12" text-anchor="middle" fill="#000" font-weight="bold">0.5</text>
<line x1="1039.4" y1="398.3" x2="1039.4" y2="402.8" stroke="#000" stroke-width="1.3"/>
<text x="1039.4" y="413.43" font-size="12" text-anchor="middle" fill="#000" font-weight="bold">1</text>
<line x1="1066.8" y1="398.3" x2="1066.8" y2="402.8" stroke="#000" stroke-width="1.3"/>
<text x="1066.8" y="413.43" font-size="12" text-anchor="middle" fill="#000" font-weight="bold">1.5</text>
<line x1="1094.2" y1="398.3" x2="1094.2" y2="402.8" stroke="#000" stroke-width="1.3"/>
<text x="1094.2" y="413.43" font-size="12" text-anchor="middle" fill="#000" font-weight="bold">2</text>
<line x1="1122" y1="398.3" x2="1122" y2="402.8" stroke="#000" stroke-width="1.3"/>
<text x="1122" y="413.43" font-size="12" text-anchor="middle" fill="#000" font-weight="bold">4</text>
<line x1="1149.4" y1="398.3" x2="1149.4" y2="402.8" stroke="#000" stroke-width="1.3"/>
<text x="1149.4" y="413.43" font-size="12" text-anchor="middle" fill="#000" font-weight="bold">6</text>
<line x1="1176.6" y1="398.3" x2="1176.6" y2="402.8" stroke="#000" stroke-width="1.3"/>
<text x="1176.6" y="413.43" font-size="12" text-anchor="middle" fill="#000" font-weight="bold">8</text>
<text x="1080.9" y="432.37" font-size="12.7" text-anchor="middle" fill="#000" font-weight="bold">Time (hours)</text>
<text x="0" y="0" transform="translate(914.62,325.2) rotate(-90)" font-size="11.4" text-anchor="middle" fill="#000" font-weight="bold">pERK1/2 T202/Y204</text>
<text x="0" y="0" transform="translate(927.32,325.1) rotate(-90)" font-size="11.4" text-anchor="middle" fill="#000" font-weight="bold">normalized to vehicle (%)</text>
<line x1="1011.9" y1="326.4" x2="1011.9" y2="355.2" stroke="#5a6eb9" stroke-width="1.1"/>
<line x1="1008" y1="326.4" x2="1015.8" y2="326.4" stroke="#5a6eb9" stroke-width="1.1"/>
<line x1="1008" y1="355.2" x2="1015.8" y2="355.2" stroke="#5a6eb9" stroke-width="1.1"/>
<line x1="1039.4" y1="332.6" x2="1039.4" y2="365.5" stroke="#5a6eb9" stroke-width="1.1"/>
<line x1="1035.5" y1="332.6" x2="1043.3" y2="332.6" stroke="#5a6eb9" stroke-width="1.1"/>
<line x1="1035.5" y1="365.5" x2="1043.3" y2="365.5" stroke="#5a6eb9" stroke-width="1.1"/>
<line x1="1066.8" y1="326.4" x2="1066.8" y2="372.2" stroke="#5a6eb9" stroke-width="1.1"/>
<line x1="1062.9" y1="326.4" x2="1070.7" y2="326.4" stroke="#5a6eb9" stroke-width="1.1"/>
<line x1="1062.9" y1="372.2" x2="1070.7" y2="372.2" stroke="#5a6eb9" stroke-width="1.1"/>
<line x1="1094.2" y1="348" x2="1094.2" y2="366.8" stroke="#5a6eb9" stroke-width="1.1"/>
<line x1="1090.3" y1="348" x2="1098.1" y2="348" stroke="#5a6eb9" stroke-width="1.1"/>
<line x1="1090.3" y1="366.8" x2="1098.1" y2="366.8" stroke="#5a6eb9" stroke-width="1.1"/>
<line x1="1122" y1="330.5" x2="1122" y2="368.1" stroke="#5a6eb9" stroke-width="1.1"/>
<line x1="1118.1" y1="330.5" x2="1125.9" y2="330.5" stroke="#5a6eb9" stroke-width="1.1"/>
<line x1="1118.1" y1="368.1" x2="1125.9" y2="368.1" stroke="#5a6eb9" stroke-width="1.1"/>
<line x1="1149.4" y1="329.7" x2="1149.4" y2="350.7" stroke="#5a6eb9" stroke-width="1.1"/>
<line x1="1145.5" y1="329.7" x2="1153.3" y2="329.7" stroke="#5a6eb9" stroke-width="1.1"/>
<line x1="1145.5" y1="350.7" x2="1153.3" y2="350.7" stroke="#5a6eb9" stroke-width="1.1"/>
<line x1="1176.6" y1="280.7" x2="1176.6" y2="360.1" stroke="#5a6eb9" stroke-width="1.1"/>
<line x1="1172.7" y1="280.7" x2="1180.5" y2="280.7" stroke="#5a6eb9" stroke-width="1.1"/>
<line x1="1172.7" y1="360.1" x2="1180.5" y2="360.1" stroke="#5a6eb9" stroke-width="1.1"/>
<polyline points="984.2,384.3 1011.9,340.7 1039.4,348.8 1066.8,348.8 1094.2,357.4 1122,348.8 1149.4,339.9 1176.6,320.5" fill="none" stroke="#2442a0" stroke-width="1.7"/>
<circle cx="984.2" cy="384.3" r="4.3" fill="#2442a0"/>
<circle cx="1011.9" cy="340.7" r="4.3" fill="#2442a0"/>
<circle cx="1039.4" cy="348.8" r="4.3" fill="#2442a0"/>
<circle cx="1066.8" cy="348.8" r="4.3" fill="#2442a0"/>
<circle cx="1094.2" cy="357.4" r="4.3" fill="#2442a0"/>
<circle cx="1122" cy="348.8" r="4.3" fill="#2442a0"/>
<circle cx="1149.4" cy="339.9" r="4.3" fill="#2442a0"/>
<circle cx="1176.6" cy="320.5" r="4.3" fill="#2442a0"/>
<line x1="1066.8" y1="368.7" x2="1066.8" y2="383.8" stroke="#f37c71" stroke-width="1.1"/>
<line x1="1062.9" y1="368.7" x2="1070.7" y2="368.7" stroke="#f37c71" stroke-width="1.1"/>
<line x1="1062.9" y1="383.8" x2="1070.7" y2="383.8" stroke="#f37c71" stroke-width="1.1"/>
<line x1="1094.2" y1="375" x2="1094.2" y2="381" stroke="#f37c71" stroke-width="1.1"/>
<line x1="1090.3" y1="375" x2="1098.1" y2="375" stroke="#f37c71" stroke-width="1.1"/>
<line x1="1090.3" y1="381" x2="1098.1" y2="381" stroke="#f37c71" stroke-width="1.1"/>
<line x1="1122" y1="341.2" x2="1122" y2="377" stroke="#f37c71" stroke-width="1.1"/>
<line x1="1118.1" y1="341.2" x2="1125.9" y2="341.2" stroke="#f37c71" stroke-width="1.1"/>
<line x1="1118.1" y1="377" x2="1125.9" y2="377" stroke="#f37c71" stroke-width="1.1"/>
<line x1="1149.4" y1="292.3" x2="1149.4" y2="345.8" stroke="#f37c71" stroke-width="1.1"/>
<line x1="1145.5" y1="292.3" x2="1153.3" y2="292.3" stroke="#f37c71" stroke-width="1.1"/>
<line x1="1145.5" y1="345.8" x2="1153.3" y2="345.8" stroke="#f37c71" stroke-width="1.1"/>
<line x1="1176.6" y1="279.4" x2="1176.6" y2="329.7" stroke="#f37c71" stroke-width="1.1"/>
<line x1="1172.7" y1="279.4" x2="1180.5" y2="279.4" stroke="#f37c71" stroke-width="1.1"/>
<line x1="1172.7" y1="329.7" x2="1180.5" y2="329.7" stroke="#f37c71" stroke-width="1.1"/>
<polyline points="984.2,384.3 1011.9,383.8 1039.4,383 1066.8,376.2 1094.2,378.1 1122,358.7 1149.4,318.9 1176.6,304.4" fill="none" stroke="#ee3a2c" stroke-width="1.7"/>
<rect x="980" y="380.1" width="8.4" height="8.4" fill="#ee3a2c"/>
<rect x="1007.7" y="379.6" width="8.4" height="8.4" fill="#ee3a2c"/>
<rect x="1035.2" y="378.8" width="8.4" height="8.4" fill="#ee3a2c"/>
<rect x="1062.6" y="372" width="8.4" height="8.4" fill="#ee3a2c"/>
<rect x="1090" y="373.9" width="8.4" height="8.4" fill="#ee3a2c"/>
<rect x="1117.8" y="354.5" width="8.4" height="8.4" fill="#ee3a2c"/>
<rect x="1145.2" y="314.7" width="8.4" height="8.4" fill="#ee3a2c"/>
<rect x="1172.4" y="300.2" width="8.4" height="8.4" fill="#ee3a2c"/>
<line x1="967.2" y1="443.4" x2="967.2" y2="584.2" stroke="#000" stroke-width="1.5"/>
<line x1="964.8" y1="576.69" x2="967.2" y2="576.69" stroke="#000" stroke-width="1"/>
<line x1="964.8" y1="569.67" x2="967.2" y2="569.67" stroke="#000" stroke-width="1"/>
<line x1="964.8" y1="562.66" x2="967.2" y2="562.66" stroke="#000" stroke-width="1"/>
<line x1="964.8" y1="555.64" x2="967.2" y2="555.64" stroke="#000" stroke-width="1"/>
<line x1="964.8" y1="541.61" x2="967.2" y2="541.61" stroke="#000" stroke-width="1"/>
<line x1="964.8" y1="534.6" x2="967.2" y2="534.6" stroke="#000" stroke-width="1"/>
<line x1="964.8" y1="527.58" x2="967.2" y2="527.58" stroke="#000" stroke-width="1"/>
<line x1="964.8" y1="520.57" x2="967.2" y2="520.57" stroke="#000" stroke-width="1"/>
<line x1="964.8" y1="506.54" x2="967.2" y2="506.54" stroke="#000" stroke-width="1"/>
<line x1="964.8" y1="499.52" x2="967.2" y2="499.52" stroke="#000" stroke-width="1"/>
<line x1="964.8" y1="492.5" x2="967.2" y2="492.5" stroke="#000" stroke-width="1"/>
<line x1="964.8" y1="485.49" x2="967.2" y2="485.49" stroke="#000" stroke-width="1"/>
<line x1="964.8" y1="471.46" x2="967.2" y2="471.46" stroke="#000" stroke-width="1"/>
<line x1="964.8" y1="464.44" x2="967.2" y2="464.44" stroke="#000" stroke-width="1"/>
<line x1="964.8" y1="457.43" x2="967.2" y2="457.43" stroke="#000" stroke-width="1"/>
<line x1="964.8" y1="450.41" x2="967.2" y2="450.41" stroke="#000" stroke-width="1"/>
<line x1="962.6" y1="583.7" x2="967.2" y2="583.7" stroke="#000" stroke-width="1.2"/>
<text x="961.7" y="587.76" font-size="11.8" text-anchor="end" fill="#000" font-weight="bold">0</text>
<line x1="962.6" y1="548.62" x2="967.2" y2="548.62" stroke="#000" stroke-width="1.2"/>
<text x="961.7" y="552.68" font-size="11.8" text-anchor="end" fill="#000" font-weight="bold">100</text>
<line x1="962.6" y1="513.55" x2="967.2" y2="513.55" stroke="#000" stroke-width="1.2"/>
<text x="961.7" y="517.61" font-size="11.8" text-anchor="end" fill="#000" font-weight="bold">200</text>
<line x1="962.6" y1="478.48" x2="967.2" y2="478.48" stroke="#000" stroke-width="1.2"/>
<text x="961.7" y="482.53" font-size="11.8" text-anchor="end" fill="#000" font-weight="bold">300</text>
<line x1="962.6" y1="443.4" x2="967.2" y2="443.4" stroke="#000" stroke-width="1.2"/>
<text x="961.7" y="447.46" font-size="11.8" text-anchor="end" fill="#000" font-weight="bold">400</text>
<line x1="972.4" y1="586.5" x2="1193" y2="586.5" stroke="#000" stroke-width="1.5"/>
<line x1="989.3" y1="586.5" x2="989.3" y2="591" stroke="#000" stroke-width="1.3"/>
<text x="989.3" y="603.23" font-size="12" text-anchor="middle" fill="#000" font-weight="bold">0</text>
<line x1="1016.2" y1="586.5" x2="1016.2" y2="591" stroke="#000" stroke-width="1.3"/>
<text x="1016.2" y="603.23" font-size="12" text-anchor="middle" fill="#000" font-weight="bold">0.5</text>
<line x1="1042.9" y1="586.5" x2="1042.9" y2="591" stroke="#000" stroke-width="1.3"/>
<text x="1042.9" y="603.23" font-size="12" text-anchor="middle" fill="#000" font-weight="bold">1</text>
<line x1="1069.4" y1="586.5" x2="1069.4" y2="591" stroke="#000" stroke-width="1.3"/>
<text x="1069.4" y="603.23" font-size="12" text-anchor="middle" fill="#000" font-weight="bold">1.5</text>
<line x1="1095.8" y1="586.5" x2="1095.8" y2="591" stroke="#000" stroke-width="1.3"/>
<text x="1095.8" y="603.23" font-size="12" text-anchor="middle" fill="#000" font-weight="bold">2</text>
<line x1="1122.5" y1="586.5" x2="1122.5" y2="591" stroke="#000" stroke-width="1.3"/>
<text x="1122.5" y="603.23" font-size="12" text-anchor="middle" fill="#000" font-weight="bold">4</text>
<line x1="1148.9" y1="586.5" x2="1148.9" y2="591" stroke="#000" stroke-width="1.3"/>
<text x="1148.9" y="603.23" font-size="12" text-anchor="middle" fill="#000" font-weight="bold">6</text>
<line x1="1175.3" y1="586.5" x2="1175.3" y2="591" stroke="#000" stroke-width="1.3"/>
<text x="1175.3" y="603.23" font-size="12" text-anchor="middle" fill="#000" font-weight="bold">8</text>
<text x="1079.6" y="617.07" font-size="12.7" text-anchor="middle" fill="#000" font-weight="bold">Time (hours)</text>
<text x="0" y="0" transform="translate(924.42,516.6) rotate(-90)" font-size="11.4" text-anchor="middle" fill="#000" font-weight="bold">pAKT S473 normalized</text>
<text x="0" y="0" transform="translate(937.12,514.6) rotate(-90)" font-size="11.4" text-anchor="middle" fill="#000" font-weight="bold">to vehicle (%)</text>
<line x1="1016.2" y1="514.7" x2="1016.2" y2="528.6" stroke="#5a6eb9" stroke-width="1.1"/>
<line x1="1012.3" y1="514.7" x2="1020.1" y2="514.7" stroke="#5a6eb9" stroke-width="1.1"/>
<line x1="1012.3" y1="528.6" x2="1020.1" y2="528.6" stroke="#5a6eb9" stroke-width="1.1"/>
<line x1="1069.4" y1="525" x2="1069.4" y2="531.9" stroke="#5a6eb9" stroke-width="1.1"/>
<line x1="1065.5" y1="525" x2="1073.3" y2="525" stroke="#5a6eb9" stroke-width="1.1"/>
<line x1="1065.5" y1="531.9" x2="1073.3" y2="531.9" stroke="#5a6eb9" stroke-width="1.1"/>
<line x1="1095.8" y1="522.9" x2="1095.8" y2="530.6" stroke="#5a6eb9" stroke-width="1.1"/>
<line x1="1091.9" y1="522.9" x2="1099.7" y2="522.9" stroke="#5a6eb9" stroke-width="1.1"/>
<line x1="1091.9" y1="530.6" x2="1099.7" y2="530.6" stroke="#5a6eb9" stroke-width="1.1"/>
<line x1="1122.5" y1="513.9" x2="1122.5" y2="521.6" stroke="#5a6eb9" stroke-width="1.1"/>
<line x1="1118.6" y1="513.9" x2="1126.4" y2="513.9" stroke="#5a6eb9" stroke-width="1.1"/>
<line x1="1118.6" y1="521.6" x2="1126.4" y2="521.6" stroke="#5a6eb9" stroke-width="1.1"/>
<line x1="1148.9" y1="521.6" x2="1148.9" y2="530.6" stroke="#5a6eb9" stroke-width="1.1"/>
<line x1="1145" y1="521.6" x2="1152.8" y2="521.6" stroke="#5a6eb9" stroke-width="1.1"/>
<line x1="1145" y1="530.6" x2="1152.8" y2="530.6" stroke="#5a6eb9" stroke-width="1.1"/>
<line x1="1175.3" y1="499.8" x2="1175.3" y2="517.8" stroke="#5a6eb9" stroke-width="1.1"/>
<line x1="1171.4" y1="499.8" x2="1179.2" y2="499.8" stroke="#5a6eb9" stroke-width="1.1"/>
<line x1="1171.4" y1="517.8" x2="1179.2" y2="517.8" stroke="#5a6eb9" stroke-width="1.1"/>
<polyline points="989.3,548.6 1016.2,521.6 1042.9,533.7 1069.4,528.6 1095.8,526.8 1122.5,517.8 1148.9,526.2 1175.3,508.8" fill="none" stroke="#2442a0" stroke-width="1.7"/>
<circle cx="989.3" cy="548.6" r="4.3" fill="#2442a0"/>
<circle cx="1016.2" cy="521.6" r="4.3" fill="#2442a0"/>
<circle cx="1042.9" cy="533.7" r="4.3" fill="#2442a0"/>
<circle cx="1069.4" cy="528.6" r="4.3" fill="#2442a0"/>
<circle cx="1095.8" cy="526.8" r="4.3" fill="#2442a0"/>
<circle cx="1122.5" cy="517.8" r="4.3" fill="#2442a0"/>
<circle cx="1148.9" cy="526.2" r="4.3" fill="#2442a0"/>
<circle cx="1175.3" cy="508.8" r="4.3" fill="#2442a0"/>
<line x1="1016.2" y1="539.6" x2="1016.2" y2="546" stroke="#f37c71" stroke-width="1.1"/>
<line x1="1012.3" y1="539.6" x2="1020.1" y2="539.6" stroke="#f37c71" stroke-width="1.1"/>
<line x1="1012.3" y1="546" x2="1020.1" y2="546" stroke="#f37c71" stroke-width="1.1"/>
<line x1="1095.8" y1="539.6" x2="1095.8" y2="547.3" stroke="#f37c71" stroke-width="1.1"/>
<line x1="1091.9" y1="539.6" x2="1099.7" y2="539.6" stroke="#f37c71" stroke-width="1.1"/>
<line x1="1091.9" y1="547.3" x2="1099.7" y2="547.3" stroke="#f37c71" stroke-width="1.1"/>
<line x1="1122.5" y1="524.7" x2="1122.5" y2="538.8" stroke="#f37c71" stroke-width="1.1"/>
<line x1="1118.6" y1="524.7" x2="1126.4" y2="524.7" stroke="#f37c71" stroke-width="1.1"/>
<line x1="1118.6" y1="538.8" x2="1126.4" y2="538.8" stroke="#f37c71" stroke-width="1.1"/>
<line x1="1148.9" y1="499.8" x2="1148.9" y2="513.9" stroke="#f37c71" stroke-width="1.1"/>
<line x1="1145" y1="499.8" x2="1152.8" y2="499.8" stroke="#f37c71" stroke-width="1.1"/>
<line x1="1145" y1="513.9" x2="1152.8" y2="513.9" stroke="#f37c71" stroke-width="1.1"/>
<line x1="1175.3" y1="455.7" x2="1175.3" y2="498.5" stroke="#f37c71" stroke-width="1.1"/>
<line x1="1171.4" y1="455.7" x2="1179.2" y2="455.7" stroke="#f37c71" stroke-width="1.1"/>
<line x1="1171.4" y1="498.5" x2="1179.2" y2="498.5" stroke="#f37c71" stroke-width="1.1"/>
<polyline points="989.3,548.6 1016.2,542.7 1042.9,548.6 1069.4,546.5 1095.8,543.4 1122.5,531.9 1148.9,507.5 1175.3,477.2" fill="none" stroke="#ee3a2c" stroke-width="1.7"/>
<circle cx="989.3" cy="548.6" r="4.3" fill="#ee3a2c"/>
<circle cx="1016.2" cy="542.7" r="4.3" fill="#ee3a2c"/>
<circle cx="1042.9" cy="548.6" r="4.3" fill="#ee3a2c"/>
<circle cx="1069.4" cy="546.5" r="4.3" fill="#ee3a2c"/>
<circle cx="1095.8" cy="543.4" r="4.3" fill="#ee3a2c"/>
<circle cx="1122.5" cy="531.9" r="4.3" fill="#ee3a2c"/>
<circle cx="1148.9" cy="507.5" r="4.3" fill="#ee3a2c"/>
<circle cx="1175.3" cy="477.2" r="4.3" fill="#ee3a2c"/>
<line x1="966.6" y1="627.8" x2="966.6" y2="773.2" stroke="#000" stroke-width="1.5"/>
<line x1="964.2" y1="763.04" x2="966.6" y2="763.04" stroke="#000" stroke-width="1"/>
<line x1="964.2" y1="753.38" x2="966.6" y2="753.38" stroke="#000" stroke-width="1"/>
<line x1="964.2" y1="743.72" x2="966.6" y2="743.72" stroke="#000" stroke-width="1"/>
<line x1="964.2" y1="734.06" x2="966.6" y2="734.06" stroke="#000" stroke-width="1"/>
<line x1="964.2" y1="714.74" x2="966.6" y2="714.74" stroke="#000" stroke-width="1"/>
<line x1="964.2" y1="705.08" x2="966.6" y2="705.08" stroke="#000" stroke-width="1"/>
<line x1="964.2" y1="695.42" x2="966.6" y2="695.42" stroke="#000" stroke-width="1"/>
<line x1="964.2" y1="685.76" x2="966.6" y2="685.76" stroke="#000" stroke-width="1"/>
<line x1="964.2" y1="666.44" x2="966.6" y2="666.44" stroke="#000" stroke-width="1"/>
<line x1="964.2" y1="656.78" x2="966.6" y2="656.78" stroke="#000" stroke-width="1"/>
<line x1="964.2" y1="647.12" x2="966.6" y2="647.12" stroke="#000" stroke-width="1"/>
<line x1="964.2" y1="637.46" x2="966.6" y2="637.46" stroke="#000" stroke-width="1"/>
<line x1="962" y1="772.7" x2="966.6" y2="772.7" stroke="#000" stroke-width="1.2"/>
<text x="961.1" y="776.76" font-size="11.8" text-anchor="end" fill="#000" font-weight="bold">0</text>
<line x1="962" y1="724.4" x2="966.6" y2="724.4" stroke="#000" stroke-width="1.2"/>
<text x="961.1" y="728.46" font-size="11.8" text-anchor="end" fill="#000" font-weight="bold">5</text>
<line x1="962" y1="676.1" x2="966.6" y2="676.1" stroke="#000" stroke-width="1.2"/>
<text x="961.1" y="680.16" font-size="11.8" text-anchor="end" fill="#000" font-weight="bold">10</text>
<line x1="962" y1="627.8" x2="966.6" y2="627.8" stroke="#000" stroke-width="1.2"/>
<text x="961.1" y="631.86" font-size="11.8" text-anchor="end" fill="#000" font-weight="bold">15</text>
<line x1="971.2" y1="778.3" x2="1198.7" y2="778.3" stroke="#000" stroke-width="1.5"/>
<line x1="985.2" y1="778.3" x2="985.2" y2="782.8" stroke="#000" stroke-width="1.3"/>
<text x="985.2" y="795.93" font-size="12" text-anchor="middle" fill="#000" font-weight="bold">0</text>
<line x1="1013.7" y1="778.3" x2="1013.7" y2="782.8" stroke="#000" stroke-width="1.3"/>
<text x="1013.7" y="795.93" font-size="12" text-anchor="middle" fill="#000" font-weight="bold">0.5</text>
<line x1="1042.4" y1="778.3" x2="1042.4" y2="782.8" stroke="#000" stroke-width="1.3"/>
<text x="1042.4" y="795.93" font-size="12" text-anchor="middle" fill="#000" font-weight="bold">1</text>
<line x1="1070.9" y1="778.3" x2="1070.9" y2="782.8" stroke="#000" stroke-width="1.3"/>
<text x="1070.9" y="795.93" font-size="12" text-anchor="middle" fill="#000" font-weight="bold">1.5</text>
<line x1="1099.6" y1="778.3" x2="1099.6" y2="782.8" stroke="#000" stroke-width="1.3"/>
<text x="1099.6" y="795.93" font-size="12" text-anchor="middle" fill="#000" font-weight="bold">2</text>
<line x1="1128.3" y1="778.3" x2="1128.3" y2="782.8" stroke="#000" stroke-width="1.3"/>
<text x="1128.3" y="795.93" font-size="12" text-anchor="middle" fill="#000" font-weight="bold">4</text>
<line x1="1156.8" y1="778.3" x2="1156.8" y2="782.8" stroke="#000" stroke-width="1.3"/>
<text x="1156.8" y="795.93" font-size="12" text-anchor="middle" fill="#000" font-weight="bold">6</text>
<line x1="1185.5" y1="778.3" x2="1185.5" y2="782.8" stroke="#000" stroke-width="1.3"/>
<text x="1185.5" y="795.93" font-size="12" text-anchor="middle" fill="#000" font-weight="bold">8</text>
<text x="1080.5" y="814.77" font-size="12.7" text-anchor="middle" fill="#000" font-weight="bold">Time (hours)</text>
<text x="0" y="0" transform="translate(940.62,705.5) rotate(-90)" font-size="11.4" text-anchor="middle" fill="#000" font-weight="bold">Cleaved PARP (A.U.)</text>
<line x1="1128.3" y1="678.6" x2="1128.3" y2="704.6" stroke="#f37c71" stroke-width="1.1"/>
<line x1="1124.4" y1="678.6" x2="1132.2" y2="678.6" stroke="#f37c71" stroke-width="1.1"/>
<line x1="1124.4" y1="704.6" x2="1132.2" y2="704.6" stroke="#f37c71" stroke-width="1.1"/>
<line x1="1156.8" y1="642.3" x2="1156.8" y2="677.4" stroke="#f37c71" stroke-width="1.1"/>
<line x1="1152.9" y1="642.3" x2="1160.7" y2="642.3" stroke="#f37c71" stroke-width="1.1"/>
<line x1="1152.9" y1="677.4" x2="1160.7" y2="677.4" stroke="#f37c71" stroke-width="1.1"/>
<line x1="1185.5" y1="663.4" x2="1185.5" y2="693.9" stroke="#f37c71" stroke-width="1.1"/>
<line x1="1181.6" y1="663.4" x2="1189.4" y2="663.4" stroke="#f37c71" stroke-width="1.1"/>
<line x1="1181.6" y1="693.9" x2="1189.4" y2="693.9" stroke="#f37c71" stroke-width="1.1"/>
<polyline points="985.2,763.3 1013.7,769.7 1042.4,765.6 1070.9,761.8 1099.6,742.2 1128.3,691.9 1156.8,659.6 1185.5,678.6" fill="none" stroke="#ee3a2c" stroke-width="1.7"/>
<rect x="981" y="759.1" width="8.4" height="8.4" fill="#ee3a2c"/>
<rect x="1009.5" y="765.5" width="8.4" height="8.4" fill="#ee3a2c"/>
<rect x="1038.2" y="761.4" width="8.4" height="8.4" fill="#ee3a2c"/>
<rect x="1066.7" y="757.6" width="8.4" height="8.4" fill="#ee3a2c"/>
<rect x="1095.4" y="738" width="8.4" height="8.4" fill="#ee3a2c"/>
<rect x="1124.1" y="687.7" width="8.4" height="8.4" fill="#ee3a2c"/>
<rect x="1152.6" y="655.4" width="8.4" height="8.4" fill="#ee3a2c"/>
<rect x="1181.3" y="674.4" width="8.4" height="8.4" fill="#ee3a2c"/>
<line x1="1070.9" y1="744.8" x2="1070.9" y2="753.7" stroke="#5a6eb9" stroke-width="1.1"/>
<line x1="1067" y1="744.8" x2="1074.8" y2="744.8" stroke="#5a6eb9" stroke-width="1.1"/>
<line x1="1067" y1="753.7" x2="1074.8" y2="753.7" stroke="#5a6eb9" stroke-width="1.1"/>
<line x1="1099.6" y1="729.5" x2="1099.6" y2="748.6" stroke="#5a6eb9" stroke-width="1.1"/>
<line x1="1095.7" y1="729.5" x2="1103.5" y2="729.5" stroke="#5a6eb9" stroke-width="1.1"/>
<line x1="1095.7" y1="748.6" x2="1103.5" y2="748.6" stroke="#5a6eb9" stroke-width="1.1"/>
<polyline points="985.2,763.3 1013.7,761.8 1042.4,755.7 1070.9,749.1 1099.6,738.9 1128.3,751.1 1156.8,754.9 1185.5,757" fill="none" stroke="#2442a0" stroke-width="1.7"/>
<circle cx="985.2" cy="763.3" r="4.3" fill="#2442a0"/>
<circle cx="1013.7" cy="761.8" r="4.3" fill="#2442a0"/>
<circle cx="1042.4" cy="755.7" r="4.3" fill="#2442a0"/>
<circle cx="1070.9" cy="749.1" r="4.3" fill="#2442a0"/>
<circle cx="1099.6" cy="738.9" r="4.3" fill="#2442a0"/>
<circle cx="1128.3" cy="751.1" r="4.3" fill="#2442a0"/>
<circle cx="1156.8" cy="754.9" r="4.3" fill="#2442a0"/>
<circle cx="1185.5" cy="757" r="4.3" fill="#2442a0"/>
<text x="1186" y="665.44" font-size="24" text-anchor="middle" fill="#000" font-weight="bold">*</text>
</svg></body></html>
